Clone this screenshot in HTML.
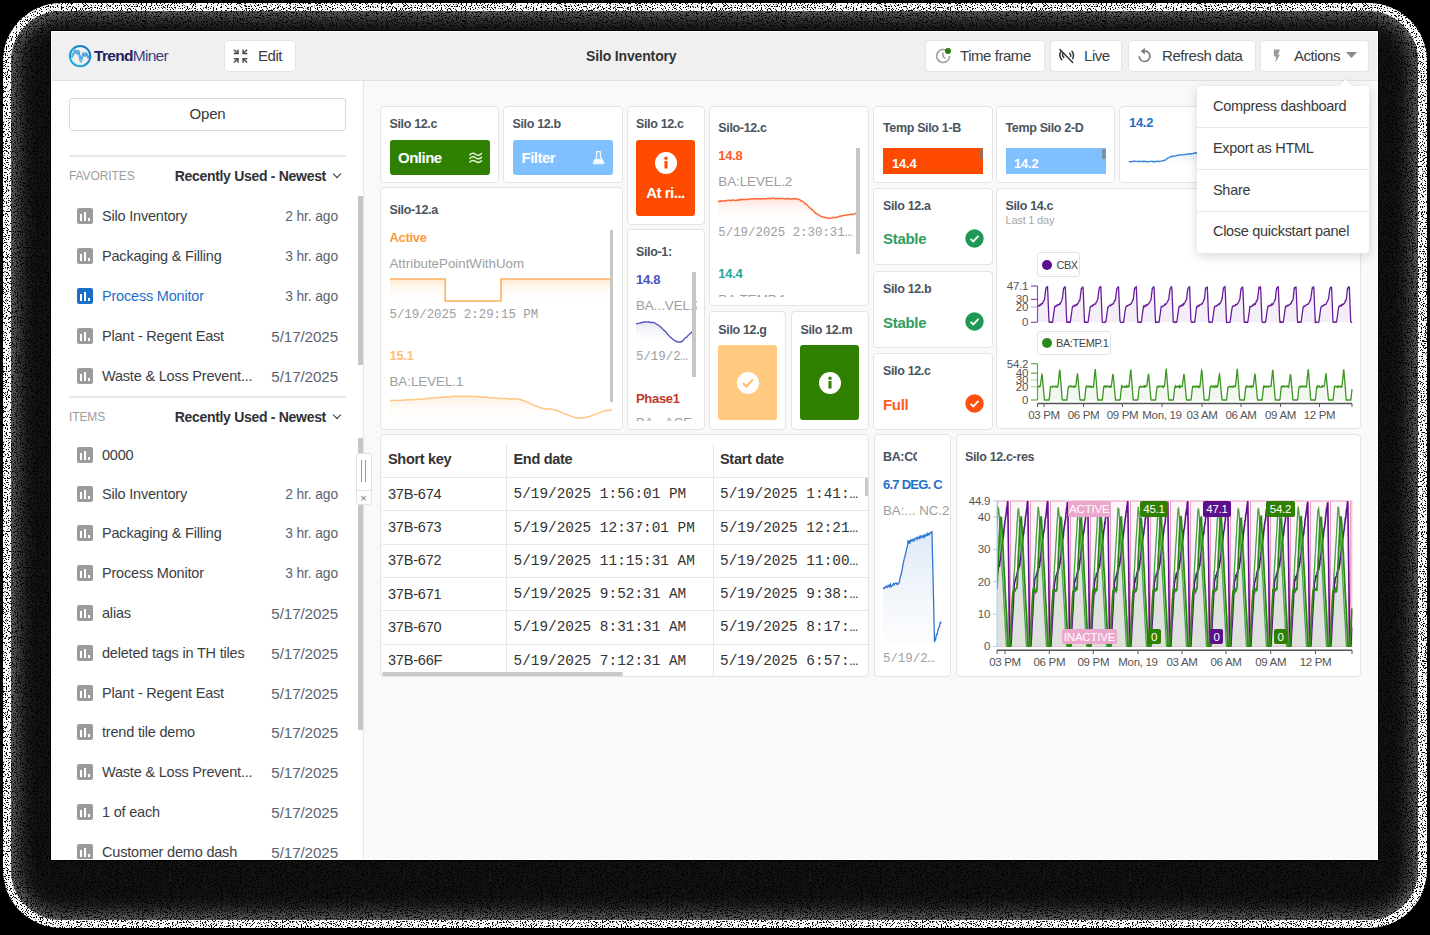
<!DOCTYPE html>
<html><head><meta charset="utf-8">
<style>
*{box-sizing:border-box;margin:0;padding:0}
html,body{width:1430px;height:935px;overflow:hidden;background:#000;font-family:"Liberation Sans",sans-serif;color:#333}
.a{position:absolute}
.t{position:absolute;white-space:nowrap;line-height:21px;height:21px}
#band{left:3px;top:3px;width:1424px;height:925px;border-radius:58px;background:#fcfcfc}
#shad{left:11px;top:11px;width:1407px;height:909px;border-radius:50px;background:#121212;box-shadow:inset 0 0 20px 4px #808080}
#win{left:51px;top:31px;width:1327px;height:829px;background:#f9f9f9;box-shadow:0 0 0 1px #000}
#hdr{left:51px;top:31px;width:1327px;height:50px;background:#f0f0f0;border-bottom:1px solid #e0e0e0}
.btn{position:absolute;background:#fff;border:1px solid #e4e4e4;border-radius:4px;height:32px;top:40px}
.ht{position:absolute;white-space:nowrap;line-height:20px;top:46px;font-size:15px;letter-spacing:-0.45px;color:#3d3d3d}
#side{left:51px;top:81px;width:313px;height:779px;background:#fff;border-right:1px solid #e6e6e6}
#sclip{left:0;top:81px;width:364px;height:779px;overflow:hidden}
#sclip .in{position:absolute;left:0;top:-81px;width:364px;height:935px}
.ic{position:absolute;left:77px;width:16px;height:16px;border-radius:2px;background:#9b9b9b}
.ic i{position:absolute;width:2.2px;background:#fff}
.ic.blue{background:#1a6fc9}
.it{left:102px;font-size:14.5px;letter-spacing:-0.2px;color:#3b3e44}
.it.blue{color:#1f6fc6}
.dt{right:26px;font-size:14.5px;letter-spacing:-0.1px;color:#5a6372;text-align:right}
.sec{left:69px;font-size:12px;letter-spacing:-0.1px;color:#9c9c9c}
.sort{right:38px;font-size:14px;font-weight:bold;letter-spacing:-0.3px;color:#2f3237;text-align:right}
.chev{position:absolute;left:334px;width:6px;height:6px;border-right:1.6px solid #333;border-bottom:1.6px solid #333;transform:rotate(45deg)}
.div{position:absolute;left:69px;width:277px;height:2px;background:#e8e8e8}
.sb{position:absolute;left:358px;width:4.5px;background:#c6c6c6}
.tile{position:absolute;background:#fff;border:1px solid #e4e4e4;border-radius:4px}
.ttl{font-size:12.5px;font-weight:bold;letter-spacing:-0.35px;color:#4a5460}
.bdg{font-size:15px;font-weight:bold;letter-spacing:-0.5px;color:#fff}
.val{font-size:13px;font-weight:bold;letter-spacing:-0.3px}
.lbl{font-size:13.3px;letter-spacing:0px;color:#9e9e9e}
.mono{font-family:"Liberation Mono",monospace;font-size:12.4px;color:#9e9e9e}
.bar{font-size:13px;font-weight:bold;letter-spacing:-0.2px;color:#fff}
.stat{font-size:15px;font-weight:bold;letter-spacing:-0.3px}
.sub{font-size:11px;letter-spacing:-0.2px;color:#a8a8a8}
.leg{font-size:11px;letter-spacing:-0.4px;color:#444}
.axl{font-size:11.5px;letter-spacing:-0.3px;color:#555;text-align:right}
.axx{font-size:11.5px;letter-spacing:-0.3px;color:#555;text-align:center}
.th{font-size:14.5px;font-weight:bold;letter-spacing:-0.3px;color:#333}
.td{font-size:14.5px;letter-spacing:-0.2px;color:#333}
.tdm{font-family:"Liberation Mono",monospace;font-size:14.4px;color:#333}
.cbdg{color:#fff;font-size:11.5px;line-height:16px;text-align:center;border-radius:2px;letter-spacing:-0.2px}
.mnu{font-size:14.5px;letter-spacing:-0.3px;color:#3a3a3a}
.clip{position:absolute;overflow:hidden}
.inr{position:absolute;width:1430px;height:935px}
</style></head><body>
<div id="band" class="a"></div>
<div id="shad" class="a"></div>
<svg class="a" style="left:0;top:0" width="1430" height="935">
<defs><filter id="nz" x="0" y="0" width="100%" height="100%"><feTurbulence type="fractalNoise" baseFrequency="0.8" numOctaves="2" seed="5" result="t"/><feColorMatrix in="t" type="matrix" values="0 0 0 0 0  0 0 0 0 0  0 0 0 0 0  0 0 0 -20 8.6"/></filter></defs>
<path d="M0 0 H1430 V935 H0 Z M51 31 V860 H1378 V31 Z" fill-rule="evenodd" fill="#000" filter="url(#nz)"/>
</svg>
<div id="win" class="a"></div>
<div id="hdr" class="a"></div>
<!-- logo -->
<svg class="a" style="left:0;top:0" width="100" height="80" viewBox="0 0 100 80">
 <defs><linearGradient id="lg" x1="1" y1="0" x2="0" y2="1"><stop offset="0" stop-color="#1b6fc4"/><stop offset="1" stop-color="#14b6e8"/></linearGradient></defs>
 <circle cx="80.1" cy="56.1" r="10.2" fill="none" stroke="url(#lg)" stroke-width="2"/>
 <path d="M71.4 57.8 L75.3 50.3 L76.9 53.5 L78.4 51 L80.8 61.6 L83.4 53.2 L84.9 55.8 L86.3 53.4 L88.7 58.2" fill="none" stroke="url(#lg)" stroke-width="2" stroke-linejoin="round"/>
 <path d="M71.4 57.8 L75.3 50.3 L76.9 53.5 L78.4 51 L80.8 61.6 L83.4 53.2 L84.9 55.8 L86.3 53.4 L88.7 58.2" fill="none" stroke="#d8eef9" stroke-width="0.5" stroke-linejoin="round"/>
</svg>
<div class="ht" style="left:94px;top:46px;font-size:15.5px;letter-spacing:-0.7px;color:#1c2260"><b>Trend</b><span style="color:#3c427e">Miner</span></div>
<div class="btn" style="left:224px;width:72px"></div>
<svg class="a" style="left:0;top:0" width="260" height="70" viewBox="0 0 260 70" fill="none" stroke="#4a4a4a" stroke-width="1.5" stroke-linecap="square">
 <path d="M234.5 50.3 L237.6 53.3"/><path d="M234.6 53.6 H238 V50.2"/>
 <path d="M246.6 50.3 L243.5 53.3"/><path d="M246.5 53.6 H243.1 V50.2"/>
 <path d="M234.5 62 L237.6 59"/><path d="M234.6 58.7 H238 V62.1"/>
 <path d="M246.6 62 L243.5 59"/><path d="M246.5 58.7 H243.1 V62.1"/>
</svg>
<div class="ht" style="left:258px">Edit</div>
<div class="ht" style="left:586px;font-weight:bold;font-size:14px;letter-spacing:-0.15px;color:#333">Silo Inventory</div>
<div class="btn" style="left:925px;width:120px"></div>
<svg class="a" style="left:934px;top:47.3px" width="20" height="18" viewBox="0 0 20 18" fill="none">
 <path d="M13.5 4.2 A6.5 6.5 0 1 0 15.6 9" stroke="#9c9c9c" stroke-width="1.6"/>
 <path d="M9 5.5 V9.5 L11.5 11.5" stroke="#9c9c9c" stroke-width="1.5"/>
 <circle cx="14" cy="4" r="3" fill="#2a7d06"/>
</svg>
<div class="ht" style="left:960px">Time frame</div>
<div class="btn" style="left:1050px;width:72px"></div>
<svg class="a" style="left:0;top:0" width="1080" height="70" viewBox="0 0 1080 70" fill="none" stroke="#333" stroke-width="1.5" stroke-linecap="round"><path d="M1060.7 51.8 Q1058.6 55.6 1061.7 59.7"/><path d="M1062.6 53.8 Q1062 55.8 1063.8 57.4"/><path d="M1069.7 53.2 Q1071 54.7 1070.7 56.4"/><path d="M1072 51.2 Q1074.6 54.8 1072.7 58.6"/><path d="M1059.9 49.5 L1072.7 62.5"/></svg>
<div class="ht" style="left:1084px">Live</div>
<div class="btn" style="left:1128px;width:128px"></div>
<svg class="a" style="left:0;top:0" width="1160" height="70" viewBox="0 0 1160 70"><path d="M1139.3 56.2 A5.3 5.3 0 1 0 1144.2 50.9" fill="none" stroke="#7a7a7a" stroke-width="1.7"/><path d="M1140.8 51.2 L1144.8 47.8 L1144.8 54.6 Z" fill="#7a7a7a"/></svg>
<div class="ht" style="left:1162px">Refresh data</div>
<div class="btn" style="left:1260px;width:109px"></div>
<svg class="a" style="left:0;top:0" width="1290" height="70" viewBox="0 0 1290 70"><path d="M1274 49.4 H1280 L1277.8 54.8 H1280 L1275.3 62.4 L1276.2 56.6 H1273.8 Z" fill="#9a9a9a"/></svg>
<div class="ht" style="left:1294px">Actions</div>
<svg class="a" style="left:1346px;top:52px" width="11" height="7" viewBox="0 0 11 7"><path d="M0 0 H11 L5.5 6 Z" fill="#8c8c8c"/></svg>

<div id="side" class="a"></div>
<div id="sclip" class="a"><div class="in">
<div class="a" style="left:69px;top:98px;width:277px;height:33px;border:1px solid #dadada;border-radius:3px"></div>
<div class="t" style="left:69px;width:277px;top:103px;text-align:center;font-size:15px;letter-spacing:-0.2px;color:#3a3a3a">Open</div>
<div class="div" style="top:155px"></div>
<div class="t sec" style="top:166px">FAVORITES</div>
<div class="t sort" style="top:166px">Recently Used - Newest</div>
<div class="chev" style="top:171px"></div>
<div class="div" style="top:395.5px"></div>
<div class="t sec" style="top:406.5px">ITEMS</div>
<div class="t sort" style="top:406.5px">Recently Used - Newest</div>
<div class="chev" style="top:411.5px"></div>
<div class="sb" style="top:196px;height:169px"></div>
<div class="sb" style="top:437.5px;height:292px"></div>
<div class="ic" style="top:207.5px"><i style="left:3px;top:6px;height:7px"></i><i style="left:7px;top:4px;height:9px"></i><i style="left:11px;top:10px;height:3px"></i></div><div class="t it" style="top:205.5px">Silo Inventory</div><div class="t dt" style="top:205.5px;font-size:13.8px">2 hr. ago</div>
<div class="ic" style="top:247.5px"><i style="left:3px;top:6px;height:7px"></i><i style="left:7px;top:4px;height:9px"></i><i style="left:11px;top:10px;height:3px"></i></div><div class="t it" style="top:245.5px">Packaging &amp; Filling</div><div class="t dt" style="top:245.5px;font-size:13.8px">3 hr. ago</div>
<div class="ic blue" style="top:287.5px"><i style="left:3px;top:6px;height:7px"></i><i style="left:7px;top:4px;height:9px"></i><i style="left:11px;top:10px;height:3px"></i></div><div class="t it blue" style="top:285.5px">Process Monitor</div><div class="t dt" style="top:285.5px;font-size:13.8px">3 hr. ago</div>
<div class="ic" style="top:327.5px"><i style="left:3px;top:6px;height:7px"></i><i style="left:7px;top:4px;height:9px"></i><i style="left:11px;top:10px;height:3px"></i></div><div class="t it" style="top:325.5px">Plant - Regent East</div><div class="t dt" style="top:325.5px;font-size:15.2px">5/17/2025</div>
<div class="ic" style="top:367.5px"><i style="left:3px;top:6px;height:7px"></i><i style="left:7px;top:4px;height:9px"></i><i style="left:11px;top:10px;height:3px"></i></div><div class="t it" style="top:365.5px">Waste &amp; Loss Prevent...</div><div class="t dt" style="top:365.5px;font-size:15.2px">5/17/2025</div>
<div class="ic" style="top:446.5px"><i style="left:3px;top:6px;height:7px"></i><i style="left:7px;top:4px;height:9px"></i><i style="left:11px;top:10px;height:3px"></i></div><div class="t it" style="top:444.5px">0000</div>
<div class="ic" style="top:485.5px"><i style="left:3px;top:6px;height:7px"></i><i style="left:7px;top:4px;height:9px"></i><i style="left:11px;top:10px;height:3px"></i></div><div class="t it" style="top:483.5px">Silo Inventory</div><div class="t dt" style="top:483.5px;font-size:13.8px">2 hr. ago</div>
<div class="ic" style="top:525.0px"><i style="left:3px;top:6px;height:7px"></i><i style="left:7px;top:4px;height:9px"></i><i style="left:11px;top:10px;height:3px"></i></div><div class="t it" style="top:523.0px">Packaging &amp; Filling</div><div class="t dt" style="top:523.0px;font-size:13.8px">3 hr. ago</div>
<div class="ic" style="top:565.0px"><i style="left:3px;top:6px;height:7px"></i><i style="left:7px;top:4px;height:9px"></i><i style="left:11px;top:10px;height:3px"></i></div><div class="t it" style="top:563.0px">Process Monitor</div><div class="t dt" style="top:563.0px;font-size:13.8px">3 hr. ago</div>
<div class="ic" style="top:604.6px"><i style="left:3px;top:6px;height:7px"></i><i style="left:7px;top:4px;height:9px"></i><i style="left:11px;top:10px;height:3px"></i></div><div class="t it" style="top:602.6px">alias</div><div class="t dt" style="top:602.6px;font-size:15.2px">5/17/2025</div>
<div class="ic" style="top:644.8px"><i style="left:3px;top:6px;height:7px"></i><i style="left:7px;top:4px;height:9px"></i><i style="left:11px;top:10px;height:3px"></i></div><div class="t it" style="top:642.8px">deleted tags in TH tiles</div><div class="t dt" style="top:642.8px;font-size:15.2px">5/17/2025</div>
<div class="ic" style="top:684.7px"><i style="left:3px;top:6px;height:7px"></i><i style="left:7px;top:4px;height:9px"></i><i style="left:11px;top:10px;height:3px"></i></div><div class="t it" style="top:682.7px">Plant - Regent East</div><div class="t dt" style="top:682.7px;font-size:15.2px">5/17/2025</div>
<div class="ic" style="top:724.0px"><i style="left:3px;top:6px;height:7px"></i><i style="left:7px;top:4px;height:9px"></i><i style="left:11px;top:10px;height:3px"></i></div><div class="t it" style="top:722.0px">trend tile demo</div><div class="t dt" style="top:722.0px;font-size:15.2px">5/17/2025</div>
<div class="ic" style="top:764.0px"><i style="left:3px;top:6px;height:7px"></i><i style="left:7px;top:4px;height:9px"></i><i style="left:11px;top:10px;height:3px"></i></div><div class="t it" style="top:762.0px">Waste &amp; Loss Prevent...</div><div class="t dt" style="top:762.0px;font-size:15.2px">5/17/2025</div>
<div class="ic" style="top:803.8px"><i style="left:3px;top:6px;height:7px"></i><i style="left:7px;top:4px;height:9px"></i><i style="left:11px;top:10px;height:3px"></i></div><div class="t it" style="top:801.8px">1 of each</div><div class="t dt" style="top:801.8px;font-size:15.2px">5/17/2025</div>
<div class="ic" style="top:843.7px"><i style="left:3px;top:6px;height:7px"></i><i style="left:7px;top:4px;height:9px"></i><i style="left:11px;top:10px;height:3px"></i></div><div class="t it" style="top:841.7px">Customer demo dash</div><div class="t dt" style="top:841.7px;font-size:15.2px">5/17/2025</div>
</div></div>
<div class="a" style="left:355.5px;top:452.5px;width:16px;height:52.5px;background:#fff;border:1px solid #e2e2e2;border-radius:3px"></div>
<div class="a" style="left:356px;top:489.5px;width:15px;height:1px;background:#e2e2e2"></div>
<div class="a" style="left:361px;top:459.5px;width:1.2px;height:22.5px;background:#9a9a9a"></div>
<div class="a" style="left:364.5px;top:459.5px;width:1.2px;height:22.5px;background:#9a9a9a"></div>
<div class="t" style="left:357px;width:13px;top:488px;text-align:center;font-size:11px;color:#777">&#215;</div>
<div class="tile" style="left:380px;top:106px;width:119px;height:77px;"></div>
<div class="t ttl" style="left:389.5px;top:114.30px;">Silo 12.c</div>
<div class="a" style="left:389.5px;top:140px;width:100.70px;height:34.50px;background:#2f7f00;border-radius:3px"></div>
<div class="t bdg" style="left:398px;top:147.00px;">Online</div>
<svg class="a" style="left:0;top:0" width="500" height="180" viewBox="0 0 500 180" fill="none" stroke="#e8f2e0" stroke-width="1.4" stroke-linecap="round"><path d="M469.8 154.8 C471.8 152.8 474 153.0 475.6 154.2 S479.6 155.6 481.6 153.6"/><path d="M469.8 158.4 C471.8 156.4 474 156.6 475.6 157.8 S479.6 159.2 481.6 157.2"/><path d="M469.8 162.0 C471.8 160.0 474 160.2 475.6 161.4 S479.6 162.8 481.6 160.8"/></svg>
<div class="tile" style="left:503px;top:106px;width:120px;height:77px;"></div>
<div class="t ttl" style="left:512.5px;top:114.30px;">Silo 12.b</div>
<div class="a" style="left:513px;top:140px;width:100.40px;height:34.50px;background:#80c0ff;border-radius:3px"></div>
<div class="t bdg" style="left:521.5px;top:147.00px;">Filter</div>
<svg class="a" style="left:0;top:0" width="620" height="180" viewBox="0 0 620 180"><path d="M596.2 151.6 H600.6 M596.6 151.6 V156.8 L593.6 162.6 Q593.2 163.6 594.2 163.6 H603 Q604 163.6 603.6 162.6 L600.4 156.8 V151.6" fill="none" stroke="#eef6ff" stroke-width="1.3"/><path d="M595 159.6 Q598 158.2 599.5 159 Q601 159.6 602.2 159.4 L603.6 162.8 H593.6 Z" fill="#fff"/></svg>
<div class="tile" style="left:627px;top:106px;width:78px;height:119px;"></div>
<div class="t ttl" style="left:636px;top:114.30px;">Silo 12.c</div>
<div class="a" style="left:636px;top:140px;width:59.00px;height:75.50px;background:#ff4b00;border-radius:3px"></div>
<svg class="a" style="left:654px;top:151px" width="24" height="24" viewBox="0 0 24 24"><circle cx="12" cy="12" r="11" fill="#fff"/><circle cx="12" cy="7.2" r="1.7" fill="#ff4b00"/><rect x="10.5" y="10" width="3" height="7.5" fill="#ff4b00"/></svg>
<div class="t bdg" style="left:636px;top:182.00px;width:59px;text-align:center">At ri...</div>
<div class="tile" style="left:709px;top:106px;width:160px;height:200px;"></div>
<div class="clip" style="left:710px;top:106.5px;width:159px;height:190.5px"><div class="inr" style="left:-710px;top:-106.5px">
<div class="t ttl" style="left:718.3px;top:118.40px;">Silo-12.c</div>
<div class="t val" style="left:718.3px;top:145.00px;color:#ff5a22">14.8</div>
<div class="t lbl" style="left:718.3px;top:171.00px;">BA:LEVEL.2</div>
<svg class="a" style="left:0;top:0" width="1430" height="935"><defs><linearGradient id="gr1" x1="0" y1="0" x2="0" y2="1"><stop offset="0" stop-color="#ffdcd0" stop-opacity="0.8"/><stop offset="1" stop-color="#fff" stop-opacity="0"/></linearGradient></defs><path d="M718.00 201.36 L719.00 201.14 L720.00 201.46 L721.00 200.92 L722.00 201.21 L723.00 200.99 L724.00 200.66 L725.00 200.94 L726.00 200.49 L727.00 200.73 L728.00 200.36 L729.00 200.30 L730.00 200.49 L731.00 200.73 L732.00 200.09 L733.00 200.10 L734.00 200.35 L735.00 200.53 L736.00 200.16 L737.00 199.95 L738.00 200.34 L739.00 199.53 L740.00 200.11 L741.00 199.59 L742.00 199.41 L743.00 199.32 L744.00 199.41 L745.00 199.76 L746.00 199.19 L747.00 199.45 L748.00 199.44 L749.00 199.17 L750.00 199.26 L751.00 198.82 L752.00 198.77 L753.00 198.84 L754.00 199.17 L755.00 198.92 L756.00 198.79 L757.00 198.97 L758.00 198.82 L759.00 198.66 L760.00 199.02 L761.00 198.91 L762.00 198.52 L763.00 198.75 L764.00 198.68 L765.00 198.94 L766.00 198.80 L767.00 198.42 L768.00 198.96 L769.00 198.25 L770.00 198.48 L771.00 198.74 L772.00 198.24 L773.00 198.50 L774.00 198.14 L775.00 198.64 L776.00 198.71 L777.00 198.56 L778.00 198.80 L779.00 198.36 L780.00 198.67 L781.00 198.60 L782.00 198.60 L783.00 198.51 L784.00 198.84 L785.00 198.94 L786.00 198.58 L787.00 198.75 L788.00 198.30 L789.00 198.83 L790.00 198.82 L791.00 199.13 L792.00 199.02 L793.00 198.62 L794.00 198.74 L795.00 199.01 L796.00 198.57 L797.00 199.10 L798.00 199.13 L799.00 199.43 L800.00 199.82 L801.00 200.90 L802.00 200.97 L803.00 201.72 L804.00 202.54 L805.00 203.70 L806.00 203.88 L807.00 205.04 L808.00 206.01 L809.00 207.18 L810.00 208.06 L811.00 209.03 L812.00 209.48 L813.00 210.51 L814.00 211.35 L815.00 212.64 L816.00 213.52 L817.00 213.65 L818.00 214.39 L819.00 215.09 L820.00 215.69 L821.00 216.41 L822.00 216.94 L823.00 217.04 L824.00 217.11 L825.00 217.63 L826.00 217.70 L827.00 217.94 L828.00 218.33 L829.00 218.20 L830.00 218.14 L831.00 218.05 L832.00 217.93 L833.00 217.26 L834.00 217.77 L835.00 217.50 L836.00 217.41 L837.00 217.18 L838.00 216.68 L839.00 216.52 L840.00 216.11 L841.00 216.37 L842.00 215.74 L843.00 215.57 L844.00 215.51 L845.00 215.30 L846.00 215.27 L847.00 214.87 L848.00 214.65 L849.00 214.60 L850.00 214.38 L851.00 214.42 L852.00 213.97 L853.00 214.47 L854.00 214.08 L855.00 213.53 L856.00 213.43 L857.00 213.33 L858.00 213.15 L858 222 L718 222 Z" fill="url(#gr1)"/><path d="M718.00 201.36 L719.00 201.14 L720.00 201.46 L721.00 200.92 L722.00 201.21 L723.00 200.99 L724.00 200.66 L725.00 200.94 L726.00 200.49 L727.00 200.73 L728.00 200.36 L729.00 200.30 L730.00 200.49 L731.00 200.73 L732.00 200.09 L733.00 200.10 L734.00 200.35 L735.00 200.53 L736.00 200.16 L737.00 199.95 L738.00 200.34 L739.00 199.53 L740.00 200.11 L741.00 199.59 L742.00 199.41 L743.00 199.32 L744.00 199.41 L745.00 199.76 L746.00 199.19 L747.00 199.45 L748.00 199.44 L749.00 199.17 L750.00 199.26 L751.00 198.82 L752.00 198.77 L753.00 198.84 L754.00 199.17 L755.00 198.92 L756.00 198.79 L757.00 198.97 L758.00 198.82 L759.00 198.66 L760.00 199.02 L761.00 198.91 L762.00 198.52 L763.00 198.75 L764.00 198.68 L765.00 198.94 L766.00 198.80 L767.00 198.42 L768.00 198.96 L769.00 198.25 L770.00 198.48 L771.00 198.74 L772.00 198.24 L773.00 198.50 L774.00 198.14 L775.00 198.64 L776.00 198.71 L777.00 198.56 L778.00 198.80 L779.00 198.36 L780.00 198.67 L781.00 198.60 L782.00 198.60 L783.00 198.51 L784.00 198.84 L785.00 198.94 L786.00 198.58 L787.00 198.75 L788.00 198.30 L789.00 198.83 L790.00 198.82 L791.00 199.13 L792.00 199.02 L793.00 198.62 L794.00 198.74 L795.00 199.01 L796.00 198.57 L797.00 199.10 L798.00 199.13 L799.00 199.43 L800.00 199.82 L801.00 200.90 L802.00 200.97 L803.00 201.72 L804.00 202.54 L805.00 203.70 L806.00 203.88 L807.00 205.04 L808.00 206.01 L809.00 207.18 L810.00 208.06 L811.00 209.03 L812.00 209.48 L813.00 210.51 L814.00 211.35 L815.00 212.64 L816.00 213.52 L817.00 213.65 L818.00 214.39 L819.00 215.09 L820.00 215.69 L821.00 216.41 L822.00 216.94 L823.00 217.04 L824.00 217.11 L825.00 217.63 L826.00 217.70 L827.00 217.94 L828.00 218.33 L829.00 218.20 L830.00 218.14 L831.00 218.05 L832.00 217.93 L833.00 217.26 L834.00 217.77 L835.00 217.50 L836.00 217.41 L837.00 217.18 L838.00 216.68 L839.00 216.52 L840.00 216.11 L841.00 216.37 L842.00 215.74 L843.00 215.57 L844.00 215.51 L845.00 215.30 L846.00 215.27 L847.00 214.87 L848.00 214.65 L849.00 214.60 L850.00 214.38 L851.00 214.42 L852.00 213.97 L853.00 214.47 L854.00 214.08 L855.00 213.53 L856.00 213.43 L857.00 213.33 L858.00 213.15" fill="none" stroke="#ff6a3a" stroke-width="1.5"/></svg>
<div class="t mono" style="left:718.3px;top:223.00px;">5/19/2025 2:30:31…</div>
<div class="a" style="left:856px;top:148px;width:3.50px;height:106.00px;background:#c6c6c6"></div>
<div class="t val" style="left:718.3px;top:263.00px;color:#26a69a">14.4</div>
<div class="t lbl" style="left:718.3px;top:288.50px;">BA:TEMP.1</div>
</div></div>
<div class="tile" style="left:873px;top:106px;width:120px;height:77px;"></div>
<div class="t ttl" style="left:883px;top:118.40px;">Temp Silo 1-B</div>
<div class="a" style="left:883px;top:148.3px;width:100.30px;height:25.30px;background:#ff4b00"></div>
<div class="a" style="left:980px;top:149px;width:3.30px;height:9.50px;background:#9b6b5a"></div>
<div class="t bar" style="left:892px;top:153.00px;">14.4</div>
<div class="tile" style="left:996px;top:106px;width:119px;height:77px;"></div>
<div class="t ttl" style="left:1005.5px;top:118.40px;">Temp Silo 2-D</div>
<div class="a" style="left:1005.5px;top:148.3px;width:100.10px;height:25.30px;background:#80c0ff"></div>
<div class="a" style="left:1102px;top:149px;width:3.60px;height:9.50px;background:#7a93aa"></div>
<div class="t bar" style="left:1014px;top:153.00px;">14.2</div>
<div class="tile" style="left:1119px;top:106px;width:120px;height:77px;"></div>
<div class="t val" style="left:1129px;top:112.00px;color:#1f6fc6">14.2</div>
<svg class="a" style="left:0;top:0" width="1430" height="935"><defs><linearGradient id="gr2" x1="0" y1="0" x2="0" y2="1"><stop offset="0" stop-color="#d8e6f6" stop-opacity="0.8"/><stop offset="1" stop-color="#fff" stop-opacity="0"/></linearGradient></defs><path d="M1129.00 161.27 L1130.00 161.71 L1131.00 161.80 L1132.00 161.48 L1133.00 161.49 L1134.00 161.25 L1135.00 161.26 L1136.00 161.41 L1137.00 161.36 L1138.00 161.70 L1139.00 161.30 L1140.00 161.21 L1141.00 161.77 L1142.00 161.52 L1143.00 161.29 L1144.00 161.53 L1145.00 161.22 L1146.00 161.52 L1147.00 161.79 L1148.00 161.72 L1149.00 161.62 L1150.00 161.36 L1151.00 161.42 L1152.00 161.30 L1153.00 161.66 L1154.00 161.52 L1155.00 161.67 L1156.00 161.40 L1157.00 161.33 L1158.00 161.54 L1159.00 161.49 L1160.00 161.26 L1161.00 161.08 L1162.00 160.94 L1163.00 160.74 L1164.00 160.29 L1165.00 160.31 L1166.00 159.55 L1167.00 158.68 L1168.00 158.02 L1169.00 157.50 L1170.00 156.82 L1171.00 156.42 L1172.00 156.44 L1173.00 156.00 L1174.00 156.16 L1175.00 156.05 L1176.00 155.90 L1177.00 155.41 L1178.00 155.19 L1179.00 155.06 L1180.00 154.91 L1181.00 154.78 L1182.00 154.89 L1183.00 154.92 L1184.00 154.75 L1185.00 154.40 L1186.00 154.37 L1187.00 154.33 L1188.00 153.76 L1189.00 153.97 L1190.00 153.99 L1191.00 153.78 L1192.00 153.62 L1193.00 153.33 L1194.00 153.01 L1195.00 153.24 L1196.00 152.83 L1197.00 152.98 L1198.00 153.08 L1199.00 152.74 L1200.00 152.74 L1201.00 153.07 L1202.00 152.93 L1203.00 152.60 L1204.00 152.58 L1205.00 152.59 L1206.00 153.04 L1207.00 152.98 L1208.00 152.59 L1209.00 153.00 L1210.00 153.09 L1211.00 152.89 L1212.00 152.71 L1213.00 152.83 L1214.00 152.58 L1215.00 152.51 L1216.00 153.08 L1217.00 152.89 L1218.00 152.82 L1219.00 153.06 L1220.00 152.76 L1221.00 153.02 L1222.00 153.00 L1223.00 152.63 L1224.00 152.65 L1225.00 152.68 L1226.00 152.64 L1227.00 152.85 L1228.00 152.66 L1229.00 152.75 L1230.00 152.58 L1231.00 153.05 L1232.00 152.71 L1233.00 152.77 L1234.00 152.85 L1235.00 153.04 L1236.00 152.75 L1237.00 153.05 L1238.00 152.80 L1238 169 L1129 169 Z" fill="url(#gr2)"/><path d="M1129.00 161.27 L1130.00 161.71 L1131.00 161.80 L1132.00 161.48 L1133.00 161.49 L1134.00 161.25 L1135.00 161.26 L1136.00 161.41 L1137.00 161.36 L1138.00 161.70 L1139.00 161.30 L1140.00 161.21 L1141.00 161.77 L1142.00 161.52 L1143.00 161.29 L1144.00 161.53 L1145.00 161.22 L1146.00 161.52 L1147.00 161.79 L1148.00 161.72 L1149.00 161.62 L1150.00 161.36 L1151.00 161.42 L1152.00 161.30 L1153.00 161.66 L1154.00 161.52 L1155.00 161.67 L1156.00 161.40 L1157.00 161.33 L1158.00 161.54 L1159.00 161.49 L1160.00 161.26 L1161.00 161.08 L1162.00 160.94 L1163.00 160.74 L1164.00 160.29 L1165.00 160.31 L1166.00 159.55 L1167.00 158.68 L1168.00 158.02 L1169.00 157.50 L1170.00 156.82 L1171.00 156.42 L1172.00 156.44 L1173.00 156.00 L1174.00 156.16 L1175.00 156.05 L1176.00 155.90 L1177.00 155.41 L1178.00 155.19 L1179.00 155.06 L1180.00 154.91 L1181.00 154.78 L1182.00 154.89 L1183.00 154.92 L1184.00 154.75 L1185.00 154.40 L1186.00 154.37 L1187.00 154.33 L1188.00 153.76 L1189.00 153.97 L1190.00 153.99 L1191.00 153.78 L1192.00 153.62 L1193.00 153.33 L1194.00 153.01 L1195.00 153.24 L1196.00 152.83 L1197.00 152.98 L1198.00 153.08 L1199.00 152.74 L1200.00 152.74 L1201.00 153.07 L1202.00 152.93 L1203.00 152.60 L1204.00 152.58 L1205.00 152.59 L1206.00 153.04 L1207.00 152.98 L1208.00 152.59 L1209.00 153.00 L1210.00 153.09 L1211.00 152.89 L1212.00 152.71 L1213.00 152.83 L1214.00 152.58 L1215.00 152.51 L1216.00 153.08 L1217.00 152.89 L1218.00 152.82 L1219.00 153.06 L1220.00 152.76 L1221.00 153.02 L1222.00 153.00 L1223.00 152.63 L1224.00 152.65 L1225.00 152.68 L1226.00 152.64 L1227.00 152.85 L1228.00 152.66 L1229.00 152.75 L1230.00 152.58 L1231.00 153.05 L1232.00 152.71 L1233.00 152.77 L1234.00 152.85 L1235.00 153.04 L1236.00 152.75 L1237.00 153.05 L1238.00 152.80" fill="none" stroke="#3a86d6" stroke-width="1.4"/></svg>
<div class="tile" style="left:380px;top:187px;width:243px;height:243px;"></div>
<div class="clip" style="left:381px;top:188.5px;width:241px;height:233px"><div class="inr" style="left:-381px;top:-188.5px">
<div class="t ttl" style="left:389.5px;top:199.80px;">Silo-12.a</div>
<div class="t val" style="left:389.5px;top:227.00px;color:#ff9a3c">Active</div>
<div class="t lbl" style="left:389.5px;top:253.00px;">AttributePointWithUom</div>
<svg class="a" style="left:0;top:0" width="1430" height="935"><defs><linearGradient id="gr3" x1="0" y1="0" x2="0" y2="1"><stop offset="0" stop-color="#ffe6cc" stop-opacity="0.9"/><stop offset="1" stop-color="#fff" stop-opacity="0"/></linearGradient></defs><path d="M390 279 H445.2 V301 H390 Z M501 279 H612.7 V301 H501 Z" fill="url(#gr3)"/><path d="M390.00 279.00 L445.20 279.00 L445.20 301.00 L501.00 301.00 L501.00 279.00 L612.70 279.00" fill="none" stroke="#ffb060" stroke-width="1.6"/></svg>
<div class="t mono" style="left:389.5px;top:304.80px;">5/19/2025 2:29:15 PM</div>
<div class="t val" style="left:389.5px;top:345.00px;color:#ffc077">15.1</div>
<div class="t lbl" style="left:389.5px;top:371.00px;">BA:LEVEL.1</div>
<svg class="a" style="left:0;top:0" width="1430" height="935"><defs><linearGradient id="gr4" x1="0" y1="0" x2="0" y2="1"><stop offset="0" stop-color="#ffeedd" stop-opacity="0.9"/><stop offset="1" stop-color="#fff" stop-opacity="0"/></linearGradient></defs><path d="M390.00 400.52 L391.00 400.51 L392.00 400.20 L393.00 400.45 L394.00 400.28 L395.00 400.16 L396.00 400.61 L397.00 400.21 L398.00 400.37 L399.00 400.49 L400.00 400.35 L401.00 400.18 L402.00 400.25 L403.00 400.23 L404.00 400.32 L405.00 399.86 L406.00 400.08 L407.00 399.84 L408.00 399.80 L409.00 400.03 L410.00 399.81 L411.00 399.78 L412.00 399.83 L413.00 399.85 L414.00 399.49 L415.00 399.52 L416.00 399.38 L417.00 399.30 L418.00 399.33 L419.00 399.10 L420.00 399.07 L421.00 398.95 L422.00 399.14 L423.00 398.91 L424.00 398.93 L425.00 398.88 L426.00 398.39 L427.00 398.48 L428.00 398.62 L429.00 398.47 L430.00 397.96 L431.00 397.87 L432.00 397.97 L433.00 397.66 L434.00 397.68 L435.00 397.49 L436.00 397.77 L437.00 397.76 L438.00 397.74 L439.00 397.22 L440.00 397.48 L441.00 397.37 L442.00 396.99 L443.00 397.36 L444.00 397.34 L445.00 396.83 L446.00 397.20 L447.00 396.81 L448.00 396.80 L449.00 397.05 L450.00 396.90 L451.00 396.45 L452.00 396.56 L453.00 396.57 L454.00 396.42 L455.00 396.30 L456.00 396.34 L457.00 396.55 L458.00 396.10 L459.00 396.40 L460.00 396.31 L461.00 396.04 L462.00 396.22 L463.00 396.38 L464.00 396.31 L465.00 396.04 L466.00 396.59 L467.00 396.48 L468.00 396.61 L469.00 396.11 L470.00 396.23 L471.00 396.12 L472.00 396.60 L473.00 396.33 L474.00 396.29 L475.00 396.51 L476.00 396.86 L477.00 396.86 L478.00 396.58 L479.00 396.58 L480.00 397.11 L481.00 396.97 L482.00 397.12 L483.00 396.83 L484.00 396.89 L485.00 397.35 L486.00 397.27 L487.00 397.14 L488.00 397.74 L489.00 397.65 L490.00 397.83 L491.00 397.49 L492.00 398.03 L493.00 397.64 L494.00 398.20 L495.00 398.04 L496.00 398.05 L497.00 398.26 L498.00 398.56 L499.00 398.23 L500.00 398.22 L501.00 398.53 L502.00 398.42 L503.00 398.40 L504.00 398.49 L505.00 398.47 L506.00 398.61 L507.00 398.72 L508.00 398.75 L509.00 399.06 L510.00 398.81 L511.00 398.96 L512.00 398.78 L513.00 398.90 L514.00 398.71 L515.00 398.85 L516.00 398.73 L517.00 399.23 L518.00 399.23 L519.00 399.17 L520.00 399.54 L521.00 400.05 L522.00 399.83 L523.00 400.57 L524.00 400.69 L525.00 401.10 L526.00 401.70 L527.00 401.86 L528.00 402.37 L529.00 402.93 L530.00 403.58 L531.00 403.67 L532.00 404.44 L533.00 404.84 L534.00 405.26 L535.00 405.58 L536.00 405.99 L537.00 406.23 L538.00 406.68 L539.00 407.02 L540.00 407.76 L541.00 407.78 L542.00 408.00 L543.00 408.19 L544.00 408.85 L545.00 409.02 L546.00 409.01 L547.00 408.85 L548.00 408.85 L549.00 408.90 L550.00 409.06 L551.00 408.99 L552.00 409.31 L553.00 409.39 L554.00 410.04 L555.00 410.31 L556.00 410.35 L557.00 410.49 L558.00 411.28 L559.00 411.26 L560.00 411.69 L561.00 411.89 L562.00 412.55 L563.00 413.04 L564.00 413.50 L565.00 413.76 L566.00 414.38 L567.00 414.51 L568.00 415.08 L569.00 415.38 L570.00 415.94 L571.00 416.08 L572.00 416.40 L573.00 416.86 L574.00 417.08 L575.00 417.52 L576.00 417.67 L577.00 417.96 L578.00 418.01 L579.00 418.11 L580.00 418.23 L581.00 417.91 L582.00 417.82 L583.00 418.12 L584.00 417.49 L585.00 417.66 L586.00 417.41 L587.00 416.82 L588.00 417.03 L589.00 416.77 L590.00 416.30 L591.00 416.03 L592.00 415.72 L593.00 414.94 L594.00 414.79 L595.00 414.39 L596.00 414.20 L597.00 413.79 L598.00 413.42 L599.00 412.89 L600.00 412.70 L601.00 412.22 L602.00 411.89 L603.00 411.30 L604.00 410.89 L605.00 410.69 L606.00 410.59 L607.00 410.24 L608.00 410.51 L609.00 410.21 L610.00 410.15 L611.00 410.09 L612.00 410.11 L612 424 L390 424 Z" fill="url(#gr4)"/><path d="M390.00 400.52 L391.00 400.51 L392.00 400.20 L393.00 400.45 L394.00 400.28 L395.00 400.16 L396.00 400.61 L397.00 400.21 L398.00 400.37 L399.00 400.49 L400.00 400.35 L401.00 400.18 L402.00 400.25 L403.00 400.23 L404.00 400.32 L405.00 399.86 L406.00 400.08 L407.00 399.84 L408.00 399.80 L409.00 400.03 L410.00 399.81 L411.00 399.78 L412.00 399.83 L413.00 399.85 L414.00 399.49 L415.00 399.52 L416.00 399.38 L417.00 399.30 L418.00 399.33 L419.00 399.10 L420.00 399.07 L421.00 398.95 L422.00 399.14 L423.00 398.91 L424.00 398.93 L425.00 398.88 L426.00 398.39 L427.00 398.48 L428.00 398.62 L429.00 398.47 L430.00 397.96 L431.00 397.87 L432.00 397.97 L433.00 397.66 L434.00 397.68 L435.00 397.49 L436.00 397.77 L437.00 397.76 L438.00 397.74 L439.00 397.22 L440.00 397.48 L441.00 397.37 L442.00 396.99 L443.00 397.36 L444.00 397.34 L445.00 396.83 L446.00 397.20 L447.00 396.81 L448.00 396.80 L449.00 397.05 L450.00 396.90 L451.00 396.45 L452.00 396.56 L453.00 396.57 L454.00 396.42 L455.00 396.30 L456.00 396.34 L457.00 396.55 L458.00 396.10 L459.00 396.40 L460.00 396.31 L461.00 396.04 L462.00 396.22 L463.00 396.38 L464.00 396.31 L465.00 396.04 L466.00 396.59 L467.00 396.48 L468.00 396.61 L469.00 396.11 L470.00 396.23 L471.00 396.12 L472.00 396.60 L473.00 396.33 L474.00 396.29 L475.00 396.51 L476.00 396.86 L477.00 396.86 L478.00 396.58 L479.00 396.58 L480.00 397.11 L481.00 396.97 L482.00 397.12 L483.00 396.83 L484.00 396.89 L485.00 397.35 L486.00 397.27 L487.00 397.14 L488.00 397.74 L489.00 397.65 L490.00 397.83 L491.00 397.49 L492.00 398.03 L493.00 397.64 L494.00 398.20 L495.00 398.04 L496.00 398.05 L497.00 398.26 L498.00 398.56 L499.00 398.23 L500.00 398.22 L501.00 398.53 L502.00 398.42 L503.00 398.40 L504.00 398.49 L505.00 398.47 L506.00 398.61 L507.00 398.72 L508.00 398.75 L509.00 399.06 L510.00 398.81 L511.00 398.96 L512.00 398.78 L513.00 398.90 L514.00 398.71 L515.00 398.85 L516.00 398.73 L517.00 399.23 L518.00 399.23 L519.00 399.17 L520.00 399.54 L521.00 400.05 L522.00 399.83 L523.00 400.57 L524.00 400.69 L525.00 401.10 L526.00 401.70 L527.00 401.86 L528.00 402.37 L529.00 402.93 L530.00 403.58 L531.00 403.67 L532.00 404.44 L533.00 404.84 L534.00 405.26 L535.00 405.58 L536.00 405.99 L537.00 406.23 L538.00 406.68 L539.00 407.02 L540.00 407.76 L541.00 407.78 L542.00 408.00 L543.00 408.19 L544.00 408.85 L545.00 409.02 L546.00 409.01 L547.00 408.85 L548.00 408.85 L549.00 408.90 L550.00 409.06 L551.00 408.99 L552.00 409.31 L553.00 409.39 L554.00 410.04 L555.00 410.31 L556.00 410.35 L557.00 410.49 L558.00 411.28 L559.00 411.26 L560.00 411.69 L561.00 411.89 L562.00 412.55 L563.00 413.04 L564.00 413.50 L565.00 413.76 L566.00 414.38 L567.00 414.51 L568.00 415.08 L569.00 415.38 L570.00 415.94 L571.00 416.08 L572.00 416.40 L573.00 416.86 L574.00 417.08 L575.00 417.52 L576.00 417.67 L577.00 417.96 L578.00 418.01 L579.00 418.11 L580.00 418.23 L581.00 417.91 L582.00 417.82 L583.00 418.12 L584.00 417.49 L585.00 417.66 L586.00 417.41 L587.00 416.82 L588.00 417.03 L589.00 416.77 L590.00 416.30 L591.00 416.03 L592.00 415.72 L593.00 414.94 L594.00 414.79 L595.00 414.39 L596.00 414.20 L597.00 413.79 L598.00 413.42 L599.00 412.89 L600.00 412.70 L601.00 412.22 L602.00 411.89 L603.00 411.30 L604.00 410.89 L605.00 410.69 L606.00 410.59 L607.00 410.24 L608.00 410.51 L609.00 410.21 L610.00 410.15 L611.00 410.09 L612.00 410.11" fill="none" stroke="#ffc885" stroke-width="1.5"/></svg>
<div class="a" style="left:609.5px;top:230px;width:3.50px;height:172.00px;background:#c6c6c6"></div>
</div></div>
<div class="tile" style="left:627px;top:229px;width:78px;height:201px;"></div>
<div class="clip" style="left:627.5px;top:230px;width:69px;height:191px"><div class="inr" style="left:-627.5px;top:-230px">
<div class="t ttl" style="left:636px;top:241.80px;">Silo-1:</div>
<div class="t val" style="left:636px;top:269.00px;color:#4a4fc4">14.8</div>
<div class="t lbl" style="left:636px;top:295.00px;">BA...VEL.2</div>
<svg class="a" style="left:0;top:0" width="1430" height="935"><defs><linearGradient id="gr5" x1="0" y1="0" x2="0" y2="1"><stop offset="0" stop-color="#e2e2f4" stop-opacity="0.9"/><stop offset="1" stop-color="#fff" stop-opacity="0"/></linearGradient></defs><path d="M636.00 323.99 L637.00 323.43 L638.00 323.64 L639.00 323.36 L640.00 322.97 L641.00 322.77 L642.00 322.64 L643.00 322.12 L644.00 322.38 L645.00 321.97 L646.00 321.79 L647.00 321.87 L648.00 322.14 L649.00 321.86 L650.00 322.25 L651.00 322.49 L652.00 322.34 L653.00 322.44 L654.00 322.72 L655.00 323.20 L656.00 323.76 L657.00 324.31 L658.00 325.11 L659.00 325.66 L660.00 326.48 L661.00 327.36 L662.00 328.55 L663.00 329.25 L664.00 330.42 L665.00 331.14 L666.00 332.25 L667.00 333.46 L668.00 334.77 L669.00 335.83 L670.00 336.84 L671.00 337.56 L672.00 338.58 L673.00 339.36 L674.00 340.08 L675.00 340.48 L676.00 341.45 L677.00 341.42 L678.00 342.14 L679.00 342.25 L680.00 341.71 L681.00 341.98 L682.00 341.48 L683.00 340.63 L684.00 339.37 L685.00 338.33 L686.00 337.35 L687.00 336.85 L688.00 335.47 L689.00 334.75 L690.00 333.55 L691.00 332.84 L692.00 332.15 L693.00 330.72 L694.00 330.19 L694 345 L636 345 Z" fill="url(#gr5)"/><path d="M636.00 323.99 L637.00 323.43 L638.00 323.64 L639.00 323.36 L640.00 322.97 L641.00 322.77 L642.00 322.64 L643.00 322.12 L644.00 322.38 L645.00 321.97 L646.00 321.79 L647.00 321.87 L648.00 322.14 L649.00 321.86 L650.00 322.25 L651.00 322.49 L652.00 322.34 L653.00 322.44 L654.00 322.72 L655.00 323.20 L656.00 323.76 L657.00 324.31 L658.00 325.11 L659.00 325.66 L660.00 326.48 L661.00 327.36 L662.00 328.55 L663.00 329.25 L664.00 330.42 L665.00 331.14 L666.00 332.25 L667.00 333.46 L668.00 334.77 L669.00 335.83 L670.00 336.84 L671.00 337.56 L672.00 338.58 L673.00 339.36 L674.00 340.08 L675.00 340.48 L676.00 341.45 L677.00 341.42 L678.00 342.14 L679.00 342.25 L680.00 341.71 L681.00 341.98 L682.00 341.48 L683.00 340.63 L684.00 339.37 L685.00 338.33 L686.00 337.35 L687.00 336.85 L688.00 335.47 L689.00 334.75 L690.00 333.55 L691.00 332.84 L692.00 332.15 L693.00 330.72 L694.00 330.19" fill="none" stroke="#5457c6" stroke-width="1.4"/></svg>
<div class="t mono" style="left:636px;top:347.00px;">5/19/2…</div>
<div class="a" style="left:692px;top:272px;width:3.50px;height:105.00px;background:#c6c6c6"></div>
<div class="t val" style="left:636px;top:388.00px;color:#c0392b">Phase1</div>
<div class="t lbl" style="left:636px;top:412.00px;">BA...ACE.1</div>
</div></div>
<div class="tile" style="left:709px;top:311px;width:77px;height:119px;"></div>
<div class="t ttl" style="left:718.3px;top:319.50px;">Silo 12.g</div>
<div class="a" style="left:718px;top:345px;width:59.00px;height:75.00px;background:#ffca80;border-radius:3px"></div>
<svg class="a" style="left:736px;top:371px" width="24" height="24" viewBox="0 0 24 24"><circle cx="12" cy="12" r="11" fill="#fff"/><path d="M7 12.3 L10.5 15.5 L16.8 8.5" fill="none" stroke="#ffbe66" stroke-width="2"/></svg>
<div class="tile" style="left:791px;top:311px;width:78px;height:119px;"></div>
<div class="t ttl" style="left:800.5px;top:319.50px;">Silo 12.m</div>
<div class="a" style="left:800px;top:345px;width:59.00px;height:75.00px;background:#2f7f00;border-radius:3px"></div>
<svg class="a" style="left:817.5px;top:371px" width="24" height="24" viewBox="0 0 24 24"><circle cx="12" cy="12" r="11" fill="#fff"/><circle cx="12" cy="7.2" r="1.7" fill="#2f7f00"/><rect x="10.5" y="10" width="3" height="7.5" fill="#2f7f00"/></svg>
<div class="tile" style="left:873px;top:188px;width:120px;height:77px;"></div>
<div class="t ttl" style="left:883px;top:195.80px;">Silo 12.a</div>
<div class="t stat" style="left:883px;top:228.00px;color:#2f9e60">Stable</div>
<svg class="a" style="left:964.5px;top:228.5px" width="19" height="19" viewBox="0 0 19 19"><circle cx="9.5" cy="9.5" r="9.2" fill="#1f9955"/><path d="M5.5 9.8 L8.3 12.4 L13.5 6.8" fill="none" stroke="#fff" stroke-width="1.8"/></svg>
<div class="tile" style="left:873px;top:271px;width:120px;height:77px;"></div>
<div class="t ttl" style="left:883px;top:279.30px;">Silo 12.b</div>
<div class="t stat" style="left:883px;top:311.60px;color:#2f9e60">Stable</div>
<svg class="a" style="left:964.5px;top:312.1px" width="19" height="19" viewBox="0 0 19 19"><circle cx="9.5" cy="9.5" r="9.2" fill="#1f9955"/><path d="M5.5 9.8 L8.3 12.4 L13.5 6.8" fill="none" stroke="#fff" stroke-width="1.8"/></svg>
<div class="tile" style="left:873px;top:353px;width:120px;height:77px;"></div>
<div class="t ttl" style="left:883px;top:360.80px;">Silo 12.c</div>
<div class="t stat" style="left:883px;top:393.50px;color:#ff5a22">Full</div>
<svg class="a" style="left:964.5px;top:394.0px" width="19" height="19" viewBox="0 0 19 19"><circle cx="9.5" cy="9.5" r="9.2" fill="#ff5010"/><path d="M5.5 9.8 L8.3 12.4 L13.5 6.8" fill="none" stroke="#fff" stroke-width="1.8"/></svg>
<div class="tile" style="left:996px;top:188px;width:365px;height:241px;"></div>
<div class="t ttl" style="left:1005.5px;top:195.80px;">Silo 14.c</div>
<div class="t sub" style="left:1005.5px;top:210.00px;">Last 1 day</div>
<div class="a" style="left:1037.4px;top:252px;width:43.10px;height:25.40px;background:#fff;border:1px solid #e2e2e2;border-radius:3px"></div>
<div class="a" style="left:1042.4px;top:259.7px;width:10px;height:10px;border-radius:50%;background:#5c0f8b"></div>
<div class="t leg" style="left:1056.4px;top:254.70px;">CBX</div>
<div class="a" style="left:1037px;top:331px;width:74.40px;height:24.00px;background:#fff;border:1px solid #e2e2e2;border-radius:3px"></div>
<div class="a" style="left:1042px;top:338.0px;width:10px;height:10px;border-radius:50%;background:#2b8a1d"></div>
<div class="t leg" style="left:1056px;top:333.00px;">BA:TEMP.1</div>
<svg class="a" style="left:0;top:0" width="1430" height="935"><path d="M1037.50 306.80 L1037.83 306.32 L1038.17 306.29 L1038.50 305.88 L1038.83 305.67 L1039.17 305.99 L1039.50 305.85 L1039.83 304.89 L1040.17 305.24 L1040.50 305.07 L1040.84 304.17 L1041.17 304.46 L1041.50 303.93 L1041.84 304.07 L1042.17 303.73 L1042.50 303.63 L1042.84 302.52 L1043.17 301.63 L1043.50 301.28 L1043.84 300.41 L1044.17 299.81 L1044.50 299.70 L1044.84 296.57 L1045.17 293.83 L1045.50 291.20 L1045.84 288.80 L1046.17 287.73 L1046.50 287.81 L1046.84 287.29 L1047.17 286.85 L1047.51 286.72 L1047.84 292.87 L1048.17 301.68 L1048.51 309.63 L1048.84 318.29 L1049.17 321.90 L1049.51 321.95 L1049.84 322.30 L1050.17 322.30 L1050.51 322.30 L1050.84 321.87 L1051.17 322.30 L1051.51 322.18 L1051.84 322.30 L1052.17 322.29 L1052.51 322.30 L1052.84 320.34 L1053.17 317.71 L1053.51 315.30 L1053.84 312.59 L1054.18 310.38 L1054.51 307.74 L1054.84 306.46 L1055.18 306.15 L1055.51 306.25 L1055.84 306.53 L1056.18 305.69 L1056.51 305.40 L1056.84 305.26 L1057.18 305.38 L1057.51 305.05 L1057.84 305.32 L1058.18 304.56 L1058.51 304.60 L1058.84 304.67 L1059.18 304.69 L1059.51 303.76 L1059.85 303.44 L1060.18 303.84 L1060.51 302.51 L1060.85 302.21 L1061.18 301.78 L1061.51 300.98 L1061.85 299.87 L1062.18 299.10 L1062.51 297.87 L1062.85 294.45 L1063.18 292.08 L1063.51 288.56 L1063.85 288.29 L1064.18 287.50 L1064.51 287.11 L1064.85 287.26 L1065.18 286.52 L1065.51 291.59 L1065.85 300.13 L1066.18 307.97 L1066.52 316.83 L1066.85 322.30 L1067.18 322.30 L1067.52 322.20 L1067.85 322.30 L1068.18 322.30 L1068.52 321.96 L1068.85 322.30 L1069.18 321.88 L1069.52 321.93 L1069.85 322.30 L1070.18 322.30 L1070.52 320.72 L1070.85 318.19 L1071.18 315.83 L1071.52 313.45 L1071.85 310.98 L1072.19 308.27 L1072.52 306.83 L1072.85 306.71 L1073.19 306.25 L1073.52 306.50 L1073.85 306.25 L1074.19 305.43 L1074.52 305.66 L1074.85 305.44 L1075.19 305.74 L1075.52 305.18 L1075.85 304.83 L1076.19 305.16 L1076.52 304.41 L1076.85 304.20 L1077.19 304.54 L1077.52 303.82 L1077.85 303.64 L1078.19 302.77 L1078.52 302.41 L1078.86 301.41 L1079.19 300.71 L1079.52 300.71 L1079.86 300.00 L1080.19 297.93 L1080.52 294.77 L1080.86 292.53 L1081.19 289.45 L1081.52 288.12 L1081.86 288.08 L1082.19 287.75 L1082.52 287.51 L1082.86 287.16 L1083.19 289.48 L1083.52 298.08 L1083.86 306.33 L1084.19 314.29 L1084.52 322.30 L1084.86 322.24 L1085.19 322.08 L1085.53 322.30 L1085.86 322.30 L1086.19 322.02 L1086.53 322.30 L1086.86 322.30 L1087.19 322.30 L1087.53 322.12 L1087.86 322.30 L1088.19 321.44 L1088.53 319.02 L1088.86 316.14 L1089.19 314.09 L1089.53 311.29 L1089.86 309.51 L1090.19 307.03 L1090.53 306.55 L1090.86 306.14 L1091.20 306.34 L1091.53 306.36 L1091.86 306.26 L1092.20 305.69 L1092.53 305.81 L1092.86 305.05 L1093.20 304.83 L1093.53 305.24 L1093.86 304.96 L1094.20 304.28 L1094.53 304.24 L1094.86 303.89 L1095.20 304.13 L1095.53 304.10 L1095.86 303.28 L1096.20 302.15 L1096.53 301.96 L1096.86 301.22 L1097.20 300.49 L1097.53 299.82 L1097.87 298.82 L1098.20 295.45 L1098.53 293.26 L1098.87 290.51 L1099.20 287.86 L1099.53 287.62 L1099.87 287.24 L1100.20 287.46 L1100.53 286.69 L1100.87 287.32 L1101.20 296.30 L1101.53 304.15 L1101.87 312.39 L1102.20 320.87 L1102.53 322.28 L1102.87 322.30 L1103.20 322.30 L1103.53 322.30 L1103.87 322.30 L1104.20 322.22 L1104.54 322.30 L1104.87 322.01 L1105.20 322.30 L1105.54 321.93 L1105.87 321.63 L1106.20 319.01 L1106.54 316.62 L1106.87 314.20 L1107.20 312.09 L1107.54 310.19 L1107.87 307.10 L1108.20 307.03 L1108.54 306.72 L1108.87 306.19 L1109.20 306.13 L1109.54 306.04 L1109.87 305.36 L1110.21 305.47 L1110.54 305.52 L1110.87 305.41 L1111.21 304.66 L1111.54 304.82 L1111.87 304.34 L1112.21 304.55 L1112.54 304.50 L1112.87 303.99 L1113.21 303.54 L1113.54 303.54 L1113.87 302.30 L1114.21 301.51 L1114.54 300.95 L1114.87 300.26 L1115.21 300.35 L1115.54 299.11 L1115.87 296.15 L1116.21 294.00 L1116.54 290.90 L1116.88 288.54 L1117.21 288.01 L1117.54 287.82 L1117.88 287.49 L1118.21 286.92 L1118.54 287.34 L1118.88 294.61 L1119.21 302.87 L1119.54 311.20 L1119.88 319.58 L1120.21 321.86 L1120.54 321.97 L1120.88 322.30 L1121.21 322.30 L1121.54 322.30 L1121.88 322.30 L1122.21 322.30 L1122.55 322.16 L1122.88 322.22 L1123.21 322.30 L1123.55 322.30 L1123.88 320.09 L1124.21 317.87 L1124.55 315.05 L1124.88 312.49 L1125.21 310.39 L1125.55 308.25 L1125.88 307.07 L1126.21 306.70 L1126.55 306.29 L1126.88 305.93 L1127.21 306.11 L1127.55 305.53 L1127.88 305.50 L1128.21 305.48 L1128.55 305.34 L1128.88 305.04 L1129.22 304.65 L1129.55 304.72 L1129.88 304.27 L1130.22 304.30 L1130.55 304.30 L1130.88 303.84 L1131.22 303.20 L1131.55 303.11 L1131.88 302.12 L1132.22 301.45 L1132.55 300.36 L1132.88 299.64 L1133.22 299.49 L1133.55 296.76 L1133.88 293.96 L1134.22 291.55 L1134.55 288.47 L1134.88 288.45 L1135.22 287.53 L1135.55 287.38 L1135.89 286.88 L1136.22 286.68 L1136.55 292.20 L1136.89 300.46 L1137.22 308.95 L1137.55 317.70 L1137.89 322.22 L1138.22 322.30 L1138.55 322.30 L1138.89 322.05 L1139.22 322.30 L1139.55 322.30 L1139.89 322.30 L1140.22 321.95 L1140.55 322.30 L1140.89 322.30 L1141.22 321.98 L1141.56 320.82 L1141.89 317.74 L1142.22 315.48 L1142.56 312.92 L1142.89 310.40 L1143.22 308.33 L1143.56 306.54 L1143.89 307.05 L1144.22 306.18 L1144.56 306.22 L1144.89 305.84 L1145.22 306.21 L1145.56 305.43 L1145.89 305.06 L1146.22 305.68 L1146.56 305.24 L1146.89 304.82 L1147.22 304.39 L1147.56 304.74 L1147.89 304.60 L1148.23 304.34 L1148.56 303.81 L1148.89 303.30 L1149.23 302.96 L1149.56 302.32 L1149.89 301.62 L1150.23 301.00 L1150.56 300.27 L1150.89 299.91 L1151.23 297.77 L1151.56 294.43 L1151.89 292.06 L1152.23 288.85 L1152.56 288.48 L1152.89 287.70 L1153.23 287.35 L1153.56 287.14 L1153.90 286.99 L1154.23 290.52 L1154.56 298.70 L1154.90 306.79 L1155.23 315.81 L1155.56 322.30 L1155.90 322.07 L1156.23 321.91 L1156.56 322.28 L1156.90 322.30 L1157.23 322.10 L1157.56 322.30 L1157.90 322.30 L1158.23 322.30 L1158.56 322.22 L1158.90 322.30 L1159.23 321.25 L1159.56 318.41 L1159.90 315.76 L1160.23 313.95 L1160.57 311.16 L1160.90 309.02 L1161.23 306.53 L1161.57 306.59 L1161.90 306.69 L1162.23 306.54 L1162.57 306.53 L1162.90 305.91 L1163.23 305.81 L1163.57 305.81 L1163.90 305.44 L1164.23 305.28 L1164.57 304.67 L1164.90 305.06 L1165.23 304.09 L1165.57 304.37 L1165.90 304.06 L1166.23 303.99 L1166.57 303.37 L1166.90 302.71 L1167.24 302.29 L1167.57 301.69 L1167.90 300.80 L1168.24 300.01 L1168.57 299.76 L1168.90 298.19 L1169.24 295.09 L1169.57 292.65 L1169.90 289.97 L1170.24 288.48 L1170.57 287.74 L1170.90 287.49 L1171.24 286.94 L1171.57 286.75 L1171.90 288.90 L1172.24 297.27 L1172.57 305.54 L1172.91 313.93 L1173.24 321.78 L1173.57 321.97 L1173.91 321.93 L1174.24 322.30 L1174.57 321.96 L1174.91 322.30 L1175.24 322.30 L1175.57 322.09 L1175.91 322.30 L1176.24 322.30 L1176.57 321.99 L1176.91 321.73 L1177.24 319.26 L1177.57 316.64 L1177.91 314.14 L1178.24 312.34 L1178.57 309.62 L1178.91 307.12 L1179.24 306.72 L1179.58 306.78 L1179.91 306.24 L1180.24 305.71 L1180.58 306.04 L1180.91 305.70 L1181.24 305.90 L1181.58 305.56 L1181.91 305.01 L1182.24 305.33 L1182.58 304.42 L1182.91 304.20 L1183.24 304.76 L1183.58 303.79 L1183.91 304.12 L1184.24 303.56 L1184.58 302.92 L1184.91 302.68 L1185.24 301.66 L1185.58 301.01 L1185.91 300.20 L1186.25 300.04 L1186.58 298.82 L1186.91 295.73 L1187.25 293.10 L1187.58 290.33 L1187.91 288.65 L1188.25 288.01 L1188.58 287.85 L1188.91 287.23 L1189.25 286.97 L1189.58 286.79 L1189.91 295.43 L1190.25 303.33 L1190.58 311.67 L1190.91 320.42 L1191.25 321.94 L1191.58 322.16 L1191.92 322.30 L1192.25 321.90 L1192.58 322.30 L1192.92 322.30 L1193.25 322.10 L1193.58 322.21 L1193.92 322.25 L1194.25 322.16 L1194.58 322.11 L1194.92 319.83 L1195.25 317.55 L1195.58 315.23 L1195.92 312.22 L1196.25 309.77 L1196.58 307.55 L1196.92 306.53 L1197.25 306.69 L1197.58 306.58 L1197.92 306.28 L1198.25 305.63 L1198.59 306.21 L1198.92 305.59 L1199.25 305.63 L1199.59 304.96 L1199.92 305.15 L1200.25 304.97 L1200.59 304.71 L1200.92 304.39 L1201.25 303.99 L1201.59 304.18 L1201.92 303.53 L1202.25 303.67 L1202.59 302.85 L1202.92 302.34 L1203.25 301.66 L1203.59 300.38 L1203.92 299.76 L1204.26 299.59 L1204.59 297.09 L1204.92 293.98 L1205.26 290.78 L1205.59 288.07 L1205.92 287.84 L1206.26 287.70 L1206.59 287.82 L1206.92 287.30 L1207.26 287.20 L1207.59 293.27 L1207.92 301.56 L1208.26 310.22 L1208.59 318.50 L1208.92 322.04 L1209.26 322.30 L1209.59 322.02 L1209.92 321.94 L1210.26 321.88 L1210.59 322.30 L1210.93 322.25 L1211.26 322.22 L1211.59 322.18 L1211.93 321.86 L1212.26 322.13 L1212.59 320.38 L1212.93 317.45 L1213.26 315.38 L1213.59 312.86 L1213.93 310.33 L1214.26 308.59 L1214.59 306.54 L1214.93 306.45 L1215.26 306.41 L1215.59 306.19 L1215.93 306.06 L1216.26 306.11 L1216.59 305.61 L1216.93 305.87 L1217.26 305.25 L1217.60 304.92 L1217.93 304.91 L1218.26 304.61 L1218.60 304.05 L1218.93 303.92 L1219.26 304.43 L1219.60 303.63 L1219.93 303.34 L1220.26 303.20 L1220.60 302.25 L1220.93 301.70 L1221.26 301.17 L1221.60 300.08 L1221.93 299.05 L1222.26 297.61 L1222.60 294.20 L1222.93 291.47 L1223.27 289.09 L1223.60 287.80 L1223.93 287.75 L1224.27 287.16 L1224.60 287.07 L1224.93 286.76 L1225.27 291.59 L1225.60 299.49 L1225.93 307.70 L1226.27 316.09 L1226.60 322.30 L1226.93 322.06 L1227.27 322.30 L1227.60 322.30 L1227.93 322.30 L1228.27 322.30 L1228.60 322.30 L1228.93 322.30 L1229.27 322.30 L1229.60 322.12 L1229.94 322.27 L1230.27 320.80 L1230.60 318.18 L1230.94 316.08 L1231.27 313.52 L1231.60 310.84 L1231.94 308.75 L1232.27 307.13 L1232.60 306.27 L1232.94 306.25 L1233.27 306.38 L1233.60 306.18 L1233.94 305.84 L1234.27 305.59 L1234.60 305.74 L1234.94 305.75 L1235.27 305.37 L1235.60 304.64 L1235.94 305.04 L1236.27 304.56 L1236.61 304.61 L1236.94 304.40 L1237.27 304.24 L1237.61 303.69 L1237.94 303.24 L1238.27 302.71 L1238.61 301.96 L1238.94 301.24 L1239.27 300.27 L1239.61 300.00 L1239.94 298.53 L1240.27 295.24 L1240.61 292.38 L1240.94 289.21 L1241.27 288.62 L1241.61 288.00 L1241.94 287.72 L1242.28 287.77 L1242.61 286.61 L1242.94 289.86 L1243.28 298.30 L1243.61 306.28 L1243.94 314.89 L1244.28 322.19 L1244.61 322.30 L1244.94 322.30 L1245.28 322.30 L1245.61 322.09 L1245.94 322.30 L1246.28 322.03 L1246.61 322.30 L1246.94 321.90 L1247.28 322.30 L1247.61 322.30 L1247.94 321.48 L1248.28 318.56 L1248.61 316.32 L1248.95 314.17 L1249.28 311.99 L1249.61 309.03 L1249.95 306.44 L1250.28 306.60 L1250.61 306.95 L1250.95 306.73 L1251.28 306.48 L1251.61 306.22 L1251.95 306.15 L1252.28 305.94 L1252.61 305.19 L1252.95 304.77 L1253.28 305.22 L1253.61 304.32 L1253.95 304.58 L1254.28 304.09 L1254.62 303.79 L1254.95 303.57 L1255.28 304.18 L1255.62 303.27 L1255.95 302.32 L1256.28 301.33 L1256.62 301.46 L1256.95 300.60 L1257.28 299.42 L1257.62 299.08 L1257.95 295.93 L1258.28 293.09 L1258.62 289.87 L1258.95 287.87 L1259.28 288.28 L1259.62 287.46 L1259.95 287.18 L1260.28 286.80 L1260.62 287.70 L1260.95 295.69 L1261.29 304.53 L1261.62 312.81 L1261.95 321.31 L1262.29 322.04 L1262.62 322.30 L1262.95 322.30 L1263.29 322.30 L1263.62 322.10 L1263.95 322.20 L1264.29 322.11 L1264.62 322.30 L1264.95 322.30 L1265.29 322.30 L1265.62 321.61 L1265.95 319.83 L1266.29 317.01 L1266.62 314.32 L1266.95 311.98 L1267.29 310.11 L1267.62 307.56 L1267.96 306.41 L1268.29 306.40 L1268.62 305.99 L1268.96 305.80 L1269.29 306.00 L1269.62 305.40 L1269.96 305.35 L1270.29 305.53 L1270.62 305.30 L1270.96 305.39 L1271.29 304.89 L1271.62 304.18 L1271.96 304.78 L1272.29 304.15 L1272.62 304.39 L1272.96 304.22 L1273.29 303.09 L1273.63 302.80 L1273.96 302.31 L1274.29 301.55 L1274.63 300.43 L1274.96 299.81 L1275.29 299.67 L1275.63 296.72 L1275.96 293.14 L1276.29 290.94 L1276.63 288.27 L1276.96 288.11 L1277.29 287.49 L1277.63 287.36 L1277.96 286.90 L1278.29 286.85 L1278.63 294.52 L1278.96 302.86 L1279.29 311.27 L1279.63 318.91 L1279.96 322.30 L1280.30 322.30 L1280.63 321.87 L1280.96 322.30 L1281.30 321.94 L1281.63 322.30 L1281.96 322.30 L1282.30 322.30 L1282.63 322.00 L1282.96 322.19 L1283.30 322.17 L1283.63 319.68 L1283.96 317.17 L1284.30 315.24 L1284.63 312.59 L1284.96 310.32 L1285.30 308.22 L1285.63 306.46 L1285.97 306.49 L1286.30 306.09 L1286.63 306.46 L1286.97 305.96 L1287.30 305.84 L1287.63 305.40 L1287.97 305.81 L1288.30 305.37 L1288.63 305.05 L1288.97 305.24 L1289.30 304.60 L1289.63 304.24 L1289.97 304.33 L1290.30 303.93 L1290.63 303.78 L1290.97 303.65 L1291.30 302.85 L1291.63 301.59 L1291.97 301.53 L1292.30 300.77 L1292.64 300.42 L1292.97 299.63 L1293.30 297.42 L1293.64 293.82 L1293.97 291.11 L1294.30 288.08 L1294.64 287.65 L1294.97 287.71 L1295.30 287.13 L1295.64 287.20 L1295.97 287.02 L1296.30 291.97 L1296.64 300.34 L1296.97 308.62 L1297.30 317.38 L1297.64 322.05 L1297.97 322.30 L1298.30 321.84 L1298.64 321.91 L1298.97 322.30 L1299.31 321.90 L1299.64 322.30 L1299.97 322.30 L1300.31 322.09 L1300.64 322.30 L1300.97 322.28 L1301.31 320.33 L1301.64 318.47 L1301.97 315.40 L1302.31 313.43 L1302.64 310.87 L1302.97 308.53 L1303.31 306.59 L1303.64 306.39 L1303.97 306.62 L1304.31 306.60 L1304.64 306.23 L1304.98 305.93 L1305.31 306.05 L1305.64 305.78 L1305.98 305.03 L1306.31 304.89 L1306.64 304.44 L1306.98 304.25 L1307.31 304.15 L1307.64 304.42 L1307.98 304.42 L1308.31 304.09 L1308.64 303.56 L1308.98 302.84 L1309.31 302.15 L1309.64 301.65 L1309.98 300.53 L1310.31 300.39 L1310.64 299.55 L1310.98 297.40 L1311.31 294.58 L1311.65 292.15 L1311.98 289.31 L1312.31 287.88 L1312.65 288.33 L1312.98 287.93 L1313.31 287.27 L1313.65 286.98 L1313.98 290.85 L1314.31 299.28 L1314.65 307.47 L1314.98 315.27 L1315.31 322.30 L1315.65 321.86 L1315.98 322.04 L1316.31 321.86 L1316.65 322.30 L1316.98 322.30 L1317.31 322.30 L1317.65 322.30 L1317.98 322.30 L1318.32 322.30 L1318.65 322.26 L1318.98 321.37 L1319.32 318.75 L1319.65 316.40 L1319.98 313.47 L1320.32 311.42 L1320.65 309.15 L1320.98 307.28 L1321.32 306.73 L1321.65 306.35 L1321.98 306.11 L1322.32 305.70 L1322.65 305.61 L1322.98 305.93 L1323.32 305.84 L1323.65 305.07 L1323.99 304.85 L1324.32 304.92 L1324.65 304.43 L1324.99 304.49 L1325.32 304.55 L1325.65 304.46 L1325.99 304.41 L1326.32 303.55 L1326.65 302.64 L1326.99 301.97 L1327.32 301.70 L1327.65 300.85 L1327.99 299.94 L1328.32 299.38 L1328.65 298.30 L1328.99 295.58 L1329.32 292.59 L1329.65 290.02 L1329.99 288.52 L1330.32 287.77 L1330.66 287.20 L1330.99 287.32 L1331.32 287.16 L1331.66 288.83 L1331.99 297.06 L1332.32 305.07 L1332.66 313.72 L1332.99 321.57 L1333.32 322.30 L1333.66 322.30 L1333.99 322.28 L1334.32 322.30 L1334.66 321.98 L1334.99 322.00 L1335.32 321.90 L1335.66 322.20 L1335.99 322.30 L1336.33 322.23 L1336.66 321.48 L1336.99 319.13 L1337.33 316.91 L1337.66 314.09 L1337.99 311.49 L1338.33 309.83 L1338.66 306.89 L1338.99 306.82 L1339.33 306.50 L1339.66 305.95 L1339.99 305.70 L1340.33 305.80 L1340.66 306.02 L1340.99 305.16 L1341.33 305.65 L1341.66 305.27 L1341.99 304.66 L1342.33 304.95 L1342.66 304.79 L1343.00 303.97 L1343.33 303.79 L1343.66 304.17 L1344.00 303.91 L1344.33 303.36 L1344.66 302.83 L1345.00 302.05 L1345.33 300.71 L1345.66 300.87 L1346.00 300.07 L1346.33 299.32 L1346.66 296.53 L1347.00 293.22 L1347.33 290.13 L1347.66 287.98 L1348.00 287.89 L1348.33 287.42 L1348.66 287.88 L1349.00 287.34 L1349.33 286.42 L1349.67 295.57 L1350.00 303.71 L1350.33 311.84 L1350.67 320.37 L1351.00 322.26 L1351.33 322.30 L1351.67 322.30 L1352.00 321.88 L1352 322.3 L1037.5 322.3 Z" fill="#f3eef8"/><path d="M1037.50 306.80 L1037.83 306.32 L1038.17 306.29 L1038.50 305.88 L1038.83 305.67 L1039.17 305.99 L1039.50 305.85 L1039.83 304.89 L1040.17 305.24 L1040.50 305.07 L1040.84 304.17 L1041.17 304.46 L1041.50 303.93 L1041.84 304.07 L1042.17 303.73 L1042.50 303.63 L1042.84 302.52 L1043.17 301.63 L1043.50 301.28 L1043.84 300.41 L1044.17 299.81 L1044.50 299.70 L1044.84 296.57 L1045.17 293.83 L1045.50 291.20 L1045.84 288.80 L1046.17 287.73 L1046.50 287.81 L1046.84 287.29 L1047.17 286.85 L1047.51 286.72 L1047.84 292.87 L1048.17 301.68 L1048.51 309.63 L1048.84 318.29 L1049.17 321.90 L1049.51 321.95 L1049.84 322.30 L1050.17 322.30 L1050.51 322.30 L1050.84 321.87 L1051.17 322.30 L1051.51 322.18 L1051.84 322.30 L1052.17 322.29 L1052.51 322.30 L1052.84 320.34 L1053.17 317.71 L1053.51 315.30 L1053.84 312.59 L1054.18 310.38 L1054.51 307.74 L1054.84 306.46 L1055.18 306.15 L1055.51 306.25 L1055.84 306.53 L1056.18 305.69 L1056.51 305.40 L1056.84 305.26 L1057.18 305.38 L1057.51 305.05 L1057.84 305.32 L1058.18 304.56 L1058.51 304.60 L1058.84 304.67 L1059.18 304.69 L1059.51 303.76 L1059.85 303.44 L1060.18 303.84 L1060.51 302.51 L1060.85 302.21 L1061.18 301.78 L1061.51 300.98 L1061.85 299.87 L1062.18 299.10 L1062.51 297.87 L1062.85 294.45 L1063.18 292.08 L1063.51 288.56 L1063.85 288.29 L1064.18 287.50 L1064.51 287.11 L1064.85 287.26 L1065.18 286.52 L1065.51 291.59 L1065.85 300.13 L1066.18 307.97 L1066.52 316.83 L1066.85 322.30 L1067.18 322.30 L1067.52 322.20 L1067.85 322.30 L1068.18 322.30 L1068.52 321.96 L1068.85 322.30 L1069.18 321.88 L1069.52 321.93 L1069.85 322.30 L1070.18 322.30 L1070.52 320.72 L1070.85 318.19 L1071.18 315.83 L1071.52 313.45 L1071.85 310.98 L1072.19 308.27 L1072.52 306.83 L1072.85 306.71 L1073.19 306.25 L1073.52 306.50 L1073.85 306.25 L1074.19 305.43 L1074.52 305.66 L1074.85 305.44 L1075.19 305.74 L1075.52 305.18 L1075.85 304.83 L1076.19 305.16 L1076.52 304.41 L1076.85 304.20 L1077.19 304.54 L1077.52 303.82 L1077.85 303.64 L1078.19 302.77 L1078.52 302.41 L1078.86 301.41 L1079.19 300.71 L1079.52 300.71 L1079.86 300.00 L1080.19 297.93 L1080.52 294.77 L1080.86 292.53 L1081.19 289.45 L1081.52 288.12 L1081.86 288.08 L1082.19 287.75 L1082.52 287.51 L1082.86 287.16 L1083.19 289.48 L1083.52 298.08 L1083.86 306.33 L1084.19 314.29 L1084.52 322.30 L1084.86 322.24 L1085.19 322.08 L1085.53 322.30 L1085.86 322.30 L1086.19 322.02 L1086.53 322.30 L1086.86 322.30 L1087.19 322.30 L1087.53 322.12 L1087.86 322.30 L1088.19 321.44 L1088.53 319.02 L1088.86 316.14 L1089.19 314.09 L1089.53 311.29 L1089.86 309.51 L1090.19 307.03 L1090.53 306.55 L1090.86 306.14 L1091.20 306.34 L1091.53 306.36 L1091.86 306.26 L1092.20 305.69 L1092.53 305.81 L1092.86 305.05 L1093.20 304.83 L1093.53 305.24 L1093.86 304.96 L1094.20 304.28 L1094.53 304.24 L1094.86 303.89 L1095.20 304.13 L1095.53 304.10 L1095.86 303.28 L1096.20 302.15 L1096.53 301.96 L1096.86 301.22 L1097.20 300.49 L1097.53 299.82 L1097.87 298.82 L1098.20 295.45 L1098.53 293.26 L1098.87 290.51 L1099.20 287.86 L1099.53 287.62 L1099.87 287.24 L1100.20 287.46 L1100.53 286.69 L1100.87 287.32 L1101.20 296.30 L1101.53 304.15 L1101.87 312.39 L1102.20 320.87 L1102.53 322.28 L1102.87 322.30 L1103.20 322.30 L1103.53 322.30 L1103.87 322.30 L1104.20 322.22 L1104.54 322.30 L1104.87 322.01 L1105.20 322.30 L1105.54 321.93 L1105.87 321.63 L1106.20 319.01 L1106.54 316.62 L1106.87 314.20 L1107.20 312.09 L1107.54 310.19 L1107.87 307.10 L1108.20 307.03 L1108.54 306.72 L1108.87 306.19 L1109.20 306.13 L1109.54 306.04 L1109.87 305.36 L1110.21 305.47 L1110.54 305.52 L1110.87 305.41 L1111.21 304.66 L1111.54 304.82 L1111.87 304.34 L1112.21 304.55 L1112.54 304.50 L1112.87 303.99 L1113.21 303.54 L1113.54 303.54 L1113.87 302.30 L1114.21 301.51 L1114.54 300.95 L1114.87 300.26 L1115.21 300.35 L1115.54 299.11 L1115.87 296.15 L1116.21 294.00 L1116.54 290.90 L1116.88 288.54 L1117.21 288.01 L1117.54 287.82 L1117.88 287.49 L1118.21 286.92 L1118.54 287.34 L1118.88 294.61 L1119.21 302.87 L1119.54 311.20 L1119.88 319.58 L1120.21 321.86 L1120.54 321.97 L1120.88 322.30 L1121.21 322.30 L1121.54 322.30 L1121.88 322.30 L1122.21 322.30 L1122.55 322.16 L1122.88 322.22 L1123.21 322.30 L1123.55 322.30 L1123.88 320.09 L1124.21 317.87 L1124.55 315.05 L1124.88 312.49 L1125.21 310.39 L1125.55 308.25 L1125.88 307.07 L1126.21 306.70 L1126.55 306.29 L1126.88 305.93 L1127.21 306.11 L1127.55 305.53 L1127.88 305.50 L1128.21 305.48 L1128.55 305.34 L1128.88 305.04 L1129.22 304.65 L1129.55 304.72 L1129.88 304.27 L1130.22 304.30 L1130.55 304.30 L1130.88 303.84 L1131.22 303.20 L1131.55 303.11 L1131.88 302.12 L1132.22 301.45 L1132.55 300.36 L1132.88 299.64 L1133.22 299.49 L1133.55 296.76 L1133.88 293.96 L1134.22 291.55 L1134.55 288.47 L1134.88 288.45 L1135.22 287.53 L1135.55 287.38 L1135.89 286.88 L1136.22 286.68 L1136.55 292.20 L1136.89 300.46 L1137.22 308.95 L1137.55 317.70 L1137.89 322.22 L1138.22 322.30 L1138.55 322.30 L1138.89 322.05 L1139.22 322.30 L1139.55 322.30 L1139.89 322.30 L1140.22 321.95 L1140.55 322.30 L1140.89 322.30 L1141.22 321.98 L1141.56 320.82 L1141.89 317.74 L1142.22 315.48 L1142.56 312.92 L1142.89 310.40 L1143.22 308.33 L1143.56 306.54 L1143.89 307.05 L1144.22 306.18 L1144.56 306.22 L1144.89 305.84 L1145.22 306.21 L1145.56 305.43 L1145.89 305.06 L1146.22 305.68 L1146.56 305.24 L1146.89 304.82 L1147.22 304.39 L1147.56 304.74 L1147.89 304.60 L1148.23 304.34 L1148.56 303.81 L1148.89 303.30 L1149.23 302.96 L1149.56 302.32 L1149.89 301.62 L1150.23 301.00 L1150.56 300.27 L1150.89 299.91 L1151.23 297.77 L1151.56 294.43 L1151.89 292.06 L1152.23 288.85 L1152.56 288.48 L1152.89 287.70 L1153.23 287.35 L1153.56 287.14 L1153.90 286.99 L1154.23 290.52 L1154.56 298.70 L1154.90 306.79 L1155.23 315.81 L1155.56 322.30 L1155.90 322.07 L1156.23 321.91 L1156.56 322.28 L1156.90 322.30 L1157.23 322.10 L1157.56 322.30 L1157.90 322.30 L1158.23 322.30 L1158.56 322.22 L1158.90 322.30 L1159.23 321.25 L1159.56 318.41 L1159.90 315.76 L1160.23 313.95 L1160.57 311.16 L1160.90 309.02 L1161.23 306.53 L1161.57 306.59 L1161.90 306.69 L1162.23 306.54 L1162.57 306.53 L1162.90 305.91 L1163.23 305.81 L1163.57 305.81 L1163.90 305.44 L1164.23 305.28 L1164.57 304.67 L1164.90 305.06 L1165.23 304.09 L1165.57 304.37 L1165.90 304.06 L1166.23 303.99 L1166.57 303.37 L1166.90 302.71 L1167.24 302.29 L1167.57 301.69 L1167.90 300.80 L1168.24 300.01 L1168.57 299.76 L1168.90 298.19 L1169.24 295.09 L1169.57 292.65 L1169.90 289.97 L1170.24 288.48 L1170.57 287.74 L1170.90 287.49 L1171.24 286.94 L1171.57 286.75 L1171.90 288.90 L1172.24 297.27 L1172.57 305.54 L1172.91 313.93 L1173.24 321.78 L1173.57 321.97 L1173.91 321.93 L1174.24 322.30 L1174.57 321.96 L1174.91 322.30 L1175.24 322.30 L1175.57 322.09 L1175.91 322.30 L1176.24 322.30 L1176.57 321.99 L1176.91 321.73 L1177.24 319.26 L1177.57 316.64 L1177.91 314.14 L1178.24 312.34 L1178.57 309.62 L1178.91 307.12 L1179.24 306.72 L1179.58 306.78 L1179.91 306.24 L1180.24 305.71 L1180.58 306.04 L1180.91 305.70 L1181.24 305.90 L1181.58 305.56 L1181.91 305.01 L1182.24 305.33 L1182.58 304.42 L1182.91 304.20 L1183.24 304.76 L1183.58 303.79 L1183.91 304.12 L1184.24 303.56 L1184.58 302.92 L1184.91 302.68 L1185.24 301.66 L1185.58 301.01 L1185.91 300.20 L1186.25 300.04 L1186.58 298.82 L1186.91 295.73 L1187.25 293.10 L1187.58 290.33 L1187.91 288.65 L1188.25 288.01 L1188.58 287.85 L1188.91 287.23 L1189.25 286.97 L1189.58 286.79 L1189.91 295.43 L1190.25 303.33 L1190.58 311.67 L1190.91 320.42 L1191.25 321.94 L1191.58 322.16 L1191.92 322.30 L1192.25 321.90 L1192.58 322.30 L1192.92 322.30 L1193.25 322.10 L1193.58 322.21 L1193.92 322.25 L1194.25 322.16 L1194.58 322.11 L1194.92 319.83 L1195.25 317.55 L1195.58 315.23 L1195.92 312.22 L1196.25 309.77 L1196.58 307.55 L1196.92 306.53 L1197.25 306.69 L1197.58 306.58 L1197.92 306.28 L1198.25 305.63 L1198.59 306.21 L1198.92 305.59 L1199.25 305.63 L1199.59 304.96 L1199.92 305.15 L1200.25 304.97 L1200.59 304.71 L1200.92 304.39 L1201.25 303.99 L1201.59 304.18 L1201.92 303.53 L1202.25 303.67 L1202.59 302.85 L1202.92 302.34 L1203.25 301.66 L1203.59 300.38 L1203.92 299.76 L1204.26 299.59 L1204.59 297.09 L1204.92 293.98 L1205.26 290.78 L1205.59 288.07 L1205.92 287.84 L1206.26 287.70 L1206.59 287.82 L1206.92 287.30 L1207.26 287.20 L1207.59 293.27 L1207.92 301.56 L1208.26 310.22 L1208.59 318.50 L1208.92 322.04 L1209.26 322.30 L1209.59 322.02 L1209.92 321.94 L1210.26 321.88 L1210.59 322.30 L1210.93 322.25 L1211.26 322.22 L1211.59 322.18 L1211.93 321.86 L1212.26 322.13 L1212.59 320.38 L1212.93 317.45 L1213.26 315.38 L1213.59 312.86 L1213.93 310.33 L1214.26 308.59 L1214.59 306.54 L1214.93 306.45 L1215.26 306.41 L1215.59 306.19 L1215.93 306.06 L1216.26 306.11 L1216.59 305.61 L1216.93 305.87 L1217.26 305.25 L1217.60 304.92 L1217.93 304.91 L1218.26 304.61 L1218.60 304.05 L1218.93 303.92 L1219.26 304.43 L1219.60 303.63 L1219.93 303.34 L1220.26 303.20 L1220.60 302.25 L1220.93 301.70 L1221.26 301.17 L1221.60 300.08 L1221.93 299.05 L1222.26 297.61 L1222.60 294.20 L1222.93 291.47 L1223.27 289.09 L1223.60 287.80 L1223.93 287.75 L1224.27 287.16 L1224.60 287.07 L1224.93 286.76 L1225.27 291.59 L1225.60 299.49 L1225.93 307.70 L1226.27 316.09 L1226.60 322.30 L1226.93 322.06 L1227.27 322.30 L1227.60 322.30 L1227.93 322.30 L1228.27 322.30 L1228.60 322.30 L1228.93 322.30 L1229.27 322.30 L1229.60 322.12 L1229.94 322.27 L1230.27 320.80 L1230.60 318.18 L1230.94 316.08 L1231.27 313.52 L1231.60 310.84 L1231.94 308.75 L1232.27 307.13 L1232.60 306.27 L1232.94 306.25 L1233.27 306.38 L1233.60 306.18 L1233.94 305.84 L1234.27 305.59 L1234.60 305.74 L1234.94 305.75 L1235.27 305.37 L1235.60 304.64 L1235.94 305.04 L1236.27 304.56 L1236.61 304.61 L1236.94 304.40 L1237.27 304.24 L1237.61 303.69 L1237.94 303.24 L1238.27 302.71 L1238.61 301.96 L1238.94 301.24 L1239.27 300.27 L1239.61 300.00 L1239.94 298.53 L1240.27 295.24 L1240.61 292.38 L1240.94 289.21 L1241.27 288.62 L1241.61 288.00 L1241.94 287.72 L1242.28 287.77 L1242.61 286.61 L1242.94 289.86 L1243.28 298.30 L1243.61 306.28 L1243.94 314.89 L1244.28 322.19 L1244.61 322.30 L1244.94 322.30 L1245.28 322.30 L1245.61 322.09 L1245.94 322.30 L1246.28 322.03 L1246.61 322.30 L1246.94 321.90 L1247.28 322.30 L1247.61 322.30 L1247.94 321.48 L1248.28 318.56 L1248.61 316.32 L1248.95 314.17 L1249.28 311.99 L1249.61 309.03 L1249.95 306.44 L1250.28 306.60 L1250.61 306.95 L1250.95 306.73 L1251.28 306.48 L1251.61 306.22 L1251.95 306.15 L1252.28 305.94 L1252.61 305.19 L1252.95 304.77 L1253.28 305.22 L1253.61 304.32 L1253.95 304.58 L1254.28 304.09 L1254.62 303.79 L1254.95 303.57 L1255.28 304.18 L1255.62 303.27 L1255.95 302.32 L1256.28 301.33 L1256.62 301.46 L1256.95 300.60 L1257.28 299.42 L1257.62 299.08 L1257.95 295.93 L1258.28 293.09 L1258.62 289.87 L1258.95 287.87 L1259.28 288.28 L1259.62 287.46 L1259.95 287.18 L1260.28 286.80 L1260.62 287.70 L1260.95 295.69 L1261.29 304.53 L1261.62 312.81 L1261.95 321.31 L1262.29 322.04 L1262.62 322.30 L1262.95 322.30 L1263.29 322.30 L1263.62 322.10 L1263.95 322.20 L1264.29 322.11 L1264.62 322.30 L1264.95 322.30 L1265.29 322.30 L1265.62 321.61 L1265.95 319.83 L1266.29 317.01 L1266.62 314.32 L1266.95 311.98 L1267.29 310.11 L1267.62 307.56 L1267.96 306.41 L1268.29 306.40 L1268.62 305.99 L1268.96 305.80 L1269.29 306.00 L1269.62 305.40 L1269.96 305.35 L1270.29 305.53 L1270.62 305.30 L1270.96 305.39 L1271.29 304.89 L1271.62 304.18 L1271.96 304.78 L1272.29 304.15 L1272.62 304.39 L1272.96 304.22 L1273.29 303.09 L1273.63 302.80 L1273.96 302.31 L1274.29 301.55 L1274.63 300.43 L1274.96 299.81 L1275.29 299.67 L1275.63 296.72 L1275.96 293.14 L1276.29 290.94 L1276.63 288.27 L1276.96 288.11 L1277.29 287.49 L1277.63 287.36 L1277.96 286.90 L1278.29 286.85 L1278.63 294.52 L1278.96 302.86 L1279.29 311.27 L1279.63 318.91 L1279.96 322.30 L1280.30 322.30 L1280.63 321.87 L1280.96 322.30 L1281.30 321.94 L1281.63 322.30 L1281.96 322.30 L1282.30 322.30 L1282.63 322.00 L1282.96 322.19 L1283.30 322.17 L1283.63 319.68 L1283.96 317.17 L1284.30 315.24 L1284.63 312.59 L1284.96 310.32 L1285.30 308.22 L1285.63 306.46 L1285.97 306.49 L1286.30 306.09 L1286.63 306.46 L1286.97 305.96 L1287.30 305.84 L1287.63 305.40 L1287.97 305.81 L1288.30 305.37 L1288.63 305.05 L1288.97 305.24 L1289.30 304.60 L1289.63 304.24 L1289.97 304.33 L1290.30 303.93 L1290.63 303.78 L1290.97 303.65 L1291.30 302.85 L1291.63 301.59 L1291.97 301.53 L1292.30 300.77 L1292.64 300.42 L1292.97 299.63 L1293.30 297.42 L1293.64 293.82 L1293.97 291.11 L1294.30 288.08 L1294.64 287.65 L1294.97 287.71 L1295.30 287.13 L1295.64 287.20 L1295.97 287.02 L1296.30 291.97 L1296.64 300.34 L1296.97 308.62 L1297.30 317.38 L1297.64 322.05 L1297.97 322.30 L1298.30 321.84 L1298.64 321.91 L1298.97 322.30 L1299.31 321.90 L1299.64 322.30 L1299.97 322.30 L1300.31 322.09 L1300.64 322.30 L1300.97 322.28 L1301.31 320.33 L1301.64 318.47 L1301.97 315.40 L1302.31 313.43 L1302.64 310.87 L1302.97 308.53 L1303.31 306.59 L1303.64 306.39 L1303.97 306.62 L1304.31 306.60 L1304.64 306.23 L1304.98 305.93 L1305.31 306.05 L1305.64 305.78 L1305.98 305.03 L1306.31 304.89 L1306.64 304.44 L1306.98 304.25 L1307.31 304.15 L1307.64 304.42 L1307.98 304.42 L1308.31 304.09 L1308.64 303.56 L1308.98 302.84 L1309.31 302.15 L1309.64 301.65 L1309.98 300.53 L1310.31 300.39 L1310.64 299.55 L1310.98 297.40 L1311.31 294.58 L1311.65 292.15 L1311.98 289.31 L1312.31 287.88 L1312.65 288.33 L1312.98 287.93 L1313.31 287.27 L1313.65 286.98 L1313.98 290.85 L1314.31 299.28 L1314.65 307.47 L1314.98 315.27 L1315.31 322.30 L1315.65 321.86 L1315.98 322.04 L1316.31 321.86 L1316.65 322.30 L1316.98 322.30 L1317.31 322.30 L1317.65 322.30 L1317.98 322.30 L1318.32 322.30 L1318.65 322.26 L1318.98 321.37 L1319.32 318.75 L1319.65 316.40 L1319.98 313.47 L1320.32 311.42 L1320.65 309.15 L1320.98 307.28 L1321.32 306.73 L1321.65 306.35 L1321.98 306.11 L1322.32 305.70 L1322.65 305.61 L1322.98 305.93 L1323.32 305.84 L1323.65 305.07 L1323.99 304.85 L1324.32 304.92 L1324.65 304.43 L1324.99 304.49 L1325.32 304.55 L1325.65 304.46 L1325.99 304.41 L1326.32 303.55 L1326.65 302.64 L1326.99 301.97 L1327.32 301.70 L1327.65 300.85 L1327.99 299.94 L1328.32 299.38 L1328.65 298.30 L1328.99 295.58 L1329.32 292.59 L1329.65 290.02 L1329.99 288.52 L1330.32 287.77 L1330.66 287.20 L1330.99 287.32 L1331.32 287.16 L1331.66 288.83 L1331.99 297.06 L1332.32 305.07 L1332.66 313.72 L1332.99 321.57 L1333.32 322.30 L1333.66 322.30 L1333.99 322.28 L1334.32 322.30 L1334.66 321.98 L1334.99 322.00 L1335.32 321.90 L1335.66 322.20 L1335.99 322.30 L1336.33 322.23 L1336.66 321.48 L1336.99 319.13 L1337.33 316.91 L1337.66 314.09 L1337.99 311.49 L1338.33 309.83 L1338.66 306.89 L1338.99 306.82 L1339.33 306.50 L1339.66 305.95 L1339.99 305.70 L1340.33 305.80 L1340.66 306.02 L1340.99 305.16 L1341.33 305.65 L1341.66 305.27 L1341.99 304.66 L1342.33 304.95 L1342.66 304.79 L1343.00 303.97 L1343.33 303.79 L1343.66 304.17 L1344.00 303.91 L1344.33 303.36 L1344.66 302.83 L1345.00 302.05 L1345.33 300.71 L1345.66 300.87 L1346.00 300.07 L1346.33 299.32 L1346.66 296.53 L1347.00 293.22 L1347.33 290.13 L1347.66 287.98 L1348.00 287.89 L1348.33 287.42 L1348.66 287.88 L1349.00 287.34 L1349.33 286.42 L1349.67 295.57 L1350.00 303.71 L1350.33 311.84 L1350.67 320.37 L1351.00 322.26 L1351.33 322.30 L1351.67 322.30 L1352.00 321.88" fill="none" stroke="#6a1b9a" stroke-width="1.3"/><path d="M1037.50 386.89 L1037.83 387.03 L1038.17 386.72 L1038.50 386.97 L1038.83 387.07 L1039.17 386.71 L1039.50 386.16 L1039.83 386.28 L1040.17 386.32 L1040.50 384.52 L1040.84 382.00 L1041.17 379.48 L1041.50 376.96 L1041.84 374.45 L1042.17 375.04 L1042.50 378.63 L1042.84 382.23 L1043.17 385.82 L1043.50 389.42 L1043.84 393.01 L1044.17 396.61 L1044.50 400.00 L1044.84 400.00 L1045.17 400.00 L1045.50 400.00 L1045.84 400.00 L1046.17 400.00 L1046.50 400.00 L1046.84 400.00 L1047.17 400.00 L1047.51 400.00 L1047.84 400.00 L1048.17 400.00 L1048.51 400.00 L1048.84 400.00 L1049.17 399.31 L1049.51 396.16 L1049.84 393.02 L1050.17 389.87 L1050.51 386.73 L1050.84 386.90 L1051.17 386.57 L1051.51 386.84 L1051.84 386.96 L1052.17 387.03 L1052.51 386.91 L1052.84 386.15 L1053.17 386.25 L1053.51 386.28 L1053.84 386.28 L1054.18 386.93 L1054.51 386.81 L1054.84 386.47 L1055.18 386.36 L1055.51 386.23 L1055.84 386.20 L1056.18 387.05 L1056.51 386.49 L1056.84 386.42 L1057.18 386.60 L1057.51 386.95 L1057.84 386.63 L1058.18 384.54 L1058.51 381.14 L1058.84 377.74 L1059.18 374.34 L1059.51 370.95 L1059.85 369.73 L1060.18 373.96 L1060.51 378.18 L1060.85 382.41 L1061.18 386.63 L1061.51 390.86 L1061.85 395.08 L1062.18 399.30 L1062.51 400.00 L1062.85 400.00 L1063.18 400.00 L1063.51 400.00 L1063.85 400.00 L1064.18 400.00 L1064.51 400.00 L1064.85 400.00 L1065.18 400.00 L1065.51 400.00 L1065.85 400.00 L1066.18 400.00 L1066.52 400.00 L1066.85 400.00 L1067.18 396.86 L1067.52 393.71 L1067.85 390.57 L1068.18 387.42 L1068.52 387.05 L1068.85 386.14 L1069.18 386.21 L1069.52 386.55 L1069.85 386.82 L1070.18 386.17 L1070.52 386.53 L1070.85 386.20 L1071.18 386.23 L1071.52 386.60 L1071.85 386.70 L1072.19 386.50 L1072.52 386.68 L1072.85 386.97 L1073.19 386.81 L1073.52 386.27 L1073.85 387.09 L1074.19 387.09 L1074.52 386.47 L1074.85 386.84 L1075.19 386.57 L1075.52 386.64 L1075.85 385.63 L1076.19 383.11 L1076.52 380.60 L1076.85 378.08 L1077.19 375.56 L1077.52 373.44 L1077.85 377.04 L1078.19 380.63 L1078.52 384.23 L1078.86 387.82 L1079.19 391.42 L1079.52 395.02 L1079.86 398.61 L1080.19 400.00 L1080.52 400.00 L1080.86 400.00 L1081.19 400.00 L1081.52 400.00 L1081.86 400.00 L1082.19 400.00 L1082.52 400.00 L1082.86 400.00 L1083.19 400.00 L1083.52 400.00 L1083.86 400.00 L1084.19 400.00 L1084.52 400.00 L1084.86 397.56 L1085.19 394.41 L1085.53 391.27 L1085.86 388.12 L1086.19 386.77 L1086.53 386.07 L1086.86 386.93 L1087.19 386.70 L1087.53 386.92 L1087.86 386.46 L1088.19 386.84 L1088.53 386.76 L1088.86 386.34 L1089.19 386.80 L1089.53 386.54 L1089.86 386.17 L1090.19 387.03 L1090.53 387.07 L1090.86 386.90 L1091.20 386.32 L1091.53 386.48 L1091.86 386.89 L1092.20 386.79 L1092.53 386.95 L1092.86 386.65 L1093.20 387.10 L1093.53 386.04 L1093.86 382.65 L1094.20 379.25 L1094.53 375.85 L1094.86 372.45 L1095.20 369.06 L1095.53 372.08 L1095.86 376.31 L1096.20 380.53 L1096.53 384.76 L1096.86 388.98 L1097.20 393.21 L1097.53 397.43 L1097.87 400.00 L1098.20 400.00 L1098.53 400.00 L1098.87 400.00 L1099.20 400.00 L1099.53 400.00 L1099.87 400.00 L1100.20 400.00 L1100.53 400.00 L1100.87 400.00 L1101.20 400.00 L1101.53 400.00 L1101.87 400.00 L1102.20 400.00 L1102.53 398.26 L1102.87 395.11 L1103.20 391.96 L1103.53 388.82 L1103.87 386.39 L1104.20 386.18 L1104.54 386.12 L1104.87 386.35 L1105.20 386.11 L1105.54 387.12 L1105.87 386.83 L1106.20 386.11 L1106.54 386.31 L1106.87 386.70 L1107.20 386.13 L1107.54 386.48 L1107.87 386.26 L1108.20 386.83 L1108.54 386.94 L1108.87 386.67 L1109.20 386.99 L1109.54 386.73 L1109.87 386.11 L1110.21 386.79 L1110.54 387.13 L1110.87 387.09 L1111.21 386.96 L1111.54 384.23 L1111.87 381.71 L1112.21 379.20 L1112.54 376.68 L1112.87 374.16 L1113.21 375.44 L1113.54 379.04 L1113.87 382.63 L1114.21 386.23 L1114.54 389.83 L1114.87 393.42 L1115.21 397.02 L1115.54 400.00 L1115.87 400.00 L1116.21 400.00 L1116.54 400.00 L1116.88 400.00 L1117.21 400.00 L1117.54 400.00 L1117.88 400.00 L1118.21 400.00 L1118.54 400.00 L1118.88 400.00 L1119.21 400.00 L1119.54 400.00 L1119.88 400.00 L1120.21 398.95 L1120.54 395.81 L1120.88 392.66 L1121.21 389.52 L1121.54 386.30 L1121.88 386.75 L1122.21 386.83 L1122.55 387.04 L1122.88 386.09 L1123.21 386.69 L1123.55 386.92 L1123.88 387.08 L1124.21 387.08 L1124.55 386.96 L1124.88 386.42 L1125.21 386.98 L1125.55 387.10 L1125.88 386.62 L1126.21 386.87 L1126.55 386.07 L1126.88 387.01 L1127.21 386.57 L1127.55 386.31 L1127.88 386.70 L1128.21 386.08 L1128.55 386.63 L1128.88 386.88 L1129.22 384.15 L1129.55 380.76 L1129.88 377.36 L1130.22 373.96 L1130.55 370.56 L1130.88 370.21 L1131.22 374.43 L1131.55 378.66 L1131.88 382.88 L1132.22 387.11 L1132.55 391.33 L1132.88 395.56 L1133.22 399.78 L1133.55 400.00 L1133.88 400.00 L1134.22 400.00 L1134.55 400.00 L1134.88 400.00 L1135.22 400.00 L1135.55 400.00 L1135.89 400.00 L1136.22 400.00 L1136.55 400.00 L1136.89 400.00 L1137.22 400.00 L1137.55 400.00 L1137.89 399.65 L1138.22 396.51 L1138.55 393.36 L1138.89 390.21 L1139.22 387.07 L1139.55 386.70 L1139.89 387.10 L1140.22 386.69 L1140.55 386.87 L1140.89 386.19 L1141.22 386.25 L1141.56 386.61 L1141.89 387.11 L1142.22 386.87 L1142.56 386.88 L1142.89 386.92 L1143.22 386.89 L1143.56 386.21 L1143.89 386.99 L1144.22 387.09 L1144.56 386.15 L1144.89 386.54 L1145.22 386.08 L1145.56 386.71 L1145.89 386.18 L1146.22 386.44 L1146.56 386.29 L1146.89 385.35 L1147.22 382.83 L1147.56 380.31 L1147.89 377.80 L1148.23 375.28 L1148.56 373.85 L1148.89 377.44 L1149.23 381.04 L1149.56 384.64 L1149.89 388.23 L1150.23 391.83 L1150.56 395.42 L1150.89 399.02 L1151.23 400.00 L1151.56 400.00 L1151.89 400.00 L1152.23 400.00 L1152.56 400.00 L1152.89 400.00 L1153.23 400.00 L1153.56 400.00 L1153.90 400.00 L1154.23 400.00 L1154.56 400.00 L1154.90 400.00 L1155.23 400.00 L1155.56 400.00 L1155.90 397.20 L1156.23 394.06 L1156.56 390.91 L1156.90 387.77 L1157.23 386.34 L1157.56 386.61 L1157.90 387.04 L1158.23 386.91 L1158.56 386.20 L1158.90 386.18 L1159.23 386.15 L1159.56 386.78 L1159.90 386.44 L1160.23 386.28 L1160.57 386.45 L1160.90 386.27 L1161.23 386.58 L1161.57 386.44 L1161.90 386.41 L1162.23 386.85 L1162.57 386.15 L1162.90 386.12 L1163.23 387.06 L1163.57 386.10 L1163.90 386.11 L1164.23 386.42 L1164.57 385.66 L1164.90 382.26 L1165.23 378.87 L1165.57 375.47 L1165.90 372.07 L1166.23 368.67 L1166.57 372.56 L1166.90 376.78 L1167.24 381.01 L1167.57 385.23 L1167.90 389.46 L1168.24 393.68 L1168.57 397.91 L1168.90 400.00 L1169.24 400.00 L1169.57 400.00 L1169.90 400.00 L1170.24 400.00 L1170.57 400.00 L1170.90 400.00 L1171.24 400.00 L1171.57 400.00 L1171.90 400.00 L1172.24 400.00 L1172.57 400.00 L1172.91 400.00 L1173.24 400.00 L1173.57 397.90 L1173.91 394.76 L1174.24 391.61 L1174.57 388.46 L1174.91 387.09 L1175.24 386.18 L1175.57 387.00 L1175.91 386.10 L1176.24 386.43 L1176.57 387.08 L1176.91 386.96 L1177.24 386.46 L1177.57 386.53 L1177.91 386.34 L1178.24 386.15 L1178.57 386.91 L1178.91 387.14 L1179.24 386.15 L1179.58 387.13 L1179.91 386.20 L1180.24 387.02 L1180.58 386.27 L1180.91 386.30 L1181.24 386.20 L1181.58 386.55 L1181.91 386.20 L1182.24 386.46 L1182.58 383.95 L1182.91 381.43 L1183.24 378.91 L1183.58 376.40 L1183.91 373.88 L1184.24 375.85 L1184.58 379.44 L1184.91 383.04 L1185.24 386.64 L1185.58 390.23 L1185.91 393.83 L1186.25 397.42 L1186.58 400.00 L1186.91 400.00 L1187.25 400.00 L1187.58 400.00 L1187.91 400.00 L1188.25 400.00 L1188.58 400.00 L1188.91 400.00 L1189.25 400.00 L1189.58 400.00 L1189.91 400.00 L1190.25 400.00 L1190.58 400.00 L1190.91 400.00 L1191.25 398.60 L1191.58 395.45 L1191.92 392.31 L1192.25 389.16 L1192.58 386.92 L1192.92 386.42 L1193.25 386.79 L1193.58 386.19 L1193.92 386.31 L1194.25 386.64 L1194.58 386.58 L1194.92 387.11 L1195.25 387.10 L1195.58 386.50 L1195.92 386.62 L1196.25 386.21 L1196.58 386.49 L1196.92 386.99 L1197.25 386.75 L1197.58 386.32 L1197.92 386.58 L1198.25 387.13 L1198.59 386.24 L1198.92 386.25 L1199.25 387.05 L1199.59 386.56 L1199.92 386.73 L1200.25 383.77 L1200.59 380.37 L1200.92 376.97 L1201.25 373.58 L1201.59 370.18 L1201.92 370.69 L1202.25 374.91 L1202.59 379.14 L1202.92 383.36 L1203.25 387.58 L1203.59 391.81 L1203.92 396.03 L1204.26 400.00 L1204.59 400.00 L1204.92 400.00 L1205.26 400.00 L1205.59 400.00 L1205.92 400.00 L1206.26 400.00 L1206.59 400.00 L1206.92 400.00 L1207.26 400.00 L1207.59 400.00 L1207.92 400.00 L1208.26 400.00 L1208.59 400.00 L1208.92 399.30 L1209.26 396.15 L1209.59 393.00 L1209.92 389.86 L1210.26 386.71 L1210.59 386.30 L1210.93 386.81 L1211.26 386.89 L1211.59 386.62 L1211.93 386.11 L1212.26 387.04 L1212.59 387.02 L1212.93 386.48 L1213.26 386.19 L1213.59 386.59 L1213.93 386.68 L1214.26 386.22 L1214.59 386.31 L1214.93 387.07 L1215.26 386.20 L1215.59 386.93 L1215.93 386.82 L1216.26 386.24 L1216.59 386.69 L1216.93 386.29 L1217.26 386.96 L1217.60 386.20 L1217.93 385.06 L1218.26 382.55 L1218.60 380.03 L1218.93 377.51 L1219.26 375.00 L1219.60 374.25 L1219.93 377.85 L1220.26 381.45 L1220.60 385.04 L1220.93 388.64 L1221.26 392.23 L1221.60 395.83 L1221.93 399.42 L1222.26 400.00 L1222.60 400.00 L1222.93 400.00 L1223.27 400.00 L1223.60 400.00 L1223.93 400.00 L1224.27 400.00 L1224.60 400.00 L1224.93 400.00 L1225.27 400.00 L1225.60 400.00 L1225.93 400.00 L1226.27 400.00 L1226.60 399.99 L1226.93 396.85 L1227.27 393.70 L1227.60 390.56 L1227.93 387.41 L1228.27 386.95 L1228.60 386.98 L1228.93 386.61 L1229.27 386.78 L1229.60 386.56 L1229.94 386.17 L1230.27 386.38 L1230.60 387.13 L1230.94 386.81 L1231.27 386.56 L1231.60 386.62 L1231.94 386.37 L1232.27 386.62 L1232.60 387.06 L1232.94 386.88 L1233.27 386.23 L1233.60 386.76 L1233.94 386.32 L1234.27 386.08 L1234.60 386.47 L1234.94 386.42 L1235.27 386.49 L1235.60 385.28 L1235.94 381.88 L1236.27 378.48 L1236.61 375.08 L1236.94 371.69 L1237.27 368.81 L1237.61 373.04 L1237.94 377.26 L1238.27 381.49 L1238.61 385.71 L1238.94 389.94 L1239.27 394.16 L1239.61 398.38 L1239.94 400.00 L1240.27 400.00 L1240.61 400.00 L1240.94 400.00 L1241.27 400.00 L1241.61 400.00 L1241.94 400.00 L1242.28 400.00 L1242.61 400.00 L1242.94 400.00 L1243.28 400.00 L1243.61 400.00 L1243.94 400.00 L1244.28 400.00 L1244.61 397.55 L1244.94 394.40 L1245.28 391.25 L1245.61 388.11 L1245.94 386.81 L1246.28 386.16 L1246.61 386.64 L1246.94 386.16 L1247.28 386.81 L1247.61 386.21 L1247.94 386.30 L1248.28 386.48 L1248.61 386.67 L1248.95 386.99 L1249.28 386.31 L1249.61 386.75 L1249.95 386.43 L1250.28 387.00 L1250.61 387.05 L1250.95 386.99 L1251.28 386.27 L1251.61 386.95 L1251.95 386.17 L1252.28 386.74 L1252.61 386.52 L1252.95 386.77 L1253.28 386.18 L1253.61 383.66 L1253.95 381.15 L1254.28 378.63 L1254.62 376.11 L1254.95 373.60 L1255.28 376.26 L1255.62 379.85 L1255.95 383.45 L1256.28 387.04 L1256.62 390.64 L1256.95 394.23 L1257.28 397.83 L1257.62 400.00 L1257.95 400.00 L1258.28 400.00 L1258.62 400.00 L1258.95 400.00 L1259.28 400.00 L1259.62 400.00 L1259.95 400.00 L1260.28 400.00 L1260.62 400.00 L1260.95 400.00 L1261.29 400.00 L1261.62 400.00 L1261.95 400.00 L1262.29 398.24 L1262.62 395.10 L1262.95 391.95 L1263.29 388.81 L1263.62 386.48 L1263.95 387.04 L1264.29 386.71 L1264.62 386.14 L1264.95 386.95 L1265.29 386.44 L1265.62 386.79 L1265.95 386.82 L1266.29 387.12 L1266.62 387.12 L1266.95 386.12 L1267.29 386.25 L1267.62 386.28 L1267.96 386.28 L1268.29 386.12 L1268.62 386.97 L1268.96 386.51 L1269.29 386.61 L1269.62 386.53 L1269.96 386.14 L1270.29 386.33 L1270.62 386.10 L1270.96 387.02 L1271.29 383.39 L1271.62 379.99 L1271.96 376.59 L1272.29 373.19 L1272.62 369.80 L1272.96 371.16 L1273.29 375.39 L1273.63 379.61 L1273.96 383.84 L1274.29 388.06 L1274.63 392.29 L1274.96 396.51 L1275.29 400.00 L1275.63 400.00 L1275.96 400.00 L1276.29 400.00 L1276.63 400.00 L1276.96 400.00 L1277.29 400.00 L1277.63 400.00 L1277.96 400.00 L1278.29 400.00 L1278.63 400.00 L1278.96 400.00 L1279.29 400.00 L1279.63 400.00 L1279.96 398.94 L1280.30 395.80 L1280.63 392.65 L1280.96 389.50 L1281.30 386.44 L1281.63 386.42 L1281.96 386.34 L1282.30 386.48 L1282.63 386.25 L1282.96 386.82 L1283.30 386.15 L1283.63 386.71 L1283.96 386.50 L1284.30 386.18 L1284.63 386.39 L1284.96 386.81 L1285.30 386.89 L1285.63 386.79 L1285.97 386.47 L1286.30 386.07 L1286.63 386.18 L1286.97 386.71 L1287.30 386.71 L1287.63 386.26 L1287.97 386.84 L1288.30 386.70 L1288.63 387.13 L1288.97 384.78 L1289.30 382.26 L1289.63 379.75 L1289.97 377.23 L1290.30 374.71 L1290.63 374.66 L1290.97 378.26 L1291.30 381.85 L1291.63 385.45 L1291.97 389.04 L1292.30 392.64 L1292.64 396.23 L1292.97 399.83 L1293.30 400.00 L1293.64 400.00 L1293.97 400.00 L1294.30 400.00 L1294.64 400.00 L1294.97 400.00 L1295.30 400.00 L1295.64 400.00 L1295.97 400.00 L1296.30 400.00 L1296.64 400.00 L1296.97 400.00 L1297.30 400.00 L1297.64 399.64 L1297.97 396.49 L1298.30 393.35 L1298.64 390.20 L1298.97 387.06 L1299.31 386.94 L1299.64 386.56 L1299.97 386.40 L1300.31 386.48 L1300.64 386.75 L1300.97 386.12 L1301.31 386.47 L1301.64 386.97 L1301.97 387.07 L1302.31 386.10 L1302.64 386.08 L1302.97 386.16 L1303.31 386.49 L1303.64 386.81 L1303.97 387.04 L1304.31 386.86 L1304.64 386.90 L1304.98 386.15 L1305.31 386.18 L1305.64 386.31 L1305.98 386.98 L1306.31 386.89 L1306.64 384.89 L1306.98 381.50 L1307.31 378.10 L1307.64 374.70 L1307.98 371.30 L1308.31 369.29 L1308.64 373.51 L1308.98 377.74 L1309.31 381.96 L1309.64 386.19 L1309.98 390.41 L1310.31 394.64 L1310.64 398.86 L1310.98 400.00 L1311.31 400.00 L1311.65 400.00 L1311.98 400.00 L1312.31 400.00 L1312.65 400.00 L1312.98 400.00 L1313.31 400.00 L1313.65 400.00 L1313.98 400.00 L1314.31 400.00 L1314.65 400.00 L1314.98 400.00 L1315.31 400.00 L1315.65 397.19 L1315.98 394.05 L1316.31 390.90 L1316.65 387.75 L1316.98 386.82 L1317.31 386.13 L1317.65 386.97 L1317.98 386.29 L1318.32 386.41 L1318.65 386.55 L1318.98 386.11 L1319.32 386.86 L1319.65 386.58 L1319.98 386.97 L1320.32 387.04 L1320.65 387.11 L1320.98 386.80 L1321.32 387.01 L1321.65 387.08 L1321.98 386.08 L1322.32 386.83 L1322.65 386.19 L1322.98 386.39 L1323.32 386.36 L1323.65 386.44 L1323.99 386.12 L1324.32 385.90 L1324.65 383.38 L1324.99 380.86 L1325.32 378.35 L1325.65 375.83 L1325.99 373.31 L1326.32 376.66 L1326.65 380.26 L1326.99 383.85 L1327.32 387.45 L1327.65 391.04 L1327.99 394.64 L1328.32 398.23 L1328.65 400.00 L1328.99 400.00 L1329.32 400.00 L1329.65 400.00 L1329.99 400.00 L1330.32 400.00 L1330.66 400.00 L1330.99 400.00 L1331.32 400.00 L1331.66 400.00 L1331.99 400.00 L1332.32 400.00 L1332.66 400.00 L1332.99 400.00 L1333.32 397.89 L1333.66 394.74 L1333.99 391.60 L1334.32 388.45 L1334.66 386.20 L1334.99 386.37 L1335.32 386.54 L1335.66 386.40 L1335.99 386.37 L1336.33 386.55 L1336.66 386.60 L1336.99 386.98 L1337.33 386.24 L1337.66 386.62 L1337.99 387.07 L1338.33 386.96 L1338.66 386.20 L1338.99 386.87 L1339.33 386.72 L1339.66 386.41 L1339.99 386.22 L1340.33 386.79 L1340.66 386.73 L1340.99 386.69 L1341.33 387.11 L1341.66 386.20 L1341.99 386.40 L1342.33 383.00 L1342.66 379.61 L1343.00 376.21 L1343.33 372.81 L1343.66 369.41 L1344.00 371.64 L1344.33 375.86 L1344.66 380.09 L1345.00 384.31 L1345.33 388.54 L1345.66 392.76 L1346.00 396.99 L1346.33 400.00 L1346.66 400.00 L1347.00 400.00 L1347.33 400.00 L1347.66 400.00 L1348.00 400.00 L1348.33 400.00 L1348.66 400.00 L1349.00 400.00 L1349.33 400.00 L1349.67 400.00 L1350.00 400.00 L1350.33 400.00 L1350.67 400.00 L1351.00 398.59 L1351.33 395.44 L1351.67 392.29 L1352.00 389.15 L1352 400 L1037.5 400 Z" fill="#f2f7f0"/><path d="M1037.50 386.89 L1037.83 387.03 L1038.17 386.72 L1038.50 386.97 L1038.83 387.07 L1039.17 386.71 L1039.50 386.16 L1039.83 386.28 L1040.17 386.32 L1040.50 384.52 L1040.84 382.00 L1041.17 379.48 L1041.50 376.96 L1041.84 374.45 L1042.17 375.04 L1042.50 378.63 L1042.84 382.23 L1043.17 385.82 L1043.50 389.42 L1043.84 393.01 L1044.17 396.61 L1044.50 400.00 L1044.84 400.00 L1045.17 400.00 L1045.50 400.00 L1045.84 400.00 L1046.17 400.00 L1046.50 400.00 L1046.84 400.00 L1047.17 400.00 L1047.51 400.00 L1047.84 400.00 L1048.17 400.00 L1048.51 400.00 L1048.84 400.00 L1049.17 399.31 L1049.51 396.16 L1049.84 393.02 L1050.17 389.87 L1050.51 386.73 L1050.84 386.90 L1051.17 386.57 L1051.51 386.84 L1051.84 386.96 L1052.17 387.03 L1052.51 386.91 L1052.84 386.15 L1053.17 386.25 L1053.51 386.28 L1053.84 386.28 L1054.18 386.93 L1054.51 386.81 L1054.84 386.47 L1055.18 386.36 L1055.51 386.23 L1055.84 386.20 L1056.18 387.05 L1056.51 386.49 L1056.84 386.42 L1057.18 386.60 L1057.51 386.95 L1057.84 386.63 L1058.18 384.54 L1058.51 381.14 L1058.84 377.74 L1059.18 374.34 L1059.51 370.95 L1059.85 369.73 L1060.18 373.96 L1060.51 378.18 L1060.85 382.41 L1061.18 386.63 L1061.51 390.86 L1061.85 395.08 L1062.18 399.30 L1062.51 400.00 L1062.85 400.00 L1063.18 400.00 L1063.51 400.00 L1063.85 400.00 L1064.18 400.00 L1064.51 400.00 L1064.85 400.00 L1065.18 400.00 L1065.51 400.00 L1065.85 400.00 L1066.18 400.00 L1066.52 400.00 L1066.85 400.00 L1067.18 396.86 L1067.52 393.71 L1067.85 390.57 L1068.18 387.42 L1068.52 387.05 L1068.85 386.14 L1069.18 386.21 L1069.52 386.55 L1069.85 386.82 L1070.18 386.17 L1070.52 386.53 L1070.85 386.20 L1071.18 386.23 L1071.52 386.60 L1071.85 386.70 L1072.19 386.50 L1072.52 386.68 L1072.85 386.97 L1073.19 386.81 L1073.52 386.27 L1073.85 387.09 L1074.19 387.09 L1074.52 386.47 L1074.85 386.84 L1075.19 386.57 L1075.52 386.64 L1075.85 385.63 L1076.19 383.11 L1076.52 380.60 L1076.85 378.08 L1077.19 375.56 L1077.52 373.44 L1077.85 377.04 L1078.19 380.63 L1078.52 384.23 L1078.86 387.82 L1079.19 391.42 L1079.52 395.02 L1079.86 398.61 L1080.19 400.00 L1080.52 400.00 L1080.86 400.00 L1081.19 400.00 L1081.52 400.00 L1081.86 400.00 L1082.19 400.00 L1082.52 400.00 L1082.86 400.00 L1083.19 400.00 L1083.52 400.00 L1083.86 400.00 L1084.19 400.00 L1084.52 400.00 L1084.86 397.56 L1085.19 394.41 L1085.53 391.27 L1085.86 388.12 L1086.19 386.77 L1086.53 386.07 L1086.86 386.93 L1087.19 386.70 L1087.53 386.92 L1087.86 386.46 L1088.19 386.84 L1088.53 386.76 L1088.86 386.34 L1089.19 386.80 L1089.53 386.54 L1089.86 386.17 L1090.19 387.03 L1090.53 387.07 L1090.86 386.90 L1091.20 386.32 L1091.53 386.48 L1091.86 386.89 L1092.20 386.79 L1092.53 386.95 L1092.86 386.65 L1093.20 387.10 L1093.53 386.04 L1093.86 382.65 L1094.20 379.25 L1094.53 375.85 L1094.86 372.45 L1095.20 369.06 L1095.53 372.08 L1095.86 376.31 L1096.20 380.53 L1096.53 384.76 L1096.86 388.98 L1097.20 393.21 L1097.53 397.43 L1097.87 400.00 L1098.20 400.00 L1098.53 400.00 L1098.87 400.00 L1099.20 400.00 L1099.53 400.00 L1099.87 400.00 L1100.20 400.00 L1100.53 400.00 L1100.87 400.00 L1101.20 400.00 L1101.53 400.00 L1101.87 400.00 L1102.20 400.00 L1102.53 398.26 L1102.87 395.11 L1103.20 391.96 L1103.53 388.82 L1103.87 386.39 L1104.20 386.18 L1104.54 386.12 L1104.87 386.35 L1105.20 386.11 L1105.54 387.12 L1105.87 386.83 L1106.20 386.11 L1106.54 386.31 L1106.87 386.70 L1107.20 386.13 L1107.54 386.48 L1107.87 386.26 L1108.20 386.83 L1108.54 386.94 L1108.87 386.67 L1109.20 386.99 L1109.54 386.73 L1109.87 386.11 L1110.21 386.79 L1110.54 387.13 L1110.87 387.09 L1111.21 386.96 L1111.54 384.23 L1111.87 381.71 L1112.21 379.20 L1112.54 376.68 L1112.87 374.16 L1113.21 375.44 L1113.54 379.04 L1113.87 382.63 L1114.21 386.23 L1114.54 389.83 L1114.87 393.42 L1115.21 397.02 L1115.54 400.00 L1115.87 400.00 L1116.21 400.00 L1116.54 400.00 L1116.88 400.00 L1117.21 400.00 L1117.54 400.00 L1117.88 400.00 L1118.21 400.00 L1118.54 400.00 L1118.88 400.00 L1119.21 400.00 L1119.54 400.00 L1119.88 400.00 L1120.21 398.95 L1120.54 395.81 L1120.88 392.66 L1121.21 389.52 L1121.54 386.30 L1121.88 386.75 L1122.21 386.83 L1122.55 387.04 L1122.88 386.09 L1123.21 386.69 L1123.55 386.92 L1123.88 387.08 L1124.21 387.08 L1124.55 386.96 L1124.88 386.42 L1125.21 386.98 L1125.55 387.10 L1125.88 386.62 L1126.21 386.87 L1126.55 386.07 L1126.88 387.01 L1127.21 386.57 L1127.55 386.31 L1127.88 386.70 L1128.21 386.08 L1128.55 386.63 L1128.88 386.88 L1129.22 384.15 L1129.55 380.76 L1129.88 377.36 L1130.22 373.96 L1130.55 370.56 L1130.88 370.21 L1131.22 374.43 L1131.55 378.66 L1131.88 382.88 L1132.22 387.11 L1132.55 391.33 L1132.88 395.56 L1133.22 399.78 L1133.55 400.00 L1133.88 400.00 L1134.22 400.00 L1134.55 400.00 L1134.88 400.00 L1135.22 400.00 L1135.55 400.00 L1135.89 400.00 L1136.22 400.00 L1136.55 400.00 L1136.89 400.00 L1137.22 400.00 L1137.55 400.00 L1137.89 399.65 L1138.22 396.51 L1138.55 393.36 L1138.89 390.21 L1139.22 387.07 L1139.55 386.70 L1139.89 387.10 L1140.22 386.69 L1140.55 386.87 L1140.89 386.19 L1141.22 386.25 L1141.56 386.61 L1141.89 387.11 L1142.22 386.87 L1142.56 386.88 L1142.89 386.92 L1143.22 386.89 L1143.56 386.21 L1143.89 386.99 L1144.22 387.09 L1144.56 386.15 L1144.89 386.54 L1145.22 386.08 L1145.56 386.71 L1145.89 386.18 L1146.22 386.44 L1146.56 386.29 L1146.89 385.35 L1147.22 382.83 L1147.56 380.31 L1147.89 377.80 L1148.23 375.28 L1148.56 373.85 L1148.89 377.44 L1149.23 381.04 L1149.56 384.64 L1149.89 388.23 L1150.23 391.83 L1150.56 395.42 L1150.89 399.02 L1151.23 400.00 L1151.56 400.00 L1151.89 400.00 L1152.23 400.00 L1152.56 400.00 L1152.89 400.00 L1153.23 400.00 L1153.56 400.00 L1153.90 400.00 L1154.23 400.00 L1154.56 400.00 L1154.90 400.00 L1155.23 400.00 L1155.56 400.00 L1155.90 397.20 L1156.23 394.06 L1156.56 390.91 L1156.90 387.77 L1157.23 386.34 L1157.56 386.61 L1157.90 387.04 L1158.23 386.91 L1158.56 386.20 L1158.90 386.18 L1159.23 386.15 L1159.56 386.78 L1159.90 386.44 L1160.23 386.28 L1160.57 386.45 L1160.90 386.27 L1161.23 386.58 L1161.57 386.44 L1161.90 386.41 L1162.23 386.85 L1162.57 386.15 L1162.90 386.12 L1163.23 387.06 L1163.57 386.10 L1163.90 386.11 L1164.23 386.42 L1164.57 385.66 L1164.90 382.26 L1165.23 378.87 L1165.57 375.47 L1165.90 372.07 L1166.23 368.67 L1166.57 372.56 L1166.90 376.78 L1167.24 381.01 L1167.57 385.23 L1167.90 389.46 L1168.24 393.68 L1168.57 397.91 L1168.90 400.00 L1169.24 400.00 L1169.57 400.00 L1169.90 400.00 L1170.24 400.00 L1170.57 400.00 L1170.90 400.00 L1171.24 400.00 L1171.57 400.00 L1171.90 400.00 L1172.24 400.00 L1172.57 400.00 L1172.91 400.00 L1173.24 400.00 L1173.57 397.90 L1173.91 394.76 L1174.24 391.61 L1174.57 388.46 L1174.91 387.09 L1175.24 386.18 L1175.57 387.00 L1175.91 386.10 L1176.24 386.43 L1176.57 387.08 L1176.91 386.96 L1177.24 386.46 L1177.57 386.53 L1177.91 386.34 L1178.24 386.15 L1178.57 386.91 L1178.91 387.14 L1179.24 386.15 L1179.58 387.13 L1179.91 386.20 L1180.24 387.02 L1180.58 386.27 L1180.91 386.30 L1181.24 386.20 L1181.58 386.55 L1181.91 386.20 L1182.24 386.46 L1182.58 383.95 L1182.91 381.43 L1183.24 378.91 L1183.58 376.40 L1183.91 373.88 L1184.24 375.85 L1184.58 379.44 L1184.91 383.04 L1185.24 386.64 L1185.58 390.23 L1185.91 393.83 L1186.25 397.42 L1186.58 400.00 L1186.91 400.00 L1187.25 400.00 L1187.58 400.00 L1187.91 400.00 L1188.25 400.00 L1188.58 400.00 L1188.91 400.00 L1189.25 400.00 L1189.58 400.00 L1189.91 400.00 L1190.25 400.00 L1190.58 400.00 L1190.91 400.00 L1191.25 398.60 L1191.58 395.45 L1191.92 392.31 L1192.25 389.16 L1192.58 386.92 L1192.92 386.42 L1193.25 386.79 L1193.58 386.19 L1193.92 386.31 L1194.25 386.64 L1194.58 386.58 L1194.92 387.11 L1195.25 387.10 L1195.58 386.50 L1195.92 386.62 L1196.25 386.21 L1196.58 386.49 L1196.92 386.99 L1197.25 386.75 L1197.58 386.32 L1197.92 386.58 L1198.25 387.13 L1198.59 386.24 L1198.92 386.25 L1199.25 387.05 L1199.59 386.56 L1199.92 386.73 L1200.25 383.77 L1200.59 380.37 L1200.92 376.97 L1201.25 373.58 L1201.59 370.18 L1201.92 370.69 L1202.25 374.91 L1202.59 379.14 L1202.92 383.36 L1203.25 387.58 L1203.59 391.81 L1203.92 396.03 L1204.26 400.00 L1204.59 400.00 L1204.92 400.00 L1205.26 400.00 L1205.59 400.00 L1205.92 400.00 L1206.26 400.00 L1206.59 400.00 L1206.92 400.00 L1207.26 400.00 L1207.59 400.00 L1207.92 400.00 L1208.26 400.00 L1208.59 400.00 L1208.92 399.30 L1209.26 396.15 L1209.59 393.00 L1209.92 389.86 L1210.26 386.71 L1210.59 386.30 L1210.93 386.81 L1211.26 386.89 L1211.59 386.62 L1211.93 386.11 L1212.26 387.04 L1212.59 387.02 L1212.93 386.48 L1213.26 386.19 L1213.59 386.59 L1213.93 386.68 L1214.26 386.22 L1214.59 386.31 L1214.93 387.07 L1215.26 386.20 L1215.59 386.93 L1215.93 386.82 L1216.26 386.24 L1216.59 386.69 L1216.93 386.29 L1217.26 386.96 L1217.60 386.20 L1217.93 385.06 L1218.26 382.55 L1218.60 380.03 L1218.93 377.51 L1219.26 375.00 L1219.60 374.25 L1219.93 377.85 L1220.26 381.45 L1220.60 385.04 L1220.93 388.64 L1221.26 392.23 L1221.60 395.83 L1221.93 399.42 L1222.26 400.00 L1222.60 400.00 L1222.93 400.00 L1223.27 400.00 L1223.60 400.00 L1223.93 400.00 L1224.27 400.00 L1224.60 400.00 L1224.93 400.00 L1225.27 400.00 L1225.60 400.00 L1225.93 400.00 L1226.27 400.00 L1226.60 399.99 L1226.93 396.85 L1227.27 393.70 L1227.60 390.56 L1227.93 387.41 L1228.27 386.95 L1228.60 386.98 L1228.93 386.61 L1229.27 386.78 L1229.60 386.56 L1229.94 386.17 L1230.27 386.38 L1230.60 387.13 L1230.94 386.81 L1231.27 386.56 L1231.60 386.62 L1231.94 386.37 L1232.27 386.62 L1232.60 387.06 L1232.94 386.88 L1233.27 386.23 L1233.60 386.76 L1233.94 386.32 L1234.27 386.08 L1234.60 386.47 L1234.94 386.42 L1235.27 386.49 L1235.60 385.28 L1235.94 381.88 L1236.27 378.48 L1236.61 375.08 L1236.94 371.69 L1237.27 368.81 L1237.61 373.04 L1237.94 377.26 L1238.27 381.49 L1238.61 385.71 L1238.94 389.94 L1239.27 394.16 L1239.61 398.38 L1239.94 400.00 L1240.27 400.00 L1240.61 400.00 L1240.94 400.00 L1241.27 400.00 L1241.61 400.00 L1241.94 400.00 L1242.28 400.00 L1242.61 400.00 L1242.94 400.00 L1243.28 400.00 L1243.61 400.00 L1243.94 400.00 L1244.28 400.00 L1244.61 397.55 L1244.94 394.40 L1245.28 391.25 L1245.61 388.11 L1245.94 386.81 L1246.28 386.16 L1246.61 386.64 L1246.94 386.16 L1247.28 386.81 L1247.61 386.21 L1247.94 386.30 L1248.28 386.48 L1248.61 386.67 L1248.95 386.99 L1249.28 386.31 L1249.61 386.75 L1249.95 386.43 L1250.28 387.00 L1250.61 387.05 L1250.95 386.99 L1251.28 386.27 L1251.61 386.95 L1251.95 386.17 L1252.28 386.74 L1252.61 386.52 L1252.95 386.77 L1253.28 386.18 L1253.61 383.66 L1253.95 381.15 L1254.28 378.63 L1254.62 376.11 L1254.95 373.60 L1255.28 376.26 L1255.62 379.85 L1255.95 383.45 L1256.28 387.04 L1256.62 390.64 L1256.95 394.23 L1257.28 397.83 L1257.62 400.00 L1257.95 400.00 L1258.28 400.00 L1258.62 400.00 L1258.95 400.00 L1259.28 400.00 L1259.62 400.00 L1259.95 400.00 L1260.28 400.00 L1260.62 400.00 L1260.95 400.00 L1261.29 400.00 L1261.62 400.00 L1261.95 400.00 L1262.29 398.24 L1262.62 395.10 L1262.95 391.95 L1263.29 388.81 L1263.62 386.48 L1263.95 387.04 L1264.29 386.71 L1264.62 386.14 L1264.95 386.95 L1265.29 386.44 L1265.62 386.79 L1265.95 386.82 L1266.29 387.12 L1266.62 387.12 L1266.95 386.12 L1267.29 386.25 L1267.62 386.28 L1267.96 386.28 L1268.29 386.12 L1268.62 386.97 L1268.96 386.51 L1269.29 386.61 L1269.62 386.53 L1269.96 386.14 L1270.29 386.33 L1270.62 386.10 L1270.96 387.02 L1271.29 383.39 L1271.62 379.99 L1271.96 376.59 L1272.29 373.19 L1272.62 369.80 L1272.96 371.16 L1273.29 375.39 L1273.63 379.61 L1273.96 383.84 L1274.29 388.06 L1274.63 392.29 L1274.96 396.51 L1275.29 400.00 L1275.63 400.00 L1275.96 400.00 L1276.29 400.00 L1276.63 400.00 L1276.96 400.00 L1277.29 400.00 L1277.63 400.00 L1277.96 400.00 L1278.29 400.00 L1278.63 400.00 L1278.96 400.00 L1279.29 400.00 L1279.63 400.00 L1279.96 398.94 L1280.30 395.80 L1280.63 392.65 L1280.96 389.50 L1281.30 386.44 L1281.63 386.42 L1281.96 386.34 L1282.30 386.48 L1282.63 386.25 L1282.96 386.82 L1283.30 386.15 L1283.63 386.71 L1283.96 386.50 L1284.30 386.18 L1284.63 386.39 L1284.96 386.81 L1285.30 386.89 L1285.63 386.79 L1285.97 386.47 L1286.30 386.07 L1286.63 386.18 L1286.97 386.71 L1287.30 386.71 L1287.63 386.26 L1287.97 386.84 L1288.30 386.70 L1288.63 387.13 L1288.97 384.78 L1289.30 382.26 L1289.63 379.75 L1289.97 377.23 L1290.30 374.71 L1290.63 374.66 L1290.97 378.26 L1291.30 381.85 L1291.63 385.45 L1291.97 389.04 L1292.30 392.64 L1292.64 396.23 L1292.97 399.83 L1293.30 400.00 L1293.64 400.00 L1293.97 400.00 L1294.30 400.00 L1294.64 400.00 L1294.97 400.00 L1295.30 400.00 L1295.64 400.00 L1295.97 400.00 L1296.30 400.00 L1296.64 400.00 L1296.97 400.00 L1297.30 400.00 L1297.64 399.64 L1297.97 396.49 L1298.30 393.35 L1298.64 390.20 L1298.97 387.06 L1299.31 386.94 L1299.64 386.56 L1299.97 386.40 L1300.31 386.48 L1300.64 386.75 L1300.97 386.12 L1301.31 386.47 L1301.64 386.97 L1301.97 387.07 L1302.31 386.10 L1302.64 386.08 L1302.97 386.16 L1303.31 386.49 L1303.64 386.81 L1303.97 387.04 L1304.31 386.86 L1304.64 386.90 L1304.98 386.15 L1305.31 386.18 L1305.64 386.31 L1305.98 386.98 L1306.31 386.89 L1306.64 384.89 L1306.98 381.50 L1307.31 378.10 L1307.64 374.70 L1307.98 371.30 L1308.31 369.29 L1308.64 373.51 L1308.98 377.74 L1309.31 381.96 L1309.64 386.19 L1309.98 390.41 L1310.31 394.64 L1310.64 398.86 L1310.98 400.00 L1311.31 400.00 L1311.65 400.00 L1311.98 400.00 L1312.31 400.00 L1312.65 400.00 L1312.98 400.00 L1313.31 400.00 L1313.65 400.00 L1313.98 400.00 L1314.31 400.00 L1314.65 400.00 L1314.98 400.00 L1315.31 400.00 L1315.65 397.19 L1315.98 394.05 L1316.31 390.90 L1316.65 387.75 L1316.98 386.82 L1317.31 386.13 L1317.65 386.97 L1317.98 386.29 L1318.32 386.41 L1318.65 386.55 L1318.98 386.11 L1319.32 386.86 L1319.65 386.58 L1319.98 386.97 L1320.32 387.04 L1320.65 387.11 L1320.98 386.80 L1321.32 387.01 L1321.65 387.08 L1321.98 386.08 L1322.32 386.83 L1322.65 386.19 L1322.98 386.39 L1323.32 386.36 L1323.65 386.44 L1323.99 386.12 L1324.32 385.90 L1324.65 383.38 L1324.99 380.86 L1325.32 378.35 L1325.65 375.83 L1325.99 373.31 L1326.32 376.66 L1326.65 380.26 L1326.99 383.85 L1327.32 387.45 L1327.65 391.04 L1327.99 394.64 L1328.32 398.23 L1328.65 400.00 L1328.99 400.00 L1329.32 400.00 L1329.65 400.00 L1329.99 400.00 L1330.32 400.00 L1330.66 400.00 L1330.99 400.00 L1331.32 400.00 L1331.66 400.00 L1331.99 400.00 L1332.32 400.00 L1332.66 400.00 L1332.99 400.00 L1333.32 397.89 L1333.66 394.74 L1333.99 391.60 L1334.32 388.45 L1334.66 386.20 L1334.99 386.37 L1335.32 386.54 L1335.66 386.40 L1335.99 386.37 L1336.33 386.55 L1336.66 386.60 L1336.99 386.98 L1337.33 386.24 L1337.66 386.62 L1337.99 387.07 L1338.33 386.96 L1338.66 386.20 L1338.99 386.87 L1339.33 386.72 L1339.66 386.41 L1339.99 386.22 L1340.33 386.79 L1340.66 386.73 L1340.99 386.69 L1341.33 387.11 L1341.66 386.20 L1341.99 386.40 L1342.33 383.00 L1342.66 379.61 L1343.00 376.21 L1343.33 372.81 L1343.66 369.41 L1344.00 371.64 L1344.33 375.86 L1344.66 380.09 L1345.00 384.31 L1345.33 388.54 L1345.66 392.76 L1346.00 396.99 L1346.33 400.00 L1346.66 400.00 L1347.00 400.00 L1347.33 400.00 L1347.66 400.00 L1348.00 400.00 L1348.33 400.00 L1348.66 400.00 L1349.00 400.00 L1349.33 400.00 L1349.67 400.00 L1350.00 400.00 L1350.33 400.00 L1350.67 400.00 L1351.00 398.59 L1351.33 395.44 L1351.67 392.29 L1352.00 389.15" fill="none" stroke="#3a961f" stroke-width="1.3"/><path d="M1037.5 286 V322.3" stroke="#8e4fb4" stroke-width="1.2"/><path d="M1031 286 H1037.5" stroke="#8e4fb4" stroke-width="1.2" opacity="1"/><path d="M1031 299.4 H1037.5" stroke="#8e4fb4" stroke-width="1.2" opacity="1"/><path d="M1031 307 H1037.5" stroke="#8e4fb4" stroke-width="1.2" opacity="0.45"/><path d="M1031 322.3 H1037.5" stroke="#8e4fb4" stroke-width="1.2" opacity="1"/><path d="M1037.5 363.7 V400" stroke="#5aa84a" stroke-width="1.2"/><path d="M1031 363.7 H1037.5" stroke="#5aa84a" stroke-width="1.2" opacity="1"/><path d="M1031 373.2 H1037.5" stroke="#5aa84a" stroke-width="1.2" opacity="1"/><path d="M1031 379.9 H1037.5" stroke="#5aa84a" stroke-width="1.2" opacity="0.45"/><path d="M1031 386.6 H1037.5" stroke="#5aa84a" stroke-width="1.2" opacity="0.45"/><path d="M1031 400 H1037.5" stroke="#5aa84a" stroke-width="1.2" opacity="1"/><path d="M1037.5 403.5 H1352" stroke="#555" stroke-width="1.6"/><path d="M1044 403.5 V407" stroke="#555" stroke-width="1"/><path d="M1083.5 403.5 V407" stroke="#555" stroke-width="1"/><path d="M1122.5 403.5 V407" stroke="#555" stroke-width="1"/><path d="M1162 403.5 V407" stroke="#555" stroke-width="1"/><path d="M1202 403.5 V407" stroke="#555" stroke-width="1"/><path d="M1241 403.5 V407" stroke="#555" stroke-width="1"/><path d="M1280.5 403.5 V407" stroke="#555" stroke-width="1"/><path d="M1319.5 403.5 V407" stroke="#555" stroke-width="1"/><path d="M1037.5 403.5 V407 M1352 403.5 V407" stroke="#555" stroke-width="1"/></svg>
<div class="t axl" style="left:988px;width:40px;top:276px">47.1</div>
<div class="t axl" style="left:988px;width:40px;top:289.4px">30</div>
<div class="t axl" style="left:988px;width:40px;top:297px">20</div>
<div class="t axl" style="left:988px;width:40px;top:312.3px">0</div>
<div class="t axl" style="left:988px;width:40px;top:353.7px">54.2</div>
<div class="t axl" style="left:988px;width:40px;top:363.2px">40</div>
<div class="t axl" style="left:988px;width:40px;top:369.9px">30</div>
<div class="t axl" style="left:988px;width:40px;top:376.6px">20</div>
<div class="t axl" style="left:988px;width:40px;top:390px">0</div>
<div class="t axx" style="left:1014px;width:60px;top:404.6px">03 PM</div>
<div class="t axx" style="left:1053.5px;width:60px;top:404.6px">06 PM</div>
<div class="t axx" style="left:1092.5px;width:60px;top:404.6px">09 PM</div>
<div class="t axx" style="left:1132px;width:60px;top:404.6px">Mon, 19</div>
<div class="t axx" style="left:1172px;width:60px;top:404.6px">03 AM</div>
<div class="t axx" style="left:1211px;width:60px;top:404.6px">06 AM</div>
<div class="t axx" style="left:1250.5px;width:60px;top:404.6px">09 AM</div>
<div class="t axx" style="left:1289.5px;width:60px;top:404.6px">12 PM</div>
<div class="tile" style="left:380px;top:434px;width:489px;height:243px;"></div>
<div class="clip" style="left:381.5px;top:436px;width:486.5px;height:239.5px"><div class="inr" style="left:-381.5px;top:-436px">
<div class="t th" style="left:388px;top:449.00px;">Short key</div>
<div class="t th" style="left:513.5px;top:449.00px;">End date</div>
<div class="t th" style="left:720px;top:449.00px;">Start date</div>
<div class="a" style="left:506px;top:444px;width:1.00px;height:233.00px;background:#e8e8e8"></div>
<div class="a" style="left:713px;top:444px;width:1.00px;height:233.00px;background:#e8e8e8"></div>
<div class="a" style="left:381.5px;top:477.2px;width:487.50px;height:1.00px;background:#e8e8e8"></div>
<div class="t td" style="left:388px;top:483.80px;">37B-674</div>
<div class="t tdm" style="left:513.5px;top:484.30px;">5/19/2025 1:56:01 PM</div>
<div class="t tdm" style="left:720px;top:484.30px;">5/19/2025 1:41:…</div>
<div class="a" style="left:381.5px;top:510.4px;width:487.50px;height:1.00px;background:#e8e8e8"></div>
<div class="t td" style="left:388px;top:517.00px;">37B-673</div>
<div class="t tdm" style="left:513.5px;top:517.50px;">5/19/2025 12:37:01 PM</div>
<div class="t tdm" style="left:720px;top:517.50px;">5/19/2025 12:21…</div>
<div class="a" style="left:381.5px;top:543.6px;width:487.50px;height:1.00px;background:#e8e8e8"></div>
<div class="t td" style="left:388px;top:550.20px;">37B-672</div>
<div class="t tdm" style="left:513.5px;top:550.70px;">5/19/2025 11:15:31 AM</div>
<div class="t tdm" style="left:720px;top:550.70px;">5/19/2025 11:00…</div>
<div class="a" style="left:381.5px;top:577px;width:487.50px;height:1.00px;background:#e8e8e8"></div>
<div class="t td" style="left:388px;top:583.60px;">37B-671</div>
<div class="t tdm" style="left:513.5px;top:584.10px;">5/19/2025 9:52:31 AM</div>
<div class="t tdm" style="left:720px;top:584.10px;">5/19/2025 9:38:…</div>
<div class="a" style="left:381.5px;top:610.3px;width:487.50px;height:1.00px;background:#e8e8e8"></div>
<div class="t td" style="left:388px;top:616.90px;">37B-670</div>
<div class="t tdm" style="left:513.5px;top:617.40px;">5/19/2025 8:31:31 AM</div>
<div class="t tdm" style="left:720px;top:617.40px;">5/19/2025 8:17:…</div>
<div class="a" style="left:381.5px;top:643.5px;width:487.50px;height:1.00px;background:#e8e8e8"></div>
<div class="t td" style="left:388px;top:650.10px;">37B-66F</div>
<div class="t tdm" style="left:513.5px;top:650.60px;">5/19/2025 7:12:31 AM</div>
<div class="t tdm" style="left:720px;top:650.60px;">5/19/2025 6:57:…</div>
<div class="a" style="left:381.5px;top:671.5px;width:241.00px;height:4.00px;background:#c8c8c8;border-radius:2px"></div>
<div class="a" style="left:865px;top:478px;width:3.50px;height:18.00px;background:#c8c8c8"></div>
</div></div>
<div class="tile" style="left:874px;top:434px;width:77px;height:243px;"></div>
<div class="clip" style="left:875px;top:436px;width:42px;height:239px"><div class="inr" style="left:-875px;top:-436px">
<div class="t ttl" style="left:883px;top:446.80px;">BA:CC</div>
</div></div>
<div class="a" style="left:936px;top:444px;width:13.00px;height:24.00px;background:#fff"></div>
<div class="t val" style="left:883px;top:474.00px;color:#1f6fc6;letter-spacing:-0.75px">6.7 DEG. C</div>
<div class="t lbl" style="left:883px;top:500.00px;">BA:... NC.2</div>
<svg class="a" style="left:0;top:0" width="1430" height="935"><defs><linearGradient id="gr6" x1="0" y1="0" x2="0" y2="1"><stop offset="0" stop-color="#dfe9f6"/><stop offset="1" stop-color="#f7f9fc" stop-opacity="0.5"/></linearGradient></defs><path d="M883.00 587.89 L883.50 587.99 L884.00 588.72 L884.50 587.47 L885.00 587.42 L885.50 587.46 L886.00 586.34 L886.50 586.98 L887.00 587.11 L887.50 587.35 L888.00 585.53 L888.50 585.88 L889.00 585.22 L889.50 586.79 L890.00 586.36 L890.50 584.65 L891.00 586.76 L891.50 586.57 L892.00 585.67 L892.50 585.43 L893.00 584.18 L893.50 583.69 L894.00 584.77 L894.50 583.49 L895.00 583.66 L895.50 583.63 L896.00 582.97 L896.50 583.86 L897.00 583.66 L897.50 584.47 L898.00 583.55 L898.50 583.69 L899.00 583.00 L899.50 581.14 L900.00 578.40 L900.50 575.72 L901.00 575.19 L901.50 572.94 L902.00 570.32 L902.50 567.75 L903.00 564.56 L903.50 562.10 L904.00 559.99 L904.50 557.22 L905.00 556.64 L905.50 553.51 L906.00 552.33 L906.50 548.98 L907.00 548.10 L907.50 545.58 L908.00 540.80 L908.50 541.11 L909.00 542.60 L909.50 541.36 L910.00 542.39 L910.50 540.80 L911.00 539.84 L911.50 540.98 L912.00 541.15 L912.50 539.74 L913.00 539.11 L913.50 539.51 L914.00 540.83 L914.50 540.15 L915.00 538.42 L915.50 538.54 L916.00 538.00 L916.50 537.71 L917.00 539.29 L917.50 537.62 L918.00 538.34 L918.50 537.88 L919.00 537.08 L919.50 538.19 L920.00 536.55 L920.50 537.59 L921.00 536.14 L921.50 536.68 L922.00 535.99 L922.50 535.94 L923.00 537.43 L923.50 536.84 L924.00 535.45 L924.50 536.65 L925.00 534.85 L925.50 535.10 L926.00 536.01 L926.50 535.31 L927.00 533.82 L927.50 535.76 L928.00 533.71 L928.50 533.63 L929.00 534.67 L929.50 533.42 L930.00 533.15 L930.50 532.43 L931.00 532.28 L931.50 533.27 L932.00 532.38 L932.50 554.74 L933.00 575.69 L933.50 597.39 L934.00 620.10 L934.50 641.96 L935.00 640.53 L935.50 639.58 L936.00 636.29 L936.50 634.57 L937.00 634.73 L937.50 632.86 L938.00 629.85 L938.50 628.06 L939.00 627.72 L939.50 626.56 L940.00 623.12 L940.50 623.28 L941.00 621.47 L941 642 L883 642 Z" fill="url(#gr6)"/><path d="M883.00 587.89 L883.50 587.99 L884.00 588.72 L884.50 587.47 L885.00 587.42 L885.50 587.46 L886.00 586.34 L886.50 586.98 L887.00 587.11 L887.50 587.35 L888.00 585.53 L888.50 585.88 L889.00 585.22 L889.50 586.79 L890.00 586.36 L890.50 584.65 L891.00 586.76 L891.50 586.57 L892.00 585.67 L892.50 585.43 L893.00 584.18 L893.50 583.69 L894.00 584.77 L894.50 583.49 L895.00 583.66 L895.50 583.63 L896.00 582.97 L896.50 583.86 L897.00 583.66 L897.50 584.47 L898.00 583.55 L898.50 583.69 L899.00 583.00 L899.50 581.14 L900.00 578.40 L900.50 575.72 L901.00 575.19 L901.50 572.94 L902.00 570.32 L902.50 567.75 L903.00 564.56 L903.50 562.10 L904.00 559.99 L904.50 557.22 L905.00 556.64 L905.50 553.51 L906.00 552.33 L906.50 548.98 L907.00 548.10 L907.50 545.58 L908.00 540.80 L908.50 541.11 L909.00 542.60 L909.50 541.36 L910.00 542.39 L910.50 540.80 L911.00 539.84 L911.50 540.98 L912.00 541.15 L912.50 539.74 L913.00 539.11 L913.50 539.51 L914.00 540.83 L914.50 540.15 L915.00 538.42 L915.50 538.54 L916.00 538.00 L916.50 537.71 L917.00 539.29 L917.50 537.62 L918.00 538.34 L918.50 537.88 L919.00 537.08 L919.50 538.19 L920.00 536.55 L920.50 537.59 L921.00 536.14 L921.50 536.68 L922.00 535.99 L922.50 535.94 L923.00 537.43 L923.50 536.84 L924.00 535.45 L924.50 536.65 L925.00 534.85 L925.50 535.10 L926.00 536.01 L926.50 535.31 L927.00 533.82 L927.50 535.76 L928.00 533.71 L928.50 533.63 L929.00 534.67 L929.50 533.42 L930.00 533.15 L930.50 532.43 L931.00 532.28 L931.50 533.27 L932.00 532.38 L932.50 554.74 L933.00 575.69 L933.50 597.39 L934.00 620.10 L934.50 641.96 L935.00 640.53 L935.50 639.58 L936.00 636.29 L936.50 634.57 L937.00 634.73 L937.50 632.86 L938.00 629.85 L938.50 628.06 L939.00 627.72 L939.50 626.56 L940.00 623.12 L940.50 623.28 L941.00 621.47" fill="none" stroke="#2f78d0" stroke-width="1.3"/></svg>
<div class="t mono" style="left:883px;top:649.00px;">5/19/2…</div>
<div class="tile" style="left:956px;top:434px;width:405px;height:243px;"></div>
<div class="t ttl" style="left:965px;top:446.60px;">Silo 12.c-res</div>
<svg class="a" style="left:0;top:0" width="1430" height="935"><defs><clipPath id="cp"><rect x="997" y="500" width="355.5" height="147"/></clipPath></defs><g clip-path="url(#cp)"><rect x="997.50" y="501" width="11.00" height="145.39999999999998" fill="#fdf5f9" stroke="#e9a3c7" stroke-width="1.1"/><rect x="1010.50" y="501" width="18.00" height="145.39999999999998" fill="#fdf5f9" stroke="#e9a3c7" stroke-width="1.1"/><rect x="1030.50" y="501" width="18.00" height="145.39999999999998" fill="#fdf5f9" stroke="#e9a3c7" stroke-width="1.1"/><rect x="1050.50" y="501" width="18.00" height="145.39999999999998" fill="#fdf5f9" stroke="#e9a3c7" stroke-width="1.1"/><rect x="1070.50" y="501" width="18.00" height="145.39999999999998" fill="#fdf5f9" stroke="#e9a3c7" stroke-width="1.1"/><rect x="1090.50" y="501" width="18.00" height="145.39999999999998" fill="#fdf5f9" stroke="#e9a3c7" stroke-width="1.1"/><rect x="1110.50" y="501" width="18.00" height="145.39999999999998" fill="#fdf5f9" stroke="#e9a3c7" stroke-width="1.1"/><rect x="1130.50" y="501" width="18.00" height="145.39999999999998" fill="#fdf5f9" stroke="#e9a3c7" stroke-width="1.1"/><rect x="1150.50" y="501" width="18.00" height="145.39999999999998" fill="#fdf5f9" stroke="#e9a3c7" stroke-width="1.1"/><rect x="1170.50" y="501" width="18.00" height="145.39999999999998" fill="#fdf5f9" stroke="#e9a3c7" stroke-width="1.1"/><rect x="1190.50" y="501" width="18.00" height="145.39999999999998" fill="#fdf5f9" stroke="#e9a3c7" stroke-width="1.1"/><rect x="1210.50" y="501" width="18.00" height="145.39999999999998" fill="#fdf5f9" stroke="#e9a3c7" stroke-width="1.1"/><rect x="1230.50" y="501" width="18.00" height="145.39999999999998" fill="#fdf5f9" stroke="#e9a3c7" stroke-width="1.1"/><rect x="1250.50" y="501" width="18.00" height="145.39999999999998" fill="#fdf5f9" stroke="#e9a3c7" stroke-width="1.1"/><rect x="1270.50" y="501" width="18.00" height="145.39999999999998" fill="#fdf5f9" stroke="#e9a3c7" stroke-width="1.1"/><rect x="1290.50" y="501" width="18.00" height="145.39999999999998" fill="#fdf5f9" stroke="#e9a3c7" stroke-width="1.1"/><rect x="1310.50" y="501" width="18.00" height="145.39999999999998" fill="#fdf5f9" stroke="#e9a3c7" stroke-width="1.1"/><rect x="1330.50" y="501" width="18.00" height="145.39999999999998" fill="#fdf5f9" stroke="#e9a3c7" stroke-width="1.1"/><rect x="1350.50" y="501" width="1.50" height="145.39999999999998" fill="#fdf5f9" stroke="#e9a3c7" stroke-width="1.1"/><path d="M997.00 589.13 L997.33 581.56 L997.67 573.40 L998.00 565.20 L998.33 559.71 L998.67 552.55 L999.00 544.91 L999.33 535.95 L999.67 530.68 L1000.00 521.50 L1000.33 518.95 L1000.67 519.75 L1001.00 517.56 L1001.33 517.67 L1001.67 524.14 L1002.00 528.59 L1002.33 537.87 L1002.67 544.45 L1003.00 547.83 L1003.33 555.91 L1003.67 562.93 L1004.00 568.85 L1004.33 575.09 L1004.67 579.53 L1005.00 588.29 L1005.33 594.61 L1005.67 599.77 L1006.00 606.24 L1006.33 611.28 L1006.67 618.00 L1007.00 625.91 L1007.33 632.75 L1007.67 637.06 L1008.00 644.50 L1008.33 646.40 L1008.67 646.40 L1009.00 646.40 L1009.33 646.40 L1009.67 646.40 L1010.00 646.40 L1010.33 640.23 L1010.67 636.78 L1011.00 627.94 L1011.33 620.96 L1011.67 615.11 L1012.00 609.96 L1012.33 601.53 L1012.67 595.19 L1013.00 592.30 L1013.33 590.72 L1013.67 591.95 L1014.00 592.39 L1014.33 591.30 L1014.67 591.17 L1015.00 590.83 L1015.33 589.89 L1015.67 589.14 L1016.00 588.60 L1016.33 588.42 L1016.67 588.23 L1017.00 586.62 L1017.33 580.93 L1017.67 574.10 L1018.00 565.40 L1018.33 558.40 L1018.67 550.73 L1019.00 545.36 L1019.33 537.78 L1019.67 528.17 L1020.00 521.95 L1020.33 518.84 L1020.67 519.89 L1021.00 518.00 L1021.33 516.17 L1021.67 523.37 L1022.00 528.61 L1022.33 537.53 L1022.67 543.05 L1023.00 548.28 L1023.33 555.78 L1023.67 561.01 L1024.00 568.10 L1024.33 575.89 L1024.67 582.30 L1025.00 585.78 L1025.33 594.93 L1025.67 601.04 L1026.00 606.93 L1026.33 612.06 L1026.67 617.95 L1027.00 625.52 L1027.33 631.80 L1027.67 637.21 L1028.00 644.50 L1028.33 646.40 L1028.67 646.40 L1029.00 646.40 L1029.33 646.40 L1029.67 646.40 L1030.00 646.40 L1030.33 642.53 L1030.67 635.67 L1031.00 628.34 L1031.33 621.71 L1031.67 617.09 L1032.00 610.30 L1032.33 603.66 L1032.67 595.21 L1033.00 590.68 L1033.33 589.64 L1033.67 590.17 L1034.00 591.70 L1034.33 589.91 L1034.67 589.06 L1035.00 590.99 L1035.33 591.95 L1035.67 590.63 L1036.00 590.80 L1036.33 591.01 L1036.67 591.30 L1037.00 588.77 L1037.33 579.12 L1037.67 574.51 L1038.00 565.43 L1038.33 559.49 L1038.67 552.28 L1039.00 543.00 L1039.33 537.44 L1039.67 530.56 L1040.00 522.43 L1040.33 518.85 L1040.67 518.50 L1041.00 516.51 L1041.33 517.82 L1041.67 523.77 L1042.00 529.50 L1042.33 536.68 L1042.67 542.20 L1043.00 549.36 L1043.33 556.79 L1043.67 563.17 L1044.00 567.38 L1044.33 573.86 L1044.67 579.57 L1045.00 586.73 L1045.33 593.44 L1045.67 601.13 L1046.00 605.25 L1046.33 613.98 L1046.67 619.34 L1047.00 626.61 L1047.33 632.18 L1047.67 638.77 L1048.00 644.50 L1048.33 646.40 L1048.67 646.40 L1049.00 646.40 L1049.33 646.40 L1049.67 646.40 L1050.00 646.40 L1050.33 642.05 L1050.67 634.58 L1051.00 628.57 L1051.33 622.98 L1051.67 614.69 L1052.00 608.28 L1052.33 601.43 L1052.67 597.45 L1053.00 590.94 L1053.33 589.89 L1053.67 591.82 L1054.00 591.87 L1054.33 589.75 L1054.67 591.07 L1055.00 590.82 L1055.33 589.34 L1055.67 590.60 L1056.00 591.07 L1056.33 590.88 L1056.67 590.32 L1057.00 586.91 L1057.33 580.73 L1057.67 572.17 L1058.00 567.20 L1058.33 559.36 L1058.67 550.89 L1059.00 544.11 L1059.33 536.79 L1059.67 528.12 L1060.00 523.00 L1060.33 520.51 L1060.67 520.09 L1061.00 517.73 L1061.33 518.16 L1061.67 523.94 L1062.00 531.80 L1062.33 538.17 L1062.67 543.29 L1063.00 548.42 L1063.33 556.25 L1063.67 560.61 L1064.00 568.04 L1064.33 574.96 L1064.67 580.10 L1065.00 588.21 L1065.33 593.36 L1065.67 598.93 L1066.00 606.26 L1066.33 613.33 L1066.67 620.40 L1067.00 625.21 L1067.33 632.81 L1067.67 638.56 L1068.00 644.50 L1068.33 646.40 L1068.67 646.40 L1069.00 646.40 L1069.33 646.40 L1069.67 646.40 L1070.00 646.40 L1070.33 641.67 L1070.67 633.83 L1071.00 628.14 L1071.33 622.09 L1071.67 614.44 L1072.00 609.66 L1072.33 602.85 L1072.67 595.36 L1073.00 591.13 L1073.33 592.07 L1073.67 591.33 L1074.00 589.86 L1074.33 591.60 L1074.67 589.97 L1075.00 591.96 L1075.33 588.89 L1075.67 589.63 L1076.00 590.66 L1076.33 588.39 L1076.67 588.86 L1077.00 588.97 L1077.33 581.12 L1077.67 573.08 L1078.00 564.18 L1078.33 559.71 L1078.67 552.76 L1079.00 544.65 L1079.33 538.26 L1079.67 529.83 L1080.00 522.16 L1080.33 519.67 L1080.67 519.74 L1081.00 519.22 L1081.33 516.52 L1081.67 524.05 L1082.00 530.27 L1082.33 536.62 L1082.67 542.30 L1083.00 547.95 L1083.33 554.54 L1083.67 561.21 L1084.00 568.82 L1084.33 575.72 L1084.67 582.33 L1085.00 586.19 L1085.33 595.13 L1085.67 599.82 L1086.00 605.07 L1086.33 613.32 L1086.67 619.46 L1087.00 625.71 L1087.33 630.36 L1087.67 637.55 L1088.00 644.50 L1088.33 646.40 L1088.67 646.40 L1089.00 646.40 L1089.33 646.40 L1089.67 646.40 L1090.00 646.40 L1090.33 640.72 L1090.67 636.75 L1091.00 627.96 L1091.33 622.31 L1091.67 615.92 L1092.00 608.02 L1092.33 601.73 L1092.67 594.61 L1093.00 590.54 L1093.33 589.85 L1093.67 591.27 L1094.00 590.72 L1094.33 589.85 L1094.67 590.78 L1095.00 591.67 L1095.33 590.09 L1095.67 589.03 L1096.00 588.89 L1096.33 591.17 L1096.67 590.21 L1097.00 588.43 L1097.33 580.82 L1097.67 571.56 L1098.00 566.05 L1098.33 559.15 L1098.67 552.03 L1099.00 544.23 L1099.33 536.24 L1099.67 530.04 L1100.00 523.30 L1100.33 520.36 L1100.67 519.35 L1101.00 516.36 L1101.33 518.57 L1101.67 523.03 L1102.00 531.47 L1102.33 535.63 L1102.67 543.66 L1103.00 548.35 L1103.33 555.82 L1103.67 563.32 L1104.00 569.61 L1104.33 573.68 L1104.67 580.86 L1105.00 587.39 L1105.33 594.18 L1105.67 599.43 L1106.00 606.45 L1106.33 614.17 L1106.67 618.77 L1107.00 626.05 L1107.33 630.67 L1107.67 637.99 L1108.00 644.50 L1108.33 646.40 L1108.67 646.40 L1109.00 646.40 L1109.33 646.40 L1109.67 646.40 L1110.00 646.40 L1110.33 640.93 L1110.67 636.49 L1111.00 628.03 L1111.33 621.79 L1111.67 614.46 L1112.00 607.80 L1112.33 602.32 L1112.67 595.64 L1113.00 590.44 L1113.33 591.94 L1113.67 590.89 L1114.00 589.97 L1114.33 590.46 L1114.67 590.50 L1115.00 589.35 L1115.33 588.82 L1115.67 591.01 L1116.00 591.47 L1116.33 589.59 L1116.67 590.96 L1117.00 586.03 L1117.33 580.38 L1117.67 572.94 L1118.00 564.77 L1118.33 557.35 L1118.67 552.45 L1119.00 544.19 L1119.33 537.82 L1119.67 529.66 L1120.00 523.47 L1120.33 518.26 L1120.67 519.04 L1121.00 518.04 L1121.33 516.22 L1121.67 522.81 L1122.00 530.73 L1122.33 536.55 L1122.67 542.37 L1123.00 550.26 L1123.33 556.78 L1123.67 560.79 L1124.00 569.39 L1124.33 573.98 L1124.67 580.23 L1125.00 587.05 L1125.33 594.20 L1125.67 598.89 L1126.00 605.47 L1126.33 614.14 L1126.67 617.81 L1127.00 625.00 L1127.33 632.48 L1127.67 639.22 L1128.00 644.50 L1128.33 646.40 L1128.67 646.40 L1129.00 646.40 L1129.33 646.40 L1129.67 646.40 L1130.00 646.40 L1130.33 643.11 L1130.67 634.25 L1131.00 627.58 L1131.33 622.64 L1131.67 616.63 L1132.00 610.43 L1132.33 602.77 L1132.67 596.59 L1133.00 592.76 L1133.33 591.83 L1133.67 590.00 L1134.00 592.31 L1134.33 591.08 L1134.67 590.59 L1135.00 591.59 L1135.33 591.86 L1135.67 591.61 L1136.00 591.25 L1136.33 588.42 L1136.67 588.65 L1137.00 586.89 L1137.33 579.01 L1137.67 573.61 L1138.00 566.61 L1138.33 557.35 L1138.67 550.95 L1139.00 542.67 L1139.33 537.24 L1139.67 529.82 L1140.00 521.58 L1140.33 518.24 L1140.67 519.66 L1141.00 518.44 L1141.33 519.08 L1141.67 523.66 L1142.00 528.83 L1142.33 536.33 L1142.67 544.04 L1143.00 548.63 L1143.33 555.12 L1143.67 563.23 L1144.00 566.96 L1144.33 574.13 L1144.67 581.03 L1145.00 587.85 L1145.33 594.80 L1145.67 600.15 L1146.00 606.83 L1146.33 613.61 L1146.67 618.62 L1147.00 624.92 L1147.33 630.32 L1147.67 636.63 L1148.00 644.50 L1148.33 646.40 L1148.67 646.40 L1149.00 646.40 L1149.33 646.40 L1149.67 646.40 L1150.00 646.40 L1150.33 641.92 L1150.67 634.56 L1151.00 629.11 L1151.33 622.37 L1151.67 615.38 L1152.00 607.49 L1152.33 603.97 L1152.67 596.06 L1153.00 591.84 L1153.33 590.19 L1153.67 589.58 L1154.00 590.99 L1154.33 592.13 L1154.67 590.33 L1155.00 590.22 L1155.33 589.78 L1155.67 589.33 L1156.00 590.21 L1156.33 589.80 L1156.67 588.96 L1157.00 589.08 L1157.33 581.14 L1157.67 572.44 L1158.00 564.25 L1158.33 557.11 L1158.67 552.00 L1159.00 542.51 L1159.33 537.50 L1159.67 529.69 L1160.00 523.39 L1160.33 519.14 L1160.67 518.93 L1161.00 517.08 L1161.33 516.02 L1161.67 525.06 L1162.00 529.69 L1162.33 536.22 L1162.67 543.63 L1163.00 550.76 L1163.33 554.18 L1163.67 561.32 L1164.00 567.89 L1164.33 575.94 L1164.67 579.70 L1165.00 587.68 L1165.33 593.81 L1165.67 599.87 L1166.00 606.57 L1166.33 611.28 L1166.67 619.20 L1167.00 624.87 L1167.33 630.91 L1167.67 636.74 L1168.00 644.50 L1168.33 646.40 L1168.67 646.40 L1169.00 646.40 L1169.33 646.40 L1169.67 646.40 L1170.00 646.40 L1170.33 642.88 L1170.67 635.78 L1171.00 627.25 L1171.33 621.81 L1171.67 616.01 L1172.00 607.81 L1172.33 603.72 L1172.67 596.74 L1173.00 592.70 L1173.33 590.62 L1173.67 591.08 L1174.00 591.54 L1174.33 590.96 L1174.67 591.43 L1175.00 589.82 L1175.33 589.52 L1175.67 590.61 L1176.00 588.90 L1176.33 591.43 L1176.67 589.61 L1177.00 588.68 L1177.33 581.54 L1177.67 572.86 L1178.00 567.13 L1178.33 559.92 L1178.67 552.48 L1179.00 544.44 L1179.33 535.72 L1179.67 530.22 L1180.00 523.50 L1180.33 518.61 L1180.67 517.55 L1181.00 516.07 L1181.33 518.96 L1181.67 524.94 L1182.00 530.42 L1182.33 534.96 L1182.67 542.77 L1183.00 548.01 L1183.33 556.49 L1183.67 562.05 L1184.00 567.69 L1184.33 575.53 L1184.67 580.93 L1185.00 586.30 L1185.33 592.68 L1185.67 599.41 L1186.00 605.33 L1186.33 611.14 L1186.67 618.76 L1187.00 626.26 L1187.33 632.70 L1187.67 639.58 L1188.00 644.50 L1188.33 646.40 L1188.67 646.40 L1189.00 646.40 L1189.33 646.40 L1189.67 646.40 L1190.00 646.40 L1190.33 640.46 L1190.67 635.03 L1191.00 628.37 L1191.33 620.94 L1191.67 614.98 L1192.00 609.39 L1192.33 602.21 L1192.67 597.29 L1193.00 592.11 L1193.33 591.68 L1193.67 590.08 L1194.00 590.38 L1194.33 590.43 L1194.67 590.97 L1195.00 590.98 L1195.33 590.74 L1195.67 591.69 L1196.00 590.55 L1196.33 588.63 L1196.67 588.80 L1197.00 588.37 L1197.33 580.31 L1197.67 572.26 L1198.00 566.77 L1198.33 559.01 L1198.67 551.01 L1199.00 545.05 L1199.33 535.46 L1199.67 531.09 L1200.00 521.05 L1200.33 518.93 L1200.67 518.91 L1201.00 518.36 L1201.33 516.31 L1201.67 523.17 L1202.00 531.14 L1202.33 537.14 L1202.67 544.22 L1203.00 548.83 L1203.33 555.85 L1203.67 562.54 L1204.00 567.64 L1204.33 575.45 L1204.67 582.16 L1205.00 586.39 L1205.33 592.45 L1205.67 599.05 L1206.00 606.21 L1206.33 612.04 L1206.67 617.92 L1207.00 626.94 L1207.33 632.45 L1207.67 638.61 L1208.00 644.50 L1208.33 646.40 L1208.67 646.40 L1209.00 646.40 L1209.33 646.40 L1209.67 646.40 L1210.00 646.40 L1210.33 641.06 L1210.67 635.79 L1211.00 627.85 L1211.33 622.94 L1211.67 614.15 L1212.00 609.25 L1212.33 602.20 L1212.67 595.52 L1213.00 590.27 L1213.33 590.97 L1213.67 591.97 L1214.00 591.10 L1214.33 590.57 L1214.67 592.02 L1215.00 589.43 L1215.33 590.99 L1215.67 588.87 L1216.00 590.51 L1216.33 588.50 L1216.67 589.11 L1217.00 587.90 L1217.33 579.65 L1217.67 574.67 L1218.00 567.14 L1218.33 558.27 L1218.67 551.91 L1219.00 544.34 L1219.33 536.12 L1219.67 529.62 L1220.00 521.92 L1220.33 518.69 L1220.67 517.49 L1221.00 518.95 L1221.33 516.44 L1221.67 523.06 L1222.00 531.09 L1222.33 537.90 L1222.67 543.89 L1223.00 550.58 L1223.33 555.37 L1223.67 560.35 L1224.00 568.35 L1224.33 575.37 L1224.67 582.07 L1225.00 585.82 L1225.33 593.55 L1225.67 600.90 L1226.00 605.07 L1226.33 613.01 L1226.67 617.53 L1227.00 625.41 L1227.33 632.59 L1227.67 639.16 L1228.00 644.50 L1228.33 646.40 L1228.67 646.40 L1229.00 646.40 L1229.33 646.40 L1229.67 646.40 L1230.00 646.40 L1230.33 643.38 L1230.67 634.24 L1231.00 629.26 L1231.33 621.41 L1231.67 614.49 L1232.00 609.36 L1232.33 602.46 L1232.67 595.22 L1233.00 590.85 L1233.33 591.62 L1233.67 592.02 L1234.00 591.60 L1234.33 592.32 L1234.67 590.20 L1235.00 590.04 L1235.33 589.48 L1235.67 590.42 L1236.00 589.34 L1236.33 589.77 L1236.67 588.68 L1237.00 587.39 L1237.33 579.74 L1237.67 572.73 L1238.00 566.76 L1238.33 559.91 L1238.67 550.26 L1239.00 543.42 L1239.33 536.75 L1239.67 528.19 L1240.00 523.31 L1240.33 518.72 L1240.67 518.57 L1241.00 518.96 L1241.33 518.70 L1241.67 525.39 L1242.00 531.21 L1242.33 535.65 L1242.67 542.97 L1243.00 550.72 L1243.33 555.62 L1243.67 560.42 L1244.00 567.37 L1244.33 575.29 L1244.67 581.05 L1245.00 587.78 L1245.33 594.57 L1245.67 599.54 L1246.00 607.94 L1246.33 612.83 L1246.67 617.71 L1247.00 624.62 L1247.33 631.29 L1247.67 637.07 L1248.00 644.50 L1248.33 646.40 L1248.67 646.40 L1249.00 646.40 L1249.33 646.40 L1249.67 646.40 L1250.00 646.40 L1250.33 640.35 L1250.67 636.00 L1251.00 627.26 L1251.33 620.88 L1251.67 615.62 L1252.00 610.22 L1252.33 602.38 L1252.67 595.95 L1253.00 589.70 L1253.33 592.00 L1253.67 590.33 L1254.00 590.06 L1254.33 590.44 L1254.67 591.33 L1255.00 589.18 L1255.33 591.16 L1255.67 589.07 L1256.00 588.84 L1256.33 589.86 L1256.67 591.27 L1257.00 588.29 L1257.33 581.71 L1257.67 574.07 L1258.00 566.26 L1258.33 558.30 L1258.67 550.31 L1259.00 545.51 L1259.33 536.00 L1259.67 530.80 L1260.00 521.59 L1260.33 521.06 L1260.67 519.04 L1261.00 516.29 L1261.33 516.29 L1261.67 525.30 L1262.00 530.56 L1262.33 535.21 L1262.67 543.95 L1263.00 549.39 L1263.33 556.37 L1263.67 562.61 L1264.00 568.33 L1264.33 575.82 L1264.67 582.12 L1265.00 585.81 L1265.33 592.85 L1265.67 599.73 L1266.00 607.58 L1266.33 613.94 L1266.67 618.70 L1267.00 625.07 L1267.33 633.38 L1267.67 636.64 L1268.00 644.50 L1268.33 646.40 L1268.67 646.40 L1269.00 646.40 L1269.33 646.40 L1269.67 646.40 L1270.00 646.40 L1270.33 642.22 L1270.67 636.01 L1271.00 628.27 L1271.33 620.81 L1271.67 616.08 L1272.00 609.01 L1272.33 603.95 L1272.67 596.04 L1273.00 590.02 L1273.33 589.75 L1273.67 591.52 L1274.00 589.74 L1274.33 589.17 L1274.67 591.27 L1275.00 589.35 L1275.33 591.07 L1275.67 588.72 L1276.00 588.80 L1276.33 588.43 L1276.67 590.12 L1277.00 586.95 L1277.33 579.64 L1277.67 572.78 L1278.00 567.25 L1278.33 558.01 L1278.67 550.31 L1279.00 543.58 L1279.33 535.48 L1279.67 528.03 L1280.00 521.83 L1280.33 519.94 L1280.67 518.55 L1281.00 518.71 L1281.33 518.40 L1281.67 522.30 L1282.00 530.39 L1282.33 536.66 L1282.67 541.65 L1283.00 548.29 L1283.33 557.08 L1283.67 562.23 L1284.00 568.20 L1284.33 575.50 L1284.67 580.14 L1285.00 586.96 L1285.33 592.57 L1285.67 601.23 L1286.00 607.41 L1286.33 613.38 L1286.67 619.04 L1287.00 626.24 L1287.33 631.75 L1287.67 638.64 L1288.00 644.50 L1288.33 646.40 L1288.67 646.40 L1289.00 646.40 L1289.33 646.40 L1289.67 646.40 L1290.00 646.40 L1290.33 643.23 L1290.67 634.20 L1291.00 628.57 L1291.33 620.85 L1291.67 615.53 L1292.00 607.88 L1292.33 602.14 L1292.67 595.95 L1293.00 589.89 L1293.33 591.62 L1293.67 589.49 L1294.00 590.62 L1294.33 589.31 L1294.67 591.95 L1295.00 590.37 L1295.33 590.96 L1295.67 589.20 L1296.00 588.76 L1296.33 588.79 L1296.67 590.19 L1297.00 588.94 L1297.33 578.77 L1297.67 574.00 L1298.00 564.74 L1298.33 558.25 L1298.67 550.54 L1299.00 543.37 L1299.33 537.64 L1299.67 529.90 L1300.00 522.66 L1300.33 518.82 L1300.67 517.99 L1301.00 516.09 L1301.33 517.38 L1301.67 524.34 L1302.00 531.43 L1302.33 536.74 L1302.67 542.59 L1303.00 548.64 L1303.33 557.13 L1303.67 562.93 L1304.00 567.86 L1304.33 573.73 L1304.67 579.57 L1305.00 588.52 L1305.33 592.96 L1305.67 600.21 L1306.00 606.10 L1306.33 612.15 L1306.67 619.40 L1307.00 625.10 L1307.33 630.29 L1307.67 639.69 L1308.00 644.50 L1308.33 646.40 L1308.67 646.40 L1309.00 646.40 L1309.33 646.40 L1309.67 646.40 L1310.00 646.40 L1310.33 641.65 L1310.67 633.64 L1311.00 627.49 L1311.33 622.96 L1311.67 614.68 L1312.00 607.70 L1312.33 602.78 L1312.67 595.77 L1313.00 591.97 L1313.33 589.56 L1313.67 592.06 L1314.00 590.25 L1314.33 589.18 L1314.67 589.10 L1315.00 589.36 L1315.33 590.58 L1315.67 588.81 L1316.00 588.94 L1316.33 590.22 L1316.67 590.23 L1317.00 588.11 L1317.33 580.87 L1317.67 572.82 L1318.00 566.07 L1318.33 557.06 L1318.67 552.91 L1319.00 543.70 L1319.33 537.01 L1319.67 527.92 L1320.00 520.68 L1320.33 518.78 L1320.67 517.83 L1321.00 518.07 L1321.33 516.86 L1321.67 524.68 L1322.00 529.18 L1322.33 536.31 L1322.67 543.77 L1323.00 550.19 L1323.33 555.96 L1323.67 562.45 L1324.00 567.77 L1324.33 574.77 L1324.67 582.51 L1325.00 587.91 L1325.33 593.85 L1325.67 598.46 L1326.00 605.02 L1326.33 612.37 L1326.67 617.59 L1327.00 626.58 L1327.33 632.75 L1327.67 639.28 L1328.00 644.50 L1328.33 646.40 L1328.67 646.40 L1329.00 646.40 L1329.33 646.40 L1329.67 646.40 L1330.00 646.40 L1330.33 642.60 L1330.67 635.97 L1331.00 628.58 L1331.33 620.90 L1331.67 616.07 L1332.00 609.62 L1332.33 602.58 L1332.67 594.48 L1333.00 591.29 L1333.33 589.61 L1333.67 591.66 L1334.00 590.73 L1334.33 590.35 L1334.67 589.92 L1335.00 589.41 L1335.33 591.60 L1335.67 591.18 L1336.00 591.37 L1336.33 589.07 L1336.67 589.84 L1337.00 587.57 L1337.33 581.80 L1337.67 572.08 L1338.00 564.27 L1338.33 560.12 L1338.67 549.71 L1339.00 544.09 L1339.33 538.02 L1339.67 531.06 L1340.00 521.63 L1340.33 518.50 L1340.67 518.87 L1341.00 516.48 L1341.33 519.11 L1341.67 522.66 L1342.00 531.31 L1342.33 537.57 L1342.67 543.43 L1343.00 549.80 L1343.33 554.31 L1343.67 561.94 L1344.00 568.53 L1344.33 573.64 L1344.67 581.22 L1345.00 587.96 L1345.33 594.20 L1345.67 599.78 L1346.00 605.07 L1346.33 611.37 L1346.67 620.64 L1347.00 625.88 L1347.33 631.16 L1347.67 638.16 L1348.00 644.50 L1348.33 646.40 L1348.67 646.40 L1349.00 646.40 L1349.33 646.40 L1349.67 646.40 L1350.00 646.40 L1350.33 641.05 L1350.67 633.84 L1351.00 630.18 L1351.33 621.52 L1351.67 616.44 L1352.00 608.55 L1352 646.4 L997 646.4 Z" fill="#dfe1dd"/><path d="M997.00 526.84 L997.33 520.53 L997.67 513.57 L998.00 509.37 L998.33 510.32 L998.67 512.90 L999.00 511.91 L999.33 518.30 L999.67 525.01 L1000.00 532.01 L1000.33 536.98 L1000.67 544.46 L1001.00 550.40 L1001.33 555.63 L1001.67 561.42 L1002.00 567.82 L1002.33 576.30 L1002.67 582.70 L1003.00 588.39 L1003.33 593.76 L1003.67 599.15 L1004.00 605.60 L1004.33 611.49 L1004.67 618.93 L1005.00 625.09 L1005.33 632.53 L1005.67 638.78 L1006.00 644.50 L1006.33 646.40 L1006.67 646.40 L1007.00 646.40 L1007.33 646.40 L1007.67 646.40 L1008.00 646.40 L1008.33 646.40 L1008.67 646.40 L1009.00 646.40 L1009.33 646.40 L1009.67 646.40 L1010.00 646.40 L1010.33 646.40 L1010.67 643.34 L1011.00 638.16 L1011.33 630.97 L1011.67 624.61 L1012.00 618.59 L1012.33 613.05 L1012.67 606.82 L1013.00 601.27 L1013.33 593.30 L1013.67 587.94 L1014.00 581.27 L1014.33 574.94 L1014.67 570.53 L1015.00 564.93 L1015.33 558.27 L1015.67 550.12 L1016.00 544.37 L1016.33 539.49 L1016.67 532.16 L1017.00 527.44 L1017.33 519.62 L1017.67 516.01 L1018.00 509.88 L1018.33 510.00 L1018.67 512.72 L1019.00 513.48 L1019.33 519.25 L1019.67 525.11 L1020.00 531.56 L1020.33 537.68 L1020.67 544.74 L1021.00 550.32 L1021.33 557.27 L1021.67 562.23 L1022.00 568.94 L1022.33 575.84 L1022.67 579.84 L1023.00 588.22 L1023.33 593.82 L1023.67 598.97 L1024.00 605.73 L1024.33 611.38 L1024.67 618.86 L1025.00 624.34 L1025.33 633.27 L1025.67 637.42 L1026.00 644.50 L1026.33 646.40 L1026.67 646.40 L1027.00 646.40 L1027.33 646.40 L1027.67 646.40 L1028.00 646.40 L1028.33 646.40 L1028.67 646.40 L1029.00 646.40 L1029.33 646.40 L1029.67 646.40 L1030.00 646.40 L1030.33 646.40 L1030.67 643.34 L1031.00 637.74 L1031.33 631.66 L1031.67 624.08 L1032.00 618.05 L1032.33 613.22 L1032.67 607.02 L1033.00 601.17 L1033.33 592.92 L1033.67 587.83 L1034.00 582.85 L1034.33 575.84 L1034.67 571.25 L1035.00 564.44 L1035.33 557.56 L1035.67 549.91 L1036.00 544.15 L1036.33 539.03 L1036.67 532.21 L1037.00 527.74 L1037.33 520.18 L1037.67 513.07 L1038.00 511.78 L1038.33 510.16 L1038.67 510.89 L1039.00 513.79 L1039.33 517.04 L1039.67 522.80 L1040.00 531.84 L1040.33 537.14 L1040.67 543.04 L1041.00 548.72 L1041.33 556.75 L1041.67 561.50 L1042.00 567.97 L1042.33 573.80 L1042.67 580.52 L1043.00 586.43 L1043.33 593.59 L1043.67 600.11 L1044.00 606.69 L1044.33 613.19 L1044.67 619.33 L1045.00 625.56 L1045.33 632.21 L1045.67 639.33 L1046.00 644.50 L1046.33 646.40 L1046.67 646.40 L1047.00 646.40 L1047.33 646.40 L1047.67 646.40 L1048.00 646.40 L1048.33 646.40 L1048.67 646.40 L1049.00 646.40 L1049.33 646.40 L1049.67 646.40 L1050.00 646.40 L1050.33 646.40 L1050.67 643.34 L1051.00 637.54 L1051.33 629.64 L1051.67 625.59 L1052.00 617.27 L1052.33 611.63 L1052.67 606.73 L1053.00 601.36 L1053.33 593.10 L1053.67 586.72 L1054.00 582.68 L1054.33 575.40 L1054.67 569.00 L1055.00 563.30 L1055.33 558.79 L1055.67 552.29 L1056.00 544.59 L1056.33 538.75 L1056.67 532.50 L1057.00 527.64 L1057.33 519.58 L1057.67 513.78 L1058.00 510.71 L1058.33 510.41 L1058.67 513.10 L1059.00 513.25 L1059.33 517.99 L1059.67 522.86 L1060.00 529.28 L1060.33 537.54 L1060.67 542.44 L1061.00 550.32 L1061.33 554.75 L1061.67 561.04 L1062.00 568.05 L1062.33 576.46 L1062.67 581.91 L1063.00 588.67 L1063.33 593.91 L1063.67 601.75 L1064.00 607.98 L1064.33 614.19 L1064.67 618.03 L1065.00 625.21 L1065.33 630.67 L1065.67 636.75 L1066.00 644.50 L1066.33 646.40 L1066.67 646.40 L1067.00 646.40 L1067.33 646.40 L1067.67 646.40 L1068.00 646.40 L1068.33 646.40 L1068.67 646.40 L1069.00 646.40 L1069.33 646.40 L1069.67 646.40 L1070.00 646.40 L1070.33 646.40 L1070.67 643.34 L1071.00 636.99 L1071.33 629.96 L1071.67 625.17 L1072.00 618.48 L1072.33 613.78 L1072.67 606.75 L1073.00 601.76 L1073.33 594.45 L1073.67 586.70 L1074.00 580.48 L1074.33 575.14 L1074.67 571.29 L1075.00 562.11 L1075.33 557.46 L1075.67 550.87 L1076.00 545.61 L1076.33 538.30 L1076.67 533.66 L1077.00 528.20 L1077.33 520.94 L1077.67 515.69 L1078.00 511.55 L1078.33 512.54 L1078.67 511.81 L1079.00 512.77 L1079.33 518.96 L1079.67 523.77 L1080.00 532.23 L1080.33 535.58 L1080.67 544.21 L1081.00 549.63 L1081.33 556.41 L1081.67 561.16 L1082.00 568.83 L1082.33 576.03 L1082.67 580.11 L1083.00 587.34 L1083.33 594.68 L1083.67 599.56 L1084.00 605.29 L1084.33 612.10 L1084.67 618.26 L1085.00 626.01 L1085.33 632.72 L1085.67 639.62 L1086.00 644.50 L1086.33 646.40 L1086.67 646.40 L1087.00 646.40 L1087.33 646.40 L1087.67 646.40 L1088.00 646.40 L1088.33 646.40 L1088.67 646.40 L1089.00 646.40 L1089.33 646.40 L1089.67 646.40 L1090.00 646.40 L1090.33 646.40 L1090.67 643.34 L1091.00 635.93 L1091.33 631.95 L1091.67 625.38 L1092.00 617.85 L1092.33 613.96 L1092.67 605.19 L1093.00 600.25 L1093.33 595.39 L1093.67 587.19 L1094.00 581.52 L1094.33 577.36 L1094.67 569.86 L1095.00 563.01 L1095.33 558.30 L1095.67 551.97 L1096.00 544.16 L1096.33 540.35 L1096.67 533.86 L1097.00 528.15 L1097.33 520.85 L1097.67 514.86 L1098.00 511.39 L1098.33 512.88 L1098.67 513.68 L1099.00 512.53 L1099.33 517.79 L1099.67 523.40 L1100.00 531.96 L1100.33 535.56 L1100.67 542.73 L1101.00 549.42 L1101.33 554.93 L1101.67 563.69 L1102.00 568.28 L1102.33 575.59 L1102.67 582.80 L1103.00 586.77 L1103.33 595.45 L1103.67 599.49 L1104.00 607.29 L1104.33 611.77 L1104.67 620.64 L1105.00 625.60 L1105.33 630.30 L1105.67 638.07 L1106.00 644.50 L1106.33 646.40 L1106.67 646.40 L1107.00 646.40 L1107.33 646.40 L1107.67 646.40 L1108.00 646.40 L1108.33 646.40 L1108.67 646.40 L1109.00 646.40 L1109.33 646.40 L1109.67 646.40 L1110.00 646.40 L1110.33 646.40 L1110.67 643.34 L1111.00 636.82 L1111.33 631.03 L1111.67 624.66 L1112.00 619.16 L1112.33 613.47 L1112.67 607.24 L1113.00 599.35 L1113.33 594.89 L1113.67 587.55 L1114.00 580.65 L1114.33 574.55 L1114.67 568.69 L1115.00 562.40 L1115.33 557.09 L1115.67 551.31 L1116.00 546.59 L1116.33 540.57 L1116.67 533.71 L1117.00 526.99 L1117.33 520.84 L1117.67 516.25 L1118.00 510.39 L1118.33 512.03 L1118.67 512.80 L1119.00 514.69 L1119.33 517.16 L1119.67 523.40 L1120.00 529.90 L1120.33 538.28 L1120.67 544.90 L1121.00 548.19 L1121.33 555.61 L1121.67 560.87 L1122.00 568.93 L1122.33 574.00 L1122.67 582.52 L1123.00 588.96 L1123.33 593.33 L1123.67 599.69 L1124.00 607.03 L1124.33 612.78 L1124.67 618.80 L1125.00 626.40 L1125.33 633.46 L1125.67 638.30 L1126.00 644.50 L1126.33 646.40 L1126.67 646.40 L1127.00 646.40 L1127.33 646.40 L1127.67 646.40 L1128.00 646.40 L1128.33 646.40 L1128.67 646.40 L1129.00 646.40 L1129.33 646.40 L1129.67 646.40 L1130.00 646.40 L1130.33 646.40 L1130.67 643.34 L1131.00 637.96 L1131.33 629.59 L1131.67 625.97 L1132.00 618.73 L1132.33 613.60 L1132.67 606.82 L1133.00 601.42 L1133.33 595.22 L1133.67 587.41 L1134.00 581.28 L1134.33 575.42 L1134.67 568.21 L1135.00 562.21 L1135.33 557.48 L1135.67 550.22 L1136.00 544.74 L1136.33 538.29 L1136.67 533.87 L1137.00 525.53 L1137.33 520.18 L1137.67 515.90 L1138.00 512.28 L1138.33 512.00 L1138.67 511.96 L1139.00 513.91 L1139.33 518.45 L1139.67 523.56 L1140.00 531.51 L1140.33 538.51 L1140.67 543.59 L1141.00 550.15 L1141.33 555.50 L1141.67 563.60 L1142.00 567.50 L1142.33 573.39 L1142.67 580.48 L1143.00 587.55 L1143.33 594.87 L1143.67 601.71 L1144.00 606.00 L1144.33 611.46 L1144.67 619.83 L1145.00 624.49 L1145.33 630.36 L1145.67 637.14 L1146.00 644.50 L1146.33 646.40 L1146.67 646.40 L1147.00 646.40 L1147.33 646.40 L1147.67 646.40 L1148.00 646.40 L1148.33 646.40 L1148.67 646.40 L1149.00 646.40 L1149.33 646.40 L1149.67 646.40 L1150.00 646.40 L1150.33 646.40 L1150.67 643.34 L1151.00 637.15 L1151.33 630.41 L1151.67 625.52 L1152.00 618.85 L1152.33 613.63 L1152.67 605.63 L1153.00 601.25 L1153.33 593.23 L1153.67 587.45 L1154.00 582.97 L1154.33 577.26 L1154.67 569.24 L1155.00 564.19 L1155.33 557.19 L1155.67 550.24 L1156.00 546.00 L1156.33 540.33 L1156.67 532.81 L1157.00 526.29 L1157.33 520.64 L1157.67 516.23 L1158.00 510.80 L1158.33 511.15 L1158.67 511.11 L1159.00 514.09 L1159.33 518.59 L1159.67 524.81 L1160.00 529.98 L1160.33 537.70 L1160.67 542.45 L1161.00 549.51 L1161.33 555.61 L1161.67 563.60 L1162.00 567.44 L1162.33 575.05 L1162.67 581.45 L1163.00 587.96 L1163.33 592.54 L1163.67 598.84 L1164.00 605.65 L1164.33 611.35 L1164.67 619.66 L1165.00 623.97 L1165.33 631.05 L1165.67 637.30 L1166.00 644.50 L1166.33 646.40 L1166.67 646.40 L1167.00 646.40 L1167.33 646.40 L1167.67 646.40 L1168.00 646.40 L1168.33 646.40 L1168.67 646.40 L1169.00 646.40 L1169.33 646.40 L1169.67 646.40 L1170.00 646.40 L1170.33 646.40 L1170.67 643.34 L1171.00 635.97 L1171.33 632.11 L1171.67 626.48 L1172.00 620.00 L1172.33 611.27 L1172.67 606.56 L1173.00 602.06 L1173.33 593.82 L1173.67 587.22 L1174.00 582.94 L1174.33 575.95 L1174.67 570.63 L1175.00 563.64 L1175.33 558.23 L1175.67 551.99 L1176.00 544.90 L1176.33 538.43 L1176.67 531.44 L1177.00 527.71 L1177.33 519.26 L1177.67 515.14 L1178.00 510.90 L1178.33 511.81 L1178.67 513.07 L1179.00 513.37 L1179.33 517.01 L1179.67 523.05 L1180.00 529.18 L1180.33 537.36 L1180.67 543.93 L1181.00 550.71 L1181.33 555.71 L1181.67 562.83 L1182.00 570.02 L1182.33 575.61 L1182.67 580.32 L1183.00 586.98 L1183.33 593.55 L1183.67 600.86 L1184.00 605.46 L1184.33 613.01 L1184.67 619.81 L1185.00 626.29 L1185.33 632.21 L1185.67 638.47 L1186.00 644.50 L1186.33 646.40 L1186.67 646.40 L1187.00 646.40 L1187.33 646.40 L1187.67 646.40 L1188.00 646.40 L1188.33 646.40 L1188.67 646.40 L1189.00 646.40 L1189.33 646.40 L1189.67 646.40 L1190.00 646.40 L1190.33 646.40 L1190.67 643.34 L1191.00 637.76 L1191.33 631.25 L1191.67 625.11 L1192.00 619.29 L1192.33 613.67 L1192.67 607.32 L1193.00 600.66 L1193.33 592.74 L1193.67 589.78 L1194.00 580.55 L1194.33 575.96 L1194.67 571.39 L1195.00 563.91 L1195.33 558.29 L1195.67 553.04 L1196.00 544.28 L1196.33 538.55 L1196.67 531.51 L1197.00 527.39 L1197.33 519.32 L1197.67 513.27 L1198.00 510.30 L1198.33 511.36 L1198.67 513.32 L1199.00 512.68 L1199.33 518.01 L1199.67 523.71 L1200.00 531.62 L1200.33 538.62 L1200.67 544.41 L1201.00 550.67 L1201.33 555.63 L1201.67 562.63 L1202.00 568.37 L1202.33 573.58 L1202.67 581.97 L1203.00 587.61 L1203.33 593.16 L1203.67 601.66 L1204.00 605.40 L1204.33 612.62 L1204.67 619.39 L1205.00 624.15 L1205.33 631.36 L1205.67 637.54 L1206.00 644.50 L1206.33 646.40 L1206.67 646.40 L1207.00 646.40 L1207.33 646.40 L1207.67 646.40 L1208.00 646.40 L1208.33 646.40 L1208.67 646.40 L1209.00 646.40 L1209.33 646.40 L1209.67 646.40 L1210.00 646.40 L1210.33 646.40 L1210.67 643.34 L1211.00 635.89 L1211.33 631.33 L1211.67 626.22 L1212.00 618.30 L1212.33 612.09 L1212.67 607.75 L1213.00 601.66 L1213.33 593.40 L1213.67 589.73 L1214.00 583.21 L1214.33 575.24 L1214.67 568.34 L1215.00 562.90 L1215.33 557.16 L1215.67 550.38 L1216.00 545.76 L1216.33 540.27 L1216.67 531.99 L1217.00 527.51 L1217.33 520.35 L1217.67 514.73 L1218.00 510.61 L1218.33 512.46 L1218.67 513.33 L1219.00 513.66 L1219.33 516.76 L1219.67 525.93 L1220.00 530.74 L1220.33 538.02 L1220.67 544.14 L1221.00 548.62 L1221.33 556.33 L1221.67 563.32 L1222.00 568.79 L1222.33 574.17 L1222.67 580.74 L1223.00 587.16 L1223.33 593.45 L1223.67 598.89 L1224.00 605.84 L1224.33 614.18 L1224.67 618.86 L1225.00 625.23 L1225.33 631.11 L1225.67 638.63 L1226.00 644.50 L1226.33 646.40 L1226.67 646.40 L1227.00 646.40 L1227.33 646.40 L1227.67 646.40 L1228.00 646.40 L1228.33 646.40 L1228.67 646.40 L1229.00 646.40 L1229.33 646.40 L1229.67 646.40 L1230.00 646.40 L1230.33 646.40 L1230.67 643.34 L1231.00 637.50 L1231.33 629.72 L1231.67 624.97 L1232.00 617.57 L1232.33 611.78 L1232.67 607.49 L1233.00 600.42 L1233.33 594.67 L1233.67 586.81 L1234.00 582.92 L1234.33 577.45 L1234.67 568.71 L1235.00 564.12 L1235.33 557.87 L1235.67 551.02 L1236.00 544.60 L1236.33 540.56 L1236.67 531.62 L1237.00 527.09 L1237.33 519.68 L1237.67 516.00 L1238.00 509.63 L1238.33 512.64 L1238.67 511.77 L1239.00 514.95 L1239.33 516.83 L1239.67 524.45 L1240.00 531.28 L1240.33 538.37 L1240.67 543.70 L1241.00 549.65 L1241.33 555.61 L1241.67 560.93 L1242.00 567.49 L1242.33 575.55 L1242.67 579.73 L1243.00 587.37 L1243.33 593.58 L1243.67 599.01 L1244.00 605.18 L1244.33 612.36 L1244.67 617.87 L1245.00 625.21 L1245.33 632.00 L1245.67 639.00 L1246.00 644.50 L1246.33 646.40 L1246.67 646.40 L1247.00 646.40 L1247.33 646.40 L1247.67 646.40 L1248.00 646.40 L1248.33 646.40 L1248.67 646.40 L1249.00 646.40 L1249.33 646.40 L1249.67 646.40 L1250.00 646.40 L1250.33 646.40 L1250.67 643.34 L1251.00 636.76 L1251.33 629.75 L1251.67 624.36 L1252.00 620.32 L1252.33 613.99 L1252.67 606.38 L1253.00 599.54 L1253.33 593.50 L1253.67 587.57 L1254.00 580.77 L1254.33 576.24 L1254.67 570.41 L1255.00 563.00 L1255.33 557.60 L1255.67 550.09 L1256.00 545.29 L1256.33 540.02 L1256.67 534.37 L1257.00 527.48 L1257.33 520.38 L1257.67 513.84 L1258.00 509.57 L1258.33 512.07 L1258.67 512.17 L1259.00 512.85 L1259.33 519.44 L1259.67 525.91 L1260.00 531.66 L1260.33 537.72 L1260.67 543.10 L1261.00 548.39 L1261.33 554.79 L1261.67 562.61 L1262.00 567.96 L1262.33 575.50 L1262.67 579.71 L1263.00 589.07 L1263.33 592.89 L1263.67 598.79 L1264.00 605.06 L1264.33 614.11 L1264.67 618.46 L1265.00 624.48 L1265.33 631.59 L1265.67 637.98 L1266.00 644.50 L1266.33 646.40 L1266.67 646.40 L1267.00 646.40 L1267.33 646.40 L1267.67 646.40 L1268.00 646.40 L1268.33 646.40 L1268.67 646.40 L1269.00 646.40 L1269.33 646.40 L1269.67 646.40 L1270.00 646.40 L1270.33 646.40 L1270.67 643.34 L1271.00 636.66 L1271.33 630.15 L1271.67 623.53 L1272.00 620.15 L1272.33 612.19 L1272.67 606.70 L1273.00 599.48 L1273.33 595.21 L1273.67 586.74 L1274.00 582.60 L1274.33 576.73 L1274.67 570.61 L1275.00 564.95 L1275.33 559.07 L1275.67 552.17 L1276.00 544.02 L1276.33 540.65 L1276.67 533.09 L1277.00 527.02 L1277.33 521.78 L1277.67 515.34 L1278.00 511.76 L1278.33 511.51 L1278.67 511.18 L1279.00 512.67 L1279.33 518.65 L1279.67 525.67 L1280.00 529.70 L1280.33 537.34 L1280.67 544.37 L1281.00 549.30 L1281.33 556.29 L1281.67 561.49 L1282.00 570.10 L1282.33 575.60 L1282.67 581.23 L1283.00 588.30 L1283.33 594.85 L1283.67 598.98 L1284.00 605.06 L1284.33 614.35 L1284.67 617.94 L1285.00 625.34 L1285.33 631.38 L1285.67 636.60 L1286.00 644.50 L1286.33 646.40 L1286.67 646.40 L1287.00 646.40 L1287.33 646.40 L1287.67 646.40 L1288.00 646.40 L1288.33 646.40 L1288.67 646.40 L1289.00 646.40 L1289.33 646.40 L1289.67 646.40 L1290.00 646.40 L1290.33 646.40 L1290.67 643.34 L1291.00 638.06 L1291.33 631.19 L1291.67 626.42 L1292.00 618.25 L1292.33 613.18 L1292.67 607.40 L1293.00 599.55 L1293.33 593.49 L1293.67 587.32 L1294.00 581.75 L1294.33 575.26 L1294.67 571.18 L1295.00 563.59 L1295.33 558.01 L1295.67 550.97 L1296.00 545.90 L1296.33 537.61 L1296.67 534.09 L1297.00 527.84 L1297.33 521.96 L1297.67 515.60 L1298.00 509.20 L1298.33 513.12 L1298.67 512.41 L1299.00 513.69 L1299.33 518.85 L1299.67 522.99 L1300.00 530.25 L1300.33 538.63 L1300.67 544.02 L1301.00 548.37 L1301.33 555.63 L1301.67 561.14 L1302.00 569.27 L1302.33 575.54 L1302.67 582.66 L1303.00 586.55 L1303.33 593.70 L1303.67 598.76 L1304.00 605.78 L1304.33 612.58 L1304.67 618.12 L1305.00 626.55 L1305.33 630.68 L1305.67 638.06 L1306.00 644.50 L1306.33 646.40 L1306.67 646.40 L1307.00 646.40 L1307.33 646.40 L1307.67 646.40 L1308.00 646.40 L1308.33 646.40 L1308.67 646.40 L1309.00 646.40 L1309.33 646.40 L1309.67 646.40 L1310.00 646.40 L1310.33 646.40 L1310.67 643.34 L1311.00 637.07 L1311.33 632.08 L1311.67 624.53 L1312.00 619.28 L1312.33 612.35 L1312.67 607.65 L1313.00 599.20 L1313.33 595.29 L1313.67 588.05 L1314.00 582.29 L1314.33 575.00 L1314.67 571.15 L1315.00 564.63 L1315.33 556.93 L1315.67 550.69 L1316.00 545.91 L1316.33 538.98 L1316.67 533.83 L1317.00 526.68 L1317.33 520.77 L1317.67 515.09 L1318.00 510.13 L1318.33 510.93 L1318.67 511.81 L1319.00 513.83 L1319.33 516.93 L1319.67 525.41 L1320.00 529.42 L1320.33 535.42 L1320.67 544.59 L1321.00 549.69 L1321.33 555.54 L1321.67 563.74 L1322.00 569.88 L1322.33 574.27 L1322.67 582.23 L1323.00 587.28 L1323.33 595.43 L1323.67 601.53 L1324.00 606.89 L1324.33 612.26 L1324.67 618.29 L1325.00 626.39 L1325.33 631.66 L1325.67 638.52 L1326.00 644.50 L1326.33 646.40 L1326.67 646.40 L1327.00 646.40 L1327.33 646.40 L1327.67 646.40 L1328.00 646.40 L1328.33 646.40 L1328.67 646.40 L1329.00 646.40 L1329.33 646.40 L1329.67 646.40 L1330.00 646.40 L1330.33 646.40 L1330.67 643.34 L1331.00 638.00 L1331.33 631.85 L1331.67 626.06 L1332.00 618.99 L1332.33 614.24 L1332.67 606.44 L1333.00 601.70 L1333.33 594.18 L1333.67 588.64 L1334.00 582.06 L1334.33 576.38 L1334.67 568.84 L1335.00 562.30 L1335.33 558.70 L1335.67 551.05 L1336.00 546.35 L1336.33 540.36 L1336.67 532.09 L1337.00 525.45 L1337.33 520.12 L1337.67 515.53 L1338.00 511.36 L1338.33 511.32 L1338.67 512.05 L1339.00 513.37 L1339.33 517.67 L1339.67 523.53 L1340.00 530.05 L1340.33 537.64 L1340.67 544.87 L1341.00 548.65 L1341.33 557.53 L1341.67 560.81 L1342.00 570.25 L1342.33 575.68 L1342.67 581.94 L1343.00 586.49 L1343.33 593.08 L1343.67 600.24 L1344.00 607.31 L1344.33 611.54 L1344.67 619.34 L1345.00 623.97 L1345.33 632.07 L1345.67 638.06 L1346.00 644.50 L1346.33 646.40 L1346.67 646.40 L1347.00 646.40 L1347.33 646.40 L1347.67 646.40 L1348.00 646.40 L1348.33 646.40 L1348.67 646.40 L1349.00 646.40 L1349.33 646.40 L1349.67 646.40 L1350.00 646.40 L1350.33 646.40 L1350.67 643.34 L1351.00 638.07 L1351.33 631.21 L1351.67 623.54 L1352.00 617.73" fill="none" stroke="#a9d4f7" stroke-width="1.1"/><path d="M997.00 573.31 L997.33 572.03 L997.67 570.35 L998.00 571.02 L998.33 568.73 L998.67 566.88 L999.00 565.74 L999.33 567.00 L999.67 563.64 L1000.00 561.13 L1000.33 558.88 L1000.67 554.76 L1001.00 553.56 L1001.33 551.21 L1001.67 546.98 L1002.00 545.36 L1002.33 543.82 L1002.67 541.17 L1003.00 537.95 L1003.33 536.77 L1003.67 532.35 L1004.00 529.31 L1004.33 527.70 L1004.67 523.72 L1005.00 520.83 L1005.33 519.42 L1005.67 516.39 L1006.00 515.60 L1006.33 513.18 L1006.67 507.57 L1007.00 507.20 L1007.33 504.81 L1007.67 501.00 L1008.00 518.29 L1008.33 540.42 L1008.67 563.32 L1009.00 590.56 L1009.33 617.45 L1009.67 643.70 L1010.00 646.40 L1010.33 646.40 L1010.67 646.40 L1011.00 644.60 L1011.33 640.20 L1011.67 632.53 L1012.00 627.24 L1012.33 620.96 L1012.67 615.64 L1013.00 609.88 L1013.33 604.14 L1013.67 595.42 L1014.00 589.83 L1014.33 584.44 L1014.67 582.31 L1015.00 581.15 L1015.33 580.17 L1015.67 578.45 L1016.00 578.21 L1016.33 576.42 L1016.67 575.58 L1017.00 574.53 L1017.33 571.96 L1017.67 571.52 L1018.00 570.39 L1018.33 569.68 L1018.67 568.01 L1019.00 566.14 L1019.33 566.60 L1019.67 565.52 L1020.00 561.57 L1020.33 559.28 L1020.67 555.37 L1021.00 554.91 L1021.33 549.83 L1021.67 549.99 L1022.00 545.66 L1022.33 543.36 L1022.67 541.15 L1023.00 536.68 L1023.33 534.66 L1023.67 533.79 L1024.00 530.09 L1024.33 527.09 L1024.67 526.35 L1025.00 523.55 L1025.33 519.27 L1025.67 516.24 L1026.00 514.48 L1026.33 511.99 L1026.67 509.10 L1027.00 507.28 L1027.33 502.66 L1027.67 501.00 L1028.00 519.15 L1028.33 540.75 L1028.67 563.08 L1029.00 588.75 L1029.33 617.28 L1029.67 643.70 L1030.00 646.40 L1030.33 646.40 L1030.67 646.40 L1031.00 644.60 L1031.33 639.88 L1031.67 633.63 L1032.00 625.92 L1032.33 620.22 L1032.67 615.31 L1033.00 608.22 L1033.33 601.78 L1033.67 595.12 L1034.00 589.56 L1034.33 584.85 L1034.67 580.09 L1035.00 578.64 L1035.33 577.74 L1035.67 577.04 L1036.00 576.50 L1036.33 575.66 L1036.67 573.48 L1037.00 573.13 L1037.33 571.74 L1037.67 572.26 L1038.00 571.62 L1038.33 569.96 L1038.67 567.87 L1039.00 566.83 L1039.33 566.96 L1039.67 565.14 L1040.00 560.06 L1040.33 560.28 L1040.67 554.89 L1041.00 552.77 L1041.33 550.80 L1041.67 546.81 L1042.00 545.21 L1042.33 544.77 L1042.67 539.13 L1043.00 538.22 L1043.33 533.97 L1043.67 531.68 L1044.00 531.25 L1044.33 528.95 L1044.67 526.39 L1045.00 521.31 L1045.33 518.66 L1045.67 517.86 L1046.00 515.61 L1046.33 512.17 L1046.67 508.15 L1047.00 505.72 L1047.33 502.69 L1047.67 501.00 L1048.00 518.27 L1048.33 538.11 L1048.67 564.31 L1049.00 591.33 L1049.33 615.54 L1049.67 643.70 L1050.00 646.40 L1050.33 646.40 L1050.67 646.40 L1051.00 644.60 L1051.33 638.22 L1051.67 633.17 L1052.00 627.81 L1052.33 621.16 L1052.67 615.14 L1053.00 608.63 L1053.33 602.79 L1053.67 597.59 L1054.00 591.98 L1054.33 585.59 L1054.67 582.30 L1055.00 581.31 L1055.33 579.21 L1055.67 579.05 L1056.00 575.80 L1056.33 575.55 L1056.67 574.75 L1057.00 573.09 L1057.33 573.32 L1057.67 572.92 L1058.00 571.66 L1058.33 569.75 L1058.67 568.59 L1059.00 567.86 L1059.33 566.61 L1059.67 563.05 L1060.00 563.10 L1060.33 559.06 L1060.67 556.65 L1061.00 554.36 L1061.33 550.31 L1061.67 549.31 L1062.00 547.28 L1062.33 544.28 L1062.67 539.01 L1063.00 538.44 L1063.33 536.56 L1063.67 531.17 L1064.00 529.61 L1064.33 525.98 L1064.67 525.38 L1065.00 521.22 L1065.33 521.08 L1065.67 517.83 L1066.00 513.41 L1066.33 511.69 L1066.67 508.18 L1067.00 506.87 L1067.33 502.66 L1067.67 502.63 L1068.00 518.69 L1068.33 540.21 L1068.67 563.72 L1069.00 588.49 L1069.33 616.94 L1069.67 643.70 L1070.00 646.40 L1070.33 646.40 L1070.67 646.40 L1071.00 644.60 L1071.33 637.59 L1071.67 633.31 L1072.00 625.86 L1072.33 619.29 L1072.67 614.21 L1073.00 609.48 L1073.33 602.08 L1073.67 595.17 L1074.00 589.65 L1074.33 584.81 L1074.67 581.42 L1075.00 581.31 L1075.33 578.07 L1075.67 578.96 L1076.00 577.69 L1076.33 577.21 L1076.67 575.71 L1077.00 573.91 L1077.33 572.53 L1077.67 572.43 L1078.00 570.54 L1078.33 568.38 L1078.67 569.45 L1079.00 568.24 L1079.33 565.91 L1079.67 562.82 L1080.00 560.16 L1080.33 558.67 L1080.67 557.60 L1081.00 552.44 L1081.33 549.44 L1081.67 547.12 L1082.00 545.70 L1082.33 543.56 L1082.67 540.27 L1083.00 537.00 L1083.33 533.72 L1083.67 532.72 L1084.00 530.06 L1084.33 528.07 L1084.67 524.71 L1085.00 522.08 L1085.33 520.30 L1085.67 517.11 L1086.00 513.01 L1086.33 512.60 L1086.67 509.92 L1087.00 507.13 L1087.33 502.72 L1087.67 501.90 L1088.00 518.04 L1088.33 537.81 L1088.67 561.53 L1089.00 588.74 L1089.33 617.70 L1089.67 643.70 L1090.00 646.40 L1090.33 646.40 L1090.67 646.40 L1091.00 644.60 L1091.33 638.76 L1091.67 631.56 L1092.00 627.43 L1092.33 620.28 L1092.67 613.42 L1093.00 607.22 L1093.33 603.11 L1093.67 597.86 L1094.00 592.15 L1094.33 585.23 L1094.67 580.94 L1095.00 580.73 L1095.33 577.89 L1095.67 577.37 L1096.00 576.38 L1096.33 574.64 L1096.67 575.17 L1097.00 573.05 L1097.33 572.94 L1097.67 572.06 L1098.00 571.55 L1098.33 568.29 L1098.67 566.84 L1099.00 568.58 L1099.33 565.28 L1099.67 565.55 L1100.00 561.78 L1100.33 559.49 L1100.67 554.97 L1101.00 553.87 L1101.33 551.00 L1101.67 548.88 L1102.00 546.59 L1102.33 544.01 L1102.67 541.97 L1103.00 539.51 L1103.33 535.15 L1103.67 531.93 L1104.00 529.53 L1104.33 528.24 L1104.67 523.26 L1105.00 523.58 L1105.33 519.82 L1105.67 517.52 L1106.00 515.40 L1106.33 510.25 L1106.67 508.42 L1107.00 507.69 L1107.33 504.93 L1107.67 501.00 L1108.00 519.51 L1108.33 539.84 L1108.67 563.40 L1109.00 590.30 L1109.33 616.43 L1109.67 643.70 L1110.00 646.40 L1110.33 646.40 L1110.67 646.40 L1111.00 644.60 L1111.33 639.21 L1111.67 632.31 L1112.00 628.02 L1112.33 620.50 L1112.67 614.35 L1113.00 609.20 L1113.33 601.43 L1113.67 595.24 L1114.00 590.12 L1114.33 584.92 L1114.67 582.18 L1115.00 579.61 L1115.33 579.62 L1115.67 578.94 L1116.00 576.67 L1116.33 576.67 L1116.67 574.17 L1117.00 572.70 L1117.33 574.04 L1117.67 570.95 L1118.00 571.30 L1118.33 569.75 L1118.67 567.42 L1119.00 565.55 L1119.33 566.58 L1119.67 563.31 L1120.00 562.01 L1120.33 557.47 L1120.67 557.33 L1121.00 553.12 L1121.33 552.39 L1121.67 548.22 L1122.00 545.01 L1122.33 541.84 L1122.67 539.70 L1123.00 537.78 L1123.33 535.64 L1123.67 532.28 L1124.00 529.60 L1124.33 527.10 L1124.67 524.15 L1125.00 521.42 L1125.33 518.18 L1125.67 516.59 L1126.00 513.14 L1126.33 510.96 L1126.67 509.51 L1127.00 505.52 L1127.33 504.32 L1127.67 501.00 L1128.00 517.87 L1128.33 537.91 L1128.67 561.42 L1129.00 589.11 L1129.33 616.72 L1129.67 643.70 L1130.00 646.40 L1130.33 646.40 L1130.67 646.40 L1131.00 644.60 L1131.33 639.29 L1131.67 632.16 L1132.00 625.34 L1132.33 621.07 L1132.67 615.55 L1133.00 607.79 L1133.33 601.30 L1133.67 597.58 L1134.00 591.80 L1134.33 585.89 L1134.67 580.93 L1135.00 578.94 L1135.33 579.75 L1135.67 576.91 L1136.00 578.25 L1136.33 576.64 L1136.67 574.47 L1137.00 572.70 L1137.33 572.48 L1137.67 570.77 L1138.00 570.75 L1138.33 569.62 L1138.67 568.07 L1139.00 568.67 L1139.33 566.95 L1139.67 564.62 L1140.00 561.01 L1140.33 559.88 L1140.67 557.10 L1141.00 552.07 L1141.33 550.55 L1141.67 548.70 L1142.00 544.88 L1142.33 542.48 L1142.67 539.53 L1143.00 537.75 L1143.33 534.95 L1143.67 534.00 L1144.00 530.31 L1144.33 527.81 L1144.67 525.63 L1145.00 522.66 L1145.33 518.35 L1145.67 517.88 L1146.00 515.61 L1146.33 512.28 L1146.67 510.19 L1147.00 508.04 L1147.33 502.54 L1147.67 501.11 L1148.00 520.63 L1148.33 539.10 L1148.67 563.80 L1149.00 589.78 L1149.33 615.27 L1149.67 643.70 L1150.00 646.40 L1150.33 646.40 L1150.67 646.40 L1151.00 644.60 L1151.33 637.06 L1151.67 632.94 L1152.00 625.70 L1152.33 620.64 L1152.67 615.98 L1153.00 608.94 L1153.33 601.62 L1153.67 595.73 L1154.00 589.91 L1154.33 583.05 L1154.67 581.48 L1155.00 579.36 L1155.33 577.90 L1155.67 576.48 L1156.00 575.58 L1156.33 574.49 L1156.67 575.13 L1157.00 573.93 L1157.33 572.07 L1157.67 572.61 L1158.00 570.92 L1158.33 569.64 L1158.67 569.09 L1159.00 568.08 L1159.33 565.49 L1159.67 564.75 L1160.00 562.95 L1160.33 557.93 L1160.67 554.83 L1161.00 554.55 L1161.33 550.44 L1161.67 549.76 L1162.00 546.70 L1162.33 544.26 L1162.67 540.10 L1163.00 537.75 L1163.33 534.27 L1163.67 532.18 L1164.00 529.25 L1164.33 526.24 L1164.67 524.57 L1165.00 523.11 L1165.33 520.69 L1165.67 515.82 L1166.00 513.32 L1166.33 511.27 L1166.67 507.66 L1167.00 505.50 L1167.33 504.20 L1167.67 502.28 L1168.00 519.33 L1168.33 537.85 L1168.67 561.48 L1169.00 591.33 L1169.33 618.31 L1169.67 643.70 L1170.00 646.40 L1170.33 646.40 L1170.67 646.40 L1171.00 644.60 L1171.33 638.78 L1171.67 631.28 L1172.00 625.38 L1172.33 619.52 L1172.67 616.01 L1173.00 609.57 L1173.33 601.74 L1173.67 596.82 L1174.00 591.21 L1174.33 583.14 L1174.67 582.66 L1175.00 580.06 L1175.33 577.70 L1175.67 577.21 L1176.00 575.52 L1176.33 576.43 L1176.67 574.42 L1177.00 571.99 L1177.33 573.65 L1177.67 571.61 L1178.00 568.71 L1178.33 570.32 L1178.67 567.25 L1179.00 566.26 L1179.33 566.77 L1179.67 562.55 L1180.00 560.60 L1180.33 560.09 L1180.67 554.69 L1181.00 552.41 L1181.33 551.10 L1181.67 549.94 L1182.00 544.87 L1182.33 542.90 L1182.67 539.77 L1183.00 539.30 L1183.33 535.38 L1183.67 531.70 L1184.00 529.34 L1184.33 528.52 L1184.67 525.39 L1185.00 522.37 L1185.33 519.73 L1185.67 515.39 L1186.00 512.96 L1186.33 513.35 L1186.67 508.74 L1187.00 507.68 L1187.33 502.70 L1187.67 501.17 L1188.00 517.81 L1188.33 537.87 L1188.67 561.34 L1189.00 590.80 L1189.33 618.13 L1189.67 643.70 L1190.00 646.40 L1190.33 646.40 L1190.67 646.40 L1191.00 644.60 L1191.33 637.72 L1191.67 632.72 L1192.00 625.71 L1192.33 620.80 L1192.67 614.89 L1193.00 607.86 L1193.33 603.05 L1193.67 596.64 L1194.00 590.96 L1194.33 584.07 L1194.67 582.48 L1195.00 580.14 L1195.33 578.68 L1195.67 577.26 L1196.00 575.47 L1196.33 576.11 L1196.67 573.12 L1197.00 572.88 L1197.33 572.84 L1197.67 571.18 L1198.00 570.75 L1198.33 568.73 L1198.67 569.68 L1199.00 565.77 L1199.33 566.44 L1199.67 565.71 L1200.00 562.85 L1200.33 559.41 L1200.67 557.04 L1201.00 552.56 L1201.33 551.44 L1201.67 547.07 L1202.00 546.51 L1202.33 543.68 L1202.67 539.09 L1203.00 536.78 L1203.33 533.90 L1203.67 533.95 L1204.00 531.47 L1204.33 526.83 L1204.67 525.37 L1205.00 523.50 L1205.33 520.92 L1205.67 517.55 L1206.00 514.97 L1206.33 511.21 L1206.67 507.54 L1207.00 507.57 L1207.33 502.93 L1207.67 501.00 L1208.00 517.91 L1208.33 537.61 L1208.67 561.40 L1209.00 590.92 L1209.33 615.94 L1209.67 643.70 L1210.00 646.40 L1210.33 646.40 L1210.67 646.40 L1211.00 644.60 L1211.33 637.72 L1211.67 632.99 L1212.00 628.13 L1212.33 619.77 L1212.67 614.20 L1213.00 607.78 L1213.33 601.79 L1213.67 595.86 L1214.00 592.11 L1214.33 583.20 L1214.67 579.62 L1215.00 580.49 L1215.33 578.01 L1215.67 576.44 L1216.00 577.00 L1216.33 576.23 L1216.67 574.29 L1217.00 572.63 L1217.33 572.74 L1217.67 570.74 L1218.00 568.83 L1218.33 569.63 L1218.67 566.81 L1219.00 568.23 L1219.33 565.68 L1219.67 563.05 L1220.00 561.82 L1220.33 559.59 L1220.67 556.99 L1221.00 554.09 L1221.33 551.39 L1221.67 548.69 L1222.00 546.62 L1222.33 542.87 L1222.67 541.46 L1223.00 538.70 L1223.33 535.43 L1223.67 531.37 L1224.00 530.81 L1224.33 528.49 L1224.67 523.95 L1225.00 521.95 L1225.33 520.83 L1225.67 515.45 L1226.00 515.33 L1226.33 511.31 L1226.67 509.97 L1227.00 505.44 L1227.33 504.30 L1227.67 501.00 L1228.00 518.14 L1228.33 538.54 L1228.67 563.36 L1229.00 590.37 L1229.33 616.45 L1229.67 643.70 L1230.00 646.40 L1230.33 646.40 L1230.67 646.40 L1231.00 644.60 L1231.33 638.52 L1231.67 631.91 L1232.00 628.01 L1232.33 622.02 L1232.67 616.23 L1233.00 607.63 L1233.33 603.68 L1233.67 595.81 L1234.00 590.77 L1234.33 583.16 L1234.67 580.65 L1235.00 578.89 L1235.33 580.23 L1235.67 576.58 L1236.00 577.16 L1236.33 577.18 L1236.67 573.46 L1237.00 574.40 L1237.33 571.96 L1237.67 572.94 L1238.00 570.50 L1238.33 569.33 L1238.67 568.30 L1239.00 566.00 L1239.33 566.67 L1239.67 562.80 L1240.00 562.61 L1240.33 557.38 L1240.67 556.97 L1241.00 553.08 L1241.33 549.64 L1241.67 547.83 L1242.00 544.65 L1242.33 544.51 L1242.67 539.04 L1243.00 539.42 L1243.33 534.75 L1243.67 531.65 L1244.00 529.21 L1244.33 526.72 L1244.67 524.49 L1245.00 520.64 L1245.33 520.49 L1245.67 515.65 L1246.00 513.37 L1246.33 512.74 L1246.67 509.24 L1247.00 506.71 L1247.33 505.02 L1247.67 501.00 L1248.00 517.94 L1248.33 538.39 L1248.67 564.25 L1249.00 588.99 L1249.33 615.33 L1249.67 643.70 L1250.00 646.40 L1250.33 646.40 L1250.67 646.40 L1251.00 644.60 L1251.33 637.90 L1251.67 631.21 L1252.00 625.12 L1252.33 619.96 L1252.67 613.83 L1253.00 609.26 L1253.33 601.74 L1253.67 597.23 L1254.00 591.39 L1254.33 585.18 L1254.67 581.71 L1255.00 581.51 L1255.33 580.07 L1255.67 578.58 L1256.00 577.69 L1256.33 577.25 L1256.67 573.85 L1257.00 572.48 L1257.33 573.00 L1257.67 570.69 L1258.00 569.11 L1258.33 570.74 L1258.67 567.90 L1259.00 566.77 L1259.33 567.04 L1259.67 562.83 L1260.00 560.53 L1260.33 558.78 L1260.67 556.16 L1261.00 552.58 L1261.33 552.47 L1261.67 547.20 L1262.00 545.72 L1262.33 543.81 L1262.67 541.33 L1263.00 537.80 L1263.33 536.61 L1263.67 531.64 L1264.00 530.37 L1264.33 526.17 L1264.67 523.37 L1265.00 521.27 L1265.33 520.87 L1265.67 517.81 L1266.00 513.94 L1266.33 510.31 L1266.67 508.71 L1267.00 506.95 L1267.33 502.88 L1267.67 501.38 L1268.00 518.80 L1268.33 539.34 L1268.67 561.28 L1269.00 589.36 L1269.33 617.98 L1269.67 643.70 L1270.00 646.40 L1270.33 646.40 L1270.67 646.40 L1271.00 644.60 L1271.33 638.14 L1271.67 632.92 L1272.00 627.68 L1272.33 620.63 L1272.67 615.37 L1273.00 607.16 L1273.33 603.53 L1273.67 596.48 L1274.00 592.23 L1274.33 585.27 L1274.67 580.60 L1275.00 580.01 L1275.33 578.41 L1275.67 577.62 L1276.00 576.40 L1276.33 576.49 L1276.67 573.24 L1277.00 573.05 L1277.33 573.99 L1277.67 570.29 L1278.00 571.37 L1278.33 569.49 L1278.67 567.66 L1279.00 565.77 L1279.33 567.05 L1279.67 564.79 L1280.00 561.46 L1280.33 558.30 L1280.67 556.39 L1281.00 552.98 L1281.33 549.45 L1281.67 549.82 L1282.00 546.11 L1282.33 542.23 L1282.67 539.55 L1283.00 536.46 L1283.33 535.84 L1283.67 533.51 L1284.00 529.54 L1284.33 526.40 L1284.67 523.87 L1285.00 522.10 L1285.33 520.80 L1285.67 516.33 L1286.00 515.15 L1286.33 513.28 L1286.67 510.73 L1287.00 507.02 L1287.33 504.29 L1287.67 501.12 L1288.00 519.27 L1288.33 539.16 L1288.67 562.31 L1289.00 590.76 L1289.33 615.74 L1289.67 643.70 L1290.00 646.40 L1290.33 646.40 L1290.67 646.40 L1291.00 644.60 L1291.33 638.05 L1291.67 631.60 L1292.00 626.40 L1292.33 620.48 L1292.67 613.53 L1293.00 608.10 L1293.33 603.38 L1293.67 595.44 L1294.00 591.63 L1294.33 585.36 L1294.67 580.04 L1295.00 580.16 L1295.33 580.06 L1295.67 576.57 L1296.00 576.46 L1296.33 577.25 L1296.67 575.12 L1297.00 574.04 L1297.33 573.17 L1297.67 570.66 L1298.00 571.18 L1298.33 570.57 L1298.67 566.98 L1299.00 566.82 L1299.33 566.06 L1299.67 562.88 L1300.00 560.92 L1300.33 557.75 L1300.67 556.81 L1301.00 554.29 L1301.33 551.58 L1301.67 548.51 L1302.00 545.55 L1302.33 544.15 L1302.67 540.34 L1303.00 536.51 L1303.33 534.51 L1303.67 534.30 L1304.00 530.15 L1304.33 527.04 L1304.67 526.28 L1305.00 520.63 L1305.33 518.67 L1305.67 516.79 L1306.00 514.30 L1306.33 511.30 L1306.67 509.46 L1307.00 506.25 L1307.33 503.86 L1307.67 501.76 L1308.00 519.19 L1308.33 540.63 L1308.67 562.38 L1309.00 590.58 L1309.33 617.47 L1309.67 643.70 L1310.00 646.40 L1310.33 646.40 L1310.67 646.40 L1311.00 644.60 L1311.33 639.73 L1311.67 631.80 L1312.00 626.76 L1312.33 620.35 L1312.67 614.58 L1313.00 608.34 L1313.33 603.07 L1313.67 597.40 L1314.00 589.76 L1314.33 583.90 L1314.67 582.22 L1315.00 581.17 L1315.33 579.41 L1315.67 576.90 L1316.00 577.39 L1316.33 576.58 L1316.67 574.84 L1317.00 573.54 L1317.33 572.04 L1317.67 571.96 L1318.00 570.62 L1318.33 567.65 L1318.67 567.31 L1319.00 567.97 L1319.33 565.96 L1319.67 565.26 L1320.00 559.96 L1320.33 559.67 L1320.67 554.90 L1321.00 554.57 L1321.33 551.93 L1321.67 548.92 L1322.00 546.36 L1322.33 543.68 L1322.67 540.90 L1323.00 538.23 L1323.33 536.57 L1323.67 532.28 L1324.00 529.45 L1324.33 528.35 L1324.67 526.02 L1325.00 523.72 L1325.33 520.63 L1325.67 516.92 L1326.00 513.96 L1326.33 510.32 L1326.67 508.08 L1327.00 507.61 L1327.33 504.67 L1327.67 502.25 L1328.00 520.49 L1328.33 540.73 L1328.67 562.61 L1329.00 588.26 L1329.33 615.17 L1329.67 643.70 L1330.00 646.40 L1330.33 646.40 L1330.67 646.40 L1331.00 644.60 L1331.33 640.14 L1331.67 633.42 L1332.00 627.09 L1332.33 619.45 L1332.67 615.91 L1333.00 608.81 L1333.33 601.41 L1333.67 595.71 L1334.00 591.66 L1334.33 584.57 L1334.67 580.51 L1335.00 581.23 L1335.33 577.76 L1335.67 577.28 L1336.00 577.21 L1336.33 576.23 L1336.67 575.95 L1337.00 572.23 L1337.33 573.46 L1337.67 571.10 L1338.00 569.66 L1338.33 568.89 L1338.67 567.18 L1339.00 567.79 L1339.33 565.44 L1339.67 565.06 L1340.00 560.84 L1340.33 558.07 L1340.67 556.38 L1341.00 552.91 L1341.33 550.46 L1341.67 549.99 L1342.00 546.73 L1342.33 544.11 L1342.67 539.94 L1343.00 536.87 L1343.33 536.19 L1343.67 531.32 L1344.00 531.06 L1344.33 527.69 L1344.67 523.71 L1345.00 522.92 L1345.33 518.44 L1345.67 518.45 L1346.00 515.03 L1346.33 510.64 L1346.67 508.62 L1347.00 507.72 L1347.33 503.91 L1347.67 501.17 L1348.00 520.62 L1348.33 537.80 L1348.67 564.28 L1349.00 588.34 L1349.33 616.08 L1349.67 643.70 L1350.00 646.40 L1350.33 646.40 L1350.67 646.40 L1351.00 644.60 L1351.33 638.10 L1351.67 633.03 L1352.00 627.43" fill="none" stroke="#5c1190" stroke-width="1.6"/><path d="M997.00 526.76 L997.33 520.79 L997.67 514.97 L998.00 507.51 L998.33 508.11 L998.67 508.73 L999.00 513.48 L999.33 518.12 L999.67 523.00 L1000.00 530.00 L1000.33 534.60 L1000.67 540.77 L1001.00 548.39 L1001.33 555.55 L1001.67 559.08 L1002.00 567.08 L1002.33 573.42 L1002.67 577.05 L1003.00 582.65 L1003.33 588.64 L1003.67 594.23 L1004.00 602.63 L1004.33 608.98 L1004.67 614.82 L1005.00 618.01 L1005.33 626.78 L1005.67 632.59 L1006.00 639.01 L1006.33 643.42 L1006.67 646.40 L1007.00 646.40 L1007.33 646.40 L1007.67 646.40 L1008.00 646.40 L1008.33 646.40 L1008.67 646.40 L1009.00 646.40 L1009.33 646.40 L1009.67 646.40 L1010.00 642.89 L1010.33 637.40 L1010.67 630.85 L1011.00 625.94 L1011.33 619.94 L1011.67 612.41 L1012.00 609.35 L1012.33 601.73 L1012.67 596.45 L1013.00 591.47 L1013.33 585.92 L1013.67 579.77 L1014.00 574.84 L1014.33 570.47 L1014.67 564.62 L1015.00 559.37 L1015.33 553.34 L1015.67 545.91 L1016.00 542.20 L1016.33 537.83 L1016.67 530.99 L1017.00 524.37 L1017.33 520.04 L1017.67 513.68 L1018.00 510.14 L1018.33 509.51 L1018.67 508.92 L1019.00 513.64 L1019.33 518.79 L1019.67 524.48 L1020.00 531.07 L1020.33 537.54 L1020.67 543.60 L1021.00 546.51 L1021.33 553.33 L1021.67 558.44 L1022.00 565.90 L1022.33 570.36 L1022.67 576.62 L1023.00 583.38 L1023.33 589.65 L1023.67 595.67 L1024.00 602.55 L1024.33 608.03 L1024.67 612.87 L1025.00 620.54 L1025.33 624.39 L1025.67 631.45 L1026.00 637.11 L1026.33 643.42 L1026.67 646.40 L1027.00 646.40 L1027.33 646.40 L1027.67 646.40 L1028.00 646.40 L1028.33 646.40 L1028.67 646.40 L1029.00 646.40 L1029.33 646.40 L1029.67 646.40 L1030.00 640.38 L1030.33 635.43 L1030.67 631.55 L1031.00 625.67 L1031.33 620.94 L1031.67 615.33 L1032.00 606.81 L1032.33 602.45 L1032.67 595.70 L1033.00 590.79 L1033.33 586.77 L1033.67 579.13 L1034.00 573.75 L1034.33 569.73 L1034.67 565.42 L1035.00 559.13 L1035.33 554.10 L1035.67 547.93 L1036.00 543.32 L1036.33 535.75 L1036.67 529.36 L1037.00 526.32 L1037.33 518.96 L1037.67 514.06 L1038.00 508.87 L1038.33 506.78 L1038.67 509.84 L1039.00 511.14 L1039.33 519.65 L1039.67 522.60 L1040.00 531.10 L1040.33 537.65 L1040.67 540.77 L1041.00 547.26 L1041.33 553.37 L1041.67 559.04 L1042.00 566.27 L1042.33 573.08 L1042.67 578.39 L1043.00 582.30 L1043.33 588.17 L1043.67 596.57 L1044.00 601.85 L1044.33 607.79 L1044.67 612.28 L1045.00 621.16 L1045.33 624.46 L1045.67 632.29 L1046.00 637.29 L1046.33 643.42 L1046.67 646.40 L1047.00 646.40 L1047.33 646.40 L1047.67 646.40 L1048.00 646.40 L1048.33 646.40 L1048.67 646.40 L1049.00 646.40 L1049.33 646.40 L1049.67 646.40 L1050.00 642.63 L1050.33 637.25 L1050.67 629.13 L1051.00 624.84 L1051.33 617.80 L1051.67 612.62 L1052.00 607.46 L1052.33 604.12 L1052.67 596.93 L1053.00 590.10 L1053.33 586.16 L1053.67 582.05 L1054.00 576.14 L1054.33 568.01 L1054.67 562.52 L1055.00 559.36 L1055.33 553.60 L1055.67 546.79 L1056.00 541.94 L1056.33 537.46 L1056.67 529.34 L1057.00 525.00 L1057.33 520.30 L1057.67 515.88 L1058.00 508.78 L1058.33 507.28 L1058.67 510.49 L1059.00 513.52 L1059.33 517.42 L1059.67 522.75 L1060.00 530.48 L1060.33 536.13 L1060.67 541.57 L1061.00 547.91 L1061.33 555.14 L1061.67 560.63 L1062.00 566.82 L1062.33 572.81 L1062.67 579.13 L1063.00 584.12 L1063.33 590.64 L1063.67 594.57 L1064.00 602.24 L1064.33 606.13 L1064.67 612.58 L1065.00 620.30 L1065.33 626.64 L1065.67 631.25 L1066.00 637.54 L1066.33 643.42 L1066.67 646.40 L1067.00 646.40 L1067.33 646.40 L1067.67 646.40 L1068.00 646.40 L1068.33 646.40 L1068.67 646.40 L1069.00 646.40 L1069.33 646.40 L1069.67 646.40 L1070.00 641.31 L1070.33 637.12 L1070.67 630.27 L1071.00 624.01 L1071.33 619.50 L1071.67 614.59 L1072.00 606.91 L1072.33 603.41 L1072.67 595.62 L1073.00 591.08 L1073.33 587.78 L1073.67 580.81 L1074.00 576.25 L1074.33 568.67 L1074.67 564.32 L1075.00 559.88 L1075.33 551.55 L1075.67 546.52 L1076.00 541.62 L1076.33 536.22 L1076.67 532.29 L1077.00 523.83 L1077.33 520.50 L1077.67 514.26 L1078.00 508.84 L1078.33 508.19 L1078.67 511.01 L1079.00 510.91 L1079.33 518.17 L1079.67 524.46 L1080.00 528.91 L1080.33 534.88 L1080.67 541.30 L1081.00 546.65 L1081.33 554.42 L1081.67 561.18 L1082.00 566.36 L1082.33 571.50 L1082.67 576.87 L1083.00 583.01 L1083.33 589.31 L1083.67 595.37 L1084.00 601.12 L1084.33 607.38 L1084.67 615.16 L1085.00 619.41 L1085.33 626.25 L1085.67 632.87 L1086.00 637.09 L1086.33 643.42 L1086.67 646.40 L1087.00 646.40 L1087.33 646.40 L1087.67 646.40 L1088.00 646.40 L1088.33 646.40 L1088.67 646.40 L1089.00 646.40 L1089.33 646.40 L1089.67 646.40 L1090.00 640.32 L1090.33 636.61 L1090.67 629.82 L1091.00 624.44 L1091.33 618.74 L1091.67 612.59 L1092.00 607.64 L1092.33 604.11 L1092.67 596.84 L1093.00 592.19 L1093.33 586.44 L1093.67 580.08 L1094.00 576.18 L1094.33 569.18 L1094.67 562.65 L1095.00 559.91 L1095.33 551.88 L1095.67 546.82 L1096.00 542.27 L1096.33 535.58 L1096.67 532.28 L1097.00 526.49 L1097.33 518.25 L1097.67 513.94 L1098.00 509.89 L1098.33 509.30 L1098.67 509.62 L1099.00 512.03 L1099.33 516.56 L1099.67 525.13 L1100.00 529.64 L1100.33 536.23 L1100.67 541.82 L1101.00 546.54 L1101.33 555.17 L1101.67 558.82 L1102.00 565.12 L1102.33 572.59 L1102.67 579.03 L1103.00 582.97 L1103.33 588.59 L1103.67 596.20 L1104.00 602.83 L1104.33 607.45 L1104.67 613.04 L1105.00 620.01 L1105.33 625.81 L1105.67 632.77 L1106.00 638.61 L1106.33 643.42 L1106.67 646.40 L1107.00 646.40 L1107.33 646.40 L1107.67 646.40 L1108.00 646.40 L1108.33 646.40 L1108.67 646.40 L1109.00 646.40 L1109.33 646.40 L1109.67 646.40 L1110.00 642.33 L1110.33 635.07 L1110.67 631.60 L1111.00 625.83 L1111.33 619.44 L1111.67 614.74 L1112.00 609.12 L1112.33 601.98 L1112.67 598.08 L1113.00 591.50 L1113.33 587.52 L1113.67 580.59 L1114.00 574.48 L1114.33 569.76 L1114.67 565.07 L1115.00 560.06 L1115.33 553.74 L1115.67 547.79 L1116.00 543.26 L1116.33 536.68 L1116.67 530.89 L1117.00 526.80 L1117.33 519.33 L1117.67 512.86 L1118.00 508.15 L1118.33 508.26 L1118.67 508.37 L1119.00 510.74 L1119.33 516.69 L1119.67 522.65 L1120.00 529.22 L1120.33 534.61 L1120.67 541.16 L1121.00 548.54 L1121.33 555.12 L1121.67 559.95 L1122.00 565.21 L1122.33 572.58 L1122.67 578.25 L1123.00 585.12 L1123.33 591.22 L1123.67 596.48 L1124.00 600.53 L1124.33 609.05 L1124.67 614.72 L1125.00 619.88 L1125.33 624.01 L1125.67 632.40 L1126.00 638.93 L1126.33 643.42 L1126.67 646.40 L1127.00 646.40 L1127.33 646.40 L1127.67 646.40 L1128.00 646.40 L1128.33 646.40 L1128.67 646.40 L1129.00 646.40 L1129.33 646.40 L1129.67 646.40 L1130.00 642.89 L1130.33 636.41 L1130.67 631.98 L1131.00 624.30 L1131.33 620.74 L1131.67 614.80 L1132.00 609.64 L1132.33 603.49 L1132.67 598.55 L1133.00 592.78 L1133.33 587.16 L1133.67 581.51 L1134.00 574.68 L1134.33 570.01 L1134.67 565.02 L1135.00 560.12 L1135.33 551.83 L1135.67 546.34 L1136.00 540.51 L1136.33 535.76 L1136.67 531.13 L1137.00 525.94 L1137.33 520.85 L1137.67 514.53 L1138.00 509.08 L1138.33 506.68 L1138.67 510.42 L1139.00 511.54 L1139.33 517.40 L1139.67 523.60 L1140.00 529.71 L1140.33 537.52 L1140.67 543.15 L1141.00 547.91 L1141.33 553.60 L1141.67 558.41 L1142.00 564.94 L1142.33 572.75 L1142.67 578.94 L1143.00 582.88 L1143.33 591.31 L1143.67 594.36 L1144.00 603.00 L1144.33 607.30 L1144.67 612.47 L1145.00 620.90 L1145.33 626.81 L1145.67 631.06 L1146.00 636.74 L1146.33 643.42 L1146.67 646.40 L1147.00 646.40 L1147.33 646.40 L1147.67 646.40 L1148.00 646.40 L1148.33 646.40 L1148.67 646.40 L1149.00 646.40 L1149.33 646.40 L1149.67 646.40 L1150.00 643.01 L1150.33 636.00 L1150.67 629.42 L1151.00 623.96 L1151.33 619.67 L1151.67 615.39 L1152.00 607.89 L1152.33 602.63 L1152.67 597.47 L1153.00 591.38 L1153.33 585.90 L1153.67 580.70 L1154.00 574.96 L1154.33 569.39 L1154.67 563.19 L1155.00 557.60 L1155.33 554.56 L1155.67 546.57 L1156.00 542.80 L1156.33 536.69 L1156.67 531.83 L1157.00 526.01 L1157.33 520.19 L1157.67 514.49 L1158.00 510.09 L1158.33 508.76 L1158.67 509.59 L1159.00 512.55 L1159.33 518.05 L1159.67 525.51 L1160.00 529.89 L1160.33 534.73 L1160.67 541.23 L1161.00 547.79 L1161.33 552.95 L1161.67 560.29 L1162.00 566.91 L1162.33 571.47 L1162.67 578.63 L1163.00 584.50 L1163.33 588.86 L1163.67 595.66 L1164.00 602.71 L1164.33 608.54 L1164.67 612.83 L1165.00 619.07 L1165.33 624.23 L1165.67 630.71 L1166.00 638.15 L1166.33 643.42 L1166.67 646.40 L1167.00 646.40 L1167.33 646.40 L1167.67 646.40 L1168.00 646.40 L1168.33 646.40 L1168.67 646.40 L1169.00 646.40 L1169.33 646.40 L1169.67 646.40 L1170.00 640.77 L1170.33 634.67 L1170.67 629.14 L1171.00 623.51 L1171.33 620.47 L1171.67 614.61 L1172.00 609.33 L1172.33 601.72 L1172.67 596.60 L1173.00 591.51 L1173.33 587.15 L1173.67 580.93 L1174.00 574.50 L1174.33 571.11 L1174.67 562.80 L1175.00 557.88 L1175.33 551.74 L1175.67 546.04 L1176.00 541.91 L1176.33 537.08 L1176.67 531.30 L1177.00 525.43 L1177.33 519.52 L1177.67 515.07 L1178.00 509.50 L1178.33 508.06 L1178.67 508.67 L1179.00 513.75 L1179.33 516.85 L1179.67 523.63 L1180.00 530.07 L1180.33 535.86 L1180.67 540.96 L1181.00 548.20 L1181.33 554.50 L1181.67 561.23 L1182.00 566.41 L1182.33 573.26 L1182.67 578.59 L1183.00 583.31 L1183.33 590.19 L1183.67 594.36 L1184.00 601.76 L1184.33 606.54 L1184.67 614.54 L1185.00 618.01 L1185.33 624.38 L1185.67 630.18 L1186.00 636.46 L1186.33 643.42 L1186.67 646.40 L1187.00 646.40 L1187.33 646.40 L1187.67 646.40 L1188.00 646.40 L1188.33 646.40 L1188.67 646.40 L1189.00 646.40 L1189.33 646.40 L1189.67 646.40 L1190.00 641.37 L1190.33 637.02 L1190.67 629.26 L1191.00 623.37 L1191.33 619.46 L1191.67 612.94 L1192.00 607.87 L1192.33 601.87 L1192.67 595.90 L1193.00 591.21 L1193.33 587.32 L1193.67 580.84 L1194.00 574.98 L1194.33 570.48 L1194.67 563.40 L1195.00 559.10 L1195.33 554.35 L1195.67 547.95 L1196.00 541.20 L1196.33 536.00 L1196.67 531.48 L1197.00 525.65 L1197.33 519.25 L1197.67 513.20 L1198.00 510.08 L1198.33 509.08 L1198.67 509.73 L1199.00 513.09 L1199.33 519.18 L1199.67 524.75 L1200.00 531.24 L1200.33 537.54 L1200.67 542.24 L1201.00 548.18 L1201.33 553.56 L1201.67 558.51 L1202.00 564.44 L1202.33 571.91 L1202.67 578.51 L1203.00 583.38 L1203.33 589.91 L1203.67 595.40 L1204.00 600.27 L1204.33 606.79 L1204.67 612.02 L1205.00 618.55 L1205.33 624.66 L1205.67 629.88 L1206.00 636.69 L1206.33 643.42 L1206.67 646.40 L1207.00 646.40 L1207.33 646.40 L1207.67 646.40 L1208.00 646.40 L1208.33 646.40 L1208.67 646.40 L1209.00 646.40 L1209.33 646.40 L1209.67 646.40 L1210.00 640.62 L1210.33 635.34 L1210.67 628.86 L1211.00 624.75 L1211.33 619.68 L1211.67 613.43 L1212.00 609.27 L1212.33 601.82 L1212.67 597.15 L1213.00 592.16 L1213.33 585.60 L1213.67 579.97 L1214.00 574.76 L1214.33 570.20 L1214.67 564.01 L1215.00 560.12 L1215.33 553.31 L1215.67 549.03 L1216.00 541.66 L1216.33 537.81 L1216.67 531.78 L1217.00 524.48 L1217.33 519.19 L1217.67 515.24 L1218.00 510.34 L1218.33 506.62 L1218.67 509.67 L1219.00 513.61 L1219.33 518.07 L1219.67 523.08 L1220.00 529.77 L1220.33 536.72 L1220.67 541.96 L1221.00 548.40 L1221.33 552.50 L1221.67 558.94 L1222.00 566.81 L1222.33 571.47 L1222.67 576.81 L1223.00 584.72 L1223.33 590.89 L1223.67 595.47 L1224.00 601.21 L1224.33 607.87 L1224.67 613.46 L1225.00 619.24 L1225.33 624.88 L1225.67 632.79 L1226.00 637.97 L1226.33 643.42 L1226.67 646.40 L1227.00 646.40 L1227.33 646.40 L1227.67 646.40 L1228.00 646.40 L1228.33 646.40 L1228.67 646.40 L1229.00 646.40 L1229.33 646.40 L1229.67 646.40 L1230.00 642.57 L1230.33 636.80 L1230.67 629.04 L1231.00 624.45 L1231.33 618.24 L1231.67 614.11 L1232.00 609.20 L1232.33 604.09 L1232.67 596.33 L1233.00 590.53 L1233.33 585.42 L1233.67 581.55 L1234.00 574.27 L1234.33 568.33 L1234.67 564.69 L1235.00 558.56 L1235.33 551.45 L1235.67 548.46 L1236.00 541.47 L1236.33 535.54 L1236.67 530.70 L1237.00 524.04 L1237.33 519.86 L1237.67 515.43 L1238.00 509.26 L1238.33 508.70 L1238.67 509.42 L1239.00 512.58 L1239.33 517.08 L1239.67 523.70 L1240.00 529.11 L1240.33 535.72 L1240.67 543.40 L1241.00 549.01 L1241.33 555.15 L1241.67 559.21 L1242.00 566.32 L1242.33 570.79 L1242.67 576.53 L1243.00 582.62 L1243.33 589.21 L1243.67 596.55 L1244.00 603.02 L1244.33 607.65 L1244.67 612.63 L1245.00 618.32 L1245.33 626.89 L1245.67 632.94 L1246.00 637.73 L1246.33 643.42 L1246.67 646.40 L1247.00 646.40 L1247.33 646.40 L1247.67 646.40 L1248.00 646.40 L1248.33 646.40 L1248.67 646.40 L1249.00 646.40 L1249.33 646.40 L1249.67 646.40 L1250.00 641.08 L1250.33 636.47 L1250.67 629.76 L1251.00 624.01 L1251.33 618.25 L1251.67 612.41 L1252.00 609.33 L1252.33 601.32 L1252.67 598.62 L1253.00 591.34 L1253.33 585.28 L1253.67 581.89 L1254.00 575.88 L1254.33 569.00 L1254.67 564.31 L1255.00 559.81 L1255.33 554.47 L1255.67 547.14 L1256.00 543.14 L1256.33 537.57 L1256.67 531.68 L1257.00 525.27 L1257.33 521.22 L1257.67 514.88 L1258.00 509.51 L1258.33 508.90 L1258.67 508.64 L1259.00 512.30 L1259.33 517.22 L1259.67 522.71 L1260.00 528.63 L1260.33 536.89 L1260.67 541.43 L1261.00 549.15 L1261.33 555.44 L1261.67 559.48 L1262.00 565.77 L1262.33 572.92 L1262.67 578.46 L1263.00 583.06 L1263.33 589.37 L1263.67 596.96 L1264.00 600.50 L1264.33 609.19 L1264.67 613.90 L1265.00 619.20 L1265.33 626.36 L1265.67 632.60 L1266.00 637.38 L1266.33 643.42 L1266.67 646.40 L1267.00 646.40 L1267.33 646.40 L1267.67 646.40 L1268.00 646.40 L1268.33 646.40 L1268.67 646.40 L1269.00 646.40 L1269.33 646.40 L1269.67 646.40 L1270.00 640.11 L1270.33 637.01 L1270.67 631.64 L1271.00 625.47 L1271.33 617.82 L1271.67 615.27 L1272.00 607.97 L1272.33 602.27 L1272.67 595.77 L1273.00 592.88 L1273.33 585.36 L1273.67 580.88 L1274.00 573.84 L1274.33 568.19 L1274.67 563.69 L1275.00 558.13 L1275.33 554.26 L1275.67 548.10 L1276.00 540.64 L1276.33 535.98 L1276.67 531.70 L1277.00 526.38 L1277.33 518.84 L1277.67 513.39 L1278.00 508.35 L1278.33 507.08 L1278.67 510.40 L1279.00 512.22 L1279.33 516.95 L1279.67 523.39 L1280.00 530.44 L1280.33 536.40 L1280.67 540.83 L1281.00 547.37 L1281.33 554.96 L1281.67 560.42 L1282.00 566.69 L1282.33 572.31 L1282.67 577.95 L1283.00 585.30 L1283.33 591.32 L1283.67 594.94 L1284.00 601.86 L1284.33 609.20 L1284.67 613.73 L1285.00 619.09 L1285.33 626.04 L1285.67 632.44 L1286.00 636.25 L1286.33 643.42 L1286.67 646.40 L1287.00 646.40 L1287.33 646.40 L1287.67 646.40 L1288.00 646.40 L1288.33 646.40 L1288.67 646.40 L1289.00 646.40 L1289.33 646.40 L1289.67 646.40 L1290.00 640.43 L1290.33 635.89 L1290.67 629.82 L1291.00 624.29 L1291.33 619.09 L1291.67 614.33 L1292.00 608.66 L1292.33 603.60 L1292.67 597.70 L1293.00 593.06 L1293.33 585.21 L1293.67 581.30 L1294.00 576.67 L1294.33 570.55 L1294.67 563.05 L1295.00 558.26 L1295.33 553.99 L1295.67 548.94 L1296.00 542.30 L1296.33 536.25 L1296.67 530.58 L1297.00 526.59 L1297.33 518.99 L1297.67 513.25 L1298.00 508.68 L1298.33 506.58 L1298.67 510.31 L1299.00 513.02 L1299.33 519.10 L1299.67 522.85 L1300.00 528.92 L1300.33 536.97 L1300.67 541.28 L1301.00 548.48 L1301.33 552.95 L1301.67 560.56 L1302.00 565.49 L1302.33 571.47 L1302.67 577.47 L1303.00 582.60 L1303.33 589.37 L1303.67 596.55 L1304.00 602.10 L1304.33 608.36 L1304.67 613.54 L1305.00 619.79 L1305.33 625.53 L1305.67 632.07 L1306.00 636.47 L1306.33 643.42 L1306.67 646.40 L1307.00 646.40 L1307.33 646.40 L1307.67 646.40 L1308.00 646.40 L1308.33 646.40 L1308.67 646.40 L1309.00 646.40 L1309.33 646.40 L1309.67 646.40 L1310.00 641.58 L1310.33 636.00 L1310.67 630.55 L1311.00 624.85 L1311.33 619.80 L1311.67 613.89 L1312.00 609.83 L1312.33 602.73 L1312.67 598.13 L1313.00 592.05 L1313.33 587.43 L1313.67 582.00 L1314.00 575.56 L1314.33 569.20 L1314.67 565.68 L1315.00 557.19 L1315.33 553.99 L1315.67 548.10 L1316.00 542.76 L1316.33 534.99 L1316.67 529.75 L1317.00 523.88 L1317.33 519.07 L1317.67 513.44 L1318.00 510.10 L1318.33 508.81 L1318.67 508.16 L1319.00 512.37 L1319.33 519.25 L1319.67 524.45 L1320.00 530.18 L1320.33 535.48 L1320.67 541.43 L1321.00 547.98 L1321.33 554.81 L1321.67 559.63 L1322.00 565.32 L1322.33 572.24 L1322.67 576.19 L1323.00 583.91 L1323.33 591.06 L1323.67 596.08 L1324.00 601.58 L1324.33 608.14 L1324.67 612.69 L1325.00 618.87 L1325.33 625.72 L1325.67 630.76 L1326.00 636.51 L1326.33 643.42 L1326.67 646.40 L1327.00 646.40 L1327.33 646.40 L1327.67 646.40 L1328.00 646.40 L1328.33 646.40 L1328.67 646.40 L1329.00 646.40 L1329.33 646.40 L1329.67 646.40 L1330.00 642.31 L1330.33 634.29 L1330.67 631.98 L1331.00 623.37 L1331.33 618.49 L1331.67 612.79 L1332.00 609.89 L1332.33 601.65 L1332.67 598.12 L1333.00 592.47 L1333.33 584.92 L1333.67 580.68 L1334.00 573.61 L1334.33 568.98 L1334.67 562.83 L1335.00 558.16 L1335.33 551.52 L1335.67 547.04 L1336.00 542.36 L1336.33 537.11 L1336.67 530.75 L1337.00 526.21 L1337.33 518.26 L1337.67 512.93 L1338.00 507.50 L1338.33 507.22 L1338.67 508.28 L1339.00 511.78 L1339.33 516.55 L1339.67 525.35 L1340.00 531.01 L1340.33 536.13 L1340.67 543.23 L1341.00 549.44 L1341.33 553.41 L1341.67 559.04 L1342.00 564.44 L1342.33 571.11 L1342.67 576.47 L1343.00 584.45 L1343.33 590.54 L1343.67 595.78 L1344.00 603.26 L1344.33 608.98 L1344.67 614.15 L1345.00 619.25 L1345.33 624.26 L1345.67 631.61 L1346.00 637.14 L1346.33 643.42 L1346.67 646.40 L1347.00 646.40 L1347.33 646.40 L1347.67 646.40 L1348.00 646.40 L1348.33 646.40 L1348.67 646.40 L1349.00 646.40 L1349.33 646.40 L1349.67 646.40 L1350.00 642.44 L1350.33 634.52 L1350.67 629.64 L1351.00 625.15 L1351.33 620.90 L1351.67 613.01 L1352.00 608.65" fill="none" stroke="#4aa336" stroke-width="1.2"/><path d="M997.00 589.13 L997.33 581.56 L997.67 573.40 L998.00 565.20 L998.33 559.71 L998.67 552.55 L999.00 544.91 L999.33 535.95 L999.67 530.68 L1000.00 521.50 L1000.33 518.95 L1000.67 519.75 L1001.00 517.56 L1001.33 517.67 L1001.67 524.14 L1002.00 528.59 L1002.33 537.87 L1002.67 544.45 L1003.00 547.83 L1003.33 555.91 L1003.67 562.93 L1004.00 568.85 L1004.33 575.09 L1004.67 579.53 L1005.00 588.29 L1005.33 594.61 L1005.67 599.77 L1006.00 606.24 L1006.33 611.28 L1006.67 618.00 L1007.00 625.91 L1007.33 632.75 L1007.67 637.06 L1008.00 644.50 L1008.33 646.40 L1008.67 646.40 L1009.00 646.40 L1009.33 646.40 L1009.67 646.40 L1010.00 646.40 L1010.33 640.23 L1010.67 636.78 L1011.00 627.94 L1011.33 620.96 L1011.67 615.11 L1012.00 609.96 L1012.33 601.53 L1012.67 595.19 L1013.00 592.30 L1013.33 590.72 L1013.67 591.95 L1014.00 592.39 L1014.33 591.30 L1014.67 591.17 L1015.00 590.83 L1015.33 589.89 L1015.67 589.14 L1016.00 588.60 L1016.33 588.42 L1016.67 588.23 L1017.00 586.62 L1017.33 580.93 L1017.67 574.10 L1018.00 565.40 L1018.33 558.40 L1018.67 550.73 L1019.00 545.36 L1019.33 537.78 L1019.67 528.17 L1020.00 521.95 L1020.33 518.84 L1020.67 519.89 L1021.00 518.00 L1021.33 516.17 L1021.67 523.37 L1022.00 528.61 L1022.33 537.53 L1022.67 543.05 L1023.00 548.28 L1023.33 555.78 L1023.67 561.01 L1024.00 568.10 L1024.33 575.89 L1024.67 582.30 L1025.00 585.78 L1025.33 594.93 L1025.67 601.04 L1026.00 606.93 L1026.33 612.06 L1026.67 617.95 L1027.00 625.52 L1027.33 631.80 L1027.67 637.21 L1028.00 644.50 L1028.33 646.40 L1028.67 646.40 L1029.00 646.40 L1029.33 646.40 L1029.67 646.40 L1030.00 646.40 L1030.33 642.53 L1030.67 635.67 L1031.00 628.34 L1031.33 621.71 L1031.67 617.09 L1032.00 610.30 L1032.33 603.66 L1032.67 595.21 L1033.00 590.68 L1033.33 589.64 L1033.67 590.17 L1034.00 591.70 L1034.33 589.91 L1034.67 589.06 L1035.00 590.99 L1035.33 591.95 L1035.67 590.63 L1036.00 590.80 L1036.33 591.01 L1036.67 591.30 L1037.00 588.77 L1037.33 579.12 L1037.67 574.51 L1038.00 565.43 L1038.33 559.49 L1038.67 552.28 L1039.00 543.00 L1039.33 537.44 L1039.67 530.56 L1040.00 522.43 L1040.33 518.85 L1040.67 518.50 L1041.00 516.51 L1041.33 517.82 L1041.67 523.77 L1042.00 529.50 L1042.33 536.68 L1042.67 542.20 L1043.00 549.36 L1043.33 556.79 L1043.67 563.17 L1044.00 567.38 L1044.33 573.86 L1044.67 579.57 L1045.00 586.73 L1045.33 593.44 L1045.67 601.13 L1046.00 605.25 L1046.33 613.98 L1046.67 619.34 L1047.00 626.61 L1047.33 632.18 L1047.67 638.77 L1048.00 644.50 L1048.33 646.40 L1048.67 646.40 L1049.00 646.40 L1049.33 646.40 L1049.67 646.40 L1050.00 646.40 L1050.33 642.05 L1050.67 634.58 L1051.00 628.57 L1051.33 622.98 L1051.67 614.69 L1052.00 608.28 L1052.33 601.43 L1052.67 597.45 L1053.00 590.94 L1053.33 589.89 L1053.67 591.82 L1054.00 591.87 L1054.33 589.75 L1054.67 591.07 L1055.00 590.82 L1055.33 589.34 L1055.67 590.60 L1056.00 591.07 L1056.33 590.88 L1056.67 590.32 L1057.00 586.91 L1057.33 580.73 L1057.67 572.17 L1058.00 567.20 L1058.33 559.36 L1058.67 550.89 L1059.00 544.11 L1059.33 536.79 L1059.67 528.12 L1060.00 523.00 L1060.33 520.51 L1060.67 520.09 L1061.00 517.73 L1061.33 518.16 L1061.67 523.94 L1062.00 531.80 L1062.33 538.17 L1062.67 543.29 L1063.00 548.42 L1063.33 556.25 L1063.67 560.61 L1064.00 568.04 L1064.33 574.96 L1064.67 580.10 L1065.00 588.21 L1065.33 593.36 L1065.67 598.93 L1066.00 606.26 L1066.33 613.33 L1066.67 620.40 L1067.00 625.21 L1067.33 632.81 L1067.67 638.56 L1068.00 644.50 L1068.33 646.40 L1068.67 646.40 L1069.00 646.40 L1069.33 646.40 L1069.67 646.40 L1070.00 646.40 L1070.33 641.67 L1070.67 633.83 L1071.00 628.14 L1071.33 622.09 L1071.67 614.44 L1072.00 609.66 L1072.33 602.85 L1072.67 595.36 L1073.00 591.13 L1073.33 592.07 L1073.67 591.33 L1074.00 589.86 L1074.33 591.60 L1074.67 589.97 L1075.00 591.96 L1075.33 588.89 L1075.67 589.63 L1076.00 590.66 L1076.33 588.39 L1076.67 588.86 L1077.00 588.97 L1077.33 581.12 L1077.67 573.08 L1078.00 564.18 L1078.33 559.71 L1078.67 552.76 L1079.00 544.65 L1079.33 538.26 L1079.67 529.83 L1080.00 522.16 L1080.33 519.67 L1080.67 519.74 L1081.00 519.22 L1081.33 516.52 L1081.67 524.05 L1082.00 530.27 L1082.33 536.62 L1082.67 542.30 L1083.00 547.95 L1083.33 554.54 L1083.67 561.21 L1084.00 568.82 L1084.33 575.72 L1084.67 582.33 L1085.00 586.19 L1085.33 595.13 L1085.67 599.82 L1086.00 605.07 L1086.33 613.32 L1086.67 619.46 L1087.00 625.71 L1087.33 630.36 L1087.67 637.55 L1088.00 644.50 L1088.33 646.40 L1088.67 646.40 L1089.00 646.40 L1089.33 646.40 L1089.67 646.40 L1090.00 646.40 L1090.33 640.72 L1090.67 636.75 L1091.00 627.96 L1091.33 622.31 L1091.67 615.92 L1092.00 608.02 L1092.33 601.73 L1092.67 594.61 L1093.00 590.54 L1093.33 589.85 L1093.67 591.27 L1094.00 590.72 L1094.33 589.85 L1094.67 590.78 L1095.00 591.67 L1095.33 590.09 L1095.67 589.03 L1096.00 588.89 L1096.33 591.17 L1096.67 590.21 L1097.00 588.43 L1097.33 580.82 L1097.67 571.56 L1098.00 566.05 L1098.33 559.15 L1098.67 552.03 L1099.00 544.23 L1099.33 536.24 L1099.67 530.04 L1100.00 523.30 L1100.33 520.36 L1100.67 519.35 L1101.00 516.36 L1101.33 518.57 L1101.67 523.03 L1102.00 531.47 L1102.33 535.63 L1102.67 543.66 L1103.00 548.35 L1103.33 555.82 L1103.67 563.32 L1104.00 569.61 L1104.33 573.68 L1104.67 580.86 L1105.00 587.39 L1105.33 594.18 L1105.67 599.43 L1106.00 606.45 L1106.33 614.17 L1106.67 618.77 L1107.00 626.05 L1107.33 630.67 L1107.67 637.99 L1108.00 644.50 L1108.33 646.40 L1108.67 646.40 L1109.00 646.40 L1109.33 646.40 L1109.67 646.40 L1110.00 646.40 L1110.33 640.93 L1110.67 636.49 L1111.00 628.03 L1111.33 621.79 L1111.67 614.46 L1112.00 607.80 L1112.33 602.32 L1112.67 595.64 L1113.00 590.44 L1113.33 591.94 L1113.67 590.89 L1114.00 589.97 L1114.33 590.46 L1114.67 590.50 L1115.00 589.35 L1115.33 588.82 L1115.67 591.01 L1116.00 591.47 L1116.33 589.59 L1116.67 590.96 L1117.00 586.03 L1117.33 580.38 L1117.67 572.94 L1118.00 564.77 L1118.33 557.35 L1118.67 552.45 L1119.00 544.19 L1119.33 537.82 L1119.67 529.66 L1120.00 523.47 L1120.33 518.26 L1120.67 519.04 L1121.00 518.04 L1121.33 516.22 L1121.67 522.81 L1122.00 530.73 L1122.33 536.55 L1122.67 542.37 L1123.00 550.26 L1123.33 556.78 L1123.67 560.79 L1124.00 569.39 L1124.33 573.98 L1124.67 580.23 L1125.00 587.05 L1125.33 594.20 L1125.67 598.89 L1126.00 605.47 L1126.33 614.14 L1126.67 617.81 L1127.00 625.00 L1127.33 632.48 L1127.67 639.22 L1128.00 644.50 L1128.33 646.40 L1128.67 646.40 L1129.00 646.40 L1129.33 646.40 L1129.67 646.40 L1130.00 646.40 L1130.33 643.11 L1130.67 634.25 L1131.00 627.58 L1131.33 622.64 L1131.67 616.63 L1132.00 610.43 L1132.33 602.77 L1132.67 596.59 L1133.00 592.76 L1133.33 591.83 L1133.67 590.00 L1134.00 592.31 L1134.33 591.08 L1134.67 590.59 L1135.00 591.59 L1135.33 591.86 L1135.67 591.61 L1136.00 591.25 L1136.33 588.42 L1136.67 588.65 L1137.00 586.89 L1137.33 579.01 L1137.67 573.61 L1138.00 566.61 L1138.33 557.35 L1138.67 550.95 L1139.00 542.67 L1139.33 537.24 L1139.67 529.82 L1140.00 521.58 L1140.33 518.24 L1140.67 519.66 L1141.00 518.44 L1141.33 519.08 L1141.67 523.66 L1142.00 528.83 L1142.33 536.33 L1142.67 544.04 L1143.00 548.63 L1143.33 555.12 L1143.67 563.23 L1144.00 566.96 L1144.33 574.13 L1144.67 581.03 L1145.00 587.85 L1145.33 594.80 L1145.67 600.15 L1146.00 606.83 L1146.33 613.61 L1146.67 618.62 L1147.00 624.92 L1147.33 630.32 L1147.67 636.63 L1148.00 644.50 L1148.33 646.40 L1148.67 646.40 L1149.00 646.40 L1149.33 646.40 L1149.67 646.40 L1150.00 646.40 L1150.33 641.92 L1150.67 634.56 L1151.00 629.11 L1151.33 622.37 L1151.67 615.38 L1152.00 607.49 L1152.33 603.97 L1152.67 596.06 L1153.00 591.84 L1153.33 590.19 L1153.67 589.58 L1154.00 590.99 L1154.33 592.13 L1154.67 590.33 L1155.00 590.22 L1155.33 589.78 L1155.67 589.33 L1156.00 590.21 L1156.33 589.80 L1156.67 588.96 L1157.00 589.08 L1157.33 581.14 L1157.67 572.44 L1158.00 564.25 L1158.33 557.11 L1158.67 552.00 L1159.00 542.51 L1159.33 537.50 L1159.67 529.69 L1160.00 523.39 L1160.33 519.14 L1160.67 518.93 L1161.00 517.08 L1161.33 516.02 L1161.67 525.06 L1162.00 529.69 L1162.33 536.22 L1162.67 543.63 L1163.00 550.76 L1163.33 554.18 L1163.67 561.32 L1164.00 567.89 L1164.33 575.94 L1164.67 579.70 L1165.00 587.68 L1165.33 593.81 L1165.67 599.87 L1166.00 606.57 L1166.33 611.28 L1166.67 619.20 L1167.00 624.87 L1167.33 630.91 L1167.67 636.74 L1168.00 644.50 L1168.33 646.40 L1168.67 646.40 L1169.00 646.40 L1169.33 646.40 L1169.67 646.40 L1170.00 646.40 L1170.33 642.88 L1170.67 635.78 L1171.00 627.25 L1171.33 621.81 L1171.67 616.01 L1172.00 607.81 L1172.33 603.72 L1172.67 596.74 L1173.00 592.70 L1173.33 590.62 L1173.67 591.08 L1174.00 591.54 L1174.33 590.96 L1174.67 591.43 L1175.00 589.82 L1175.33 589.52 L1175.67 590.61 L1176.00 588.90 L1176.33 591.43 L1176.67 589.61 L1177.00 588.68 L1177.33 581.54 L1177.67 572.86 L1178.00 567.13 L1178.33 559.92 L1178.67 552.48 L1179.00 544.44 L1179.33 535.72 L1179.67 530.22 L1180.00 523.50 L1180.33 518.61 L1180.67 517.55 L1181.00 516.07 L1181.33 518.96 L1181.67 524.94 L1182.00 530.42 L1182.33 534.96 L1182.67 542.77 L1183.00 548.01 L1183.33 556.49 L1183.67 562.05 L1184.00 567.69 L1184.33 575.53 L1184.67 580.93 L1185.00 586.30 L1185.33 592.68 L1185.67 599.41 L1186.00 605.33 L1186.33 611.14 L1186.67 618.76 L1187.00 626.26 L1187.33 632.70 L1187.67 639.58 L1188.00 644.50 L1188.33 646.40 L1188.67 646.40 L1189.00 646.40 L1189.33 646.40 L1189.67 646.40 L1190.00 646.40 L1190.33 640.46 L1190.67 635.03 L1191.00 628.37 L1191.33 620.94 L1191.67 614.98 L1192.00 609.39 L1192.33 602.21 L1192.67 597.29 L1193.00 592.11 L1193.33 591.68 L1193.67 590.08 L1194.00 590.38 L1194.33 590.43 L1194.67 590.97 L1195.00 590.98 L1195.33 590.74 L1195.67 591.69 L1196.00 590.55 L1196.33 588.63 L1196.67 588.80 L1197.00 588.37 L1197.33 580.31 L1197.67 572.26 L1198.00 566.77 L1198.33 559.01 L1198.67 551.01 L1199.00 545.05 L1199.33 535.46 L1199.67 531.09 L1200.00 521.05 L1200.33 518.93 L1200.67 518.91 L1201.00 518.36 L1201.33 516.31 L1201.67 523.17 L1202.00 531.14 L1202.33 537.14 L1202.67 544.22 L1203.00 548.83 L1203.33 555.85 L1203.67 562.54 L1204.00 567.64 L1204.33 575.45 L1204.67 582.16 L1205.00 586.39 L1205.33 592.45 L1205.67 599.05 L1206.00 606.21 L1206.33 612.04 L1206.67 617.92 L1207.00 626.94 L1207.33 632.45 L1207.67 638.61 L1208.00 644.50 L1208.33 646.40 L1208.67 646.40 L1209.00 646.40 L1209.33 646.40 L1209.67 646.40 L1210.00 646.40 L1210.33 641.06 L1210.67 635.79 L1211.00 627.85 L1211.33 622.94 L1211.67 614.15 L1212.00 609.25 L1212.33 602.20 L1212.67 595.52 L1213.00 590.27 L1213.33 590.97 L1213.67 591.97 L1214.00 591.10 L1214.33 590.57 L1214.67 592.02 L1215.00 589.43 L1215.33 590.99 L1215.67 588.87 L1216.00 590.51 L1216.33 588.50 L1216.67 589.11 L1217.00 587.90 L1217.33 579.65 L1217.67 574.67 L1218.00 567.14 L1218.33 558.27 L1218.67 551.91 L1219.00 544.34 L1219.33 536.12 L1219.67 529.62 L1220.00 521.92 L1220.33 518.69 L1220.67 517.49 L1221.00 518.95 L1221.33 516.44 L1221.67 523.06 L1222.00 531.09 L1222.33 537.90 L1222.67 543.89 L1223.00 550.58 L1223.33 555.37 L1223.67 560.35 L1224.00 568.35 L1224.33 575.37 L1224.67 582.07 L1225.00 585.82 L1225.33 593.55 L1225.67 600.90 L1226.00 605.07 L1226.33 613.01 L1226.67 617.53 L1227.00 625.41 L1227.33 632.59 L1227.67 639.16 L1228.00 644.50 L1228.33 646.40 L1228.67 646.40 L1229.00 646.40 L1229.33 646.40 L1229.67 646.40 L1230.00 646.40 L1230.33 643.38 L1230.67 634.24 L1231.00 629.26 L1231.33 621.41 L1231.67 614.49 L1232.00 609.36 L1232.33 602.46 L1232.67 595.22 L1233.00 590.85 L1233.33 591.62 L1233.67 592.02 L1234.00 591.60 L1234.33 592.32 L1234.67 590.20 L1235.00 590.04 L1235.33 589.48 L1235.67 590.42 L1236.00 589.34 L1236.33 589.77 L1236.67 588.68 L1237.00 587.39 L1237.33 579.74 L1237.67 572.73 L1238.00 566.76 L1238.33 559.91 L1238.67 550.26 L1239.00 543.42 L1239.33 536.75 L1239.67 528.19 L1240.00 523.31 L1240.33 518.72 L1240.67 518.57 L1241.00 518.96 L1241.33 518.70 L1241.67 525.39 L1242.00 531.21 L1242.33 535.65 L1242.67 542.97 L1243.00 550.72 L1243.33 555.62 L1243.67 560.42 L1244.00 567.37 L1244.33 575.29 L1244.67 581.05 L1245.00 587.78 L1245.33 594.57 L1245.67 599.54 L1246.00 607.94 L1246.33 612.83 L1246.67 617.71 L1247.00 624.62 L1247.33 631.29 L1247.67 637.07 L1248.00 644.50 L1248.33 646.40 L1248.67 646.40 L1249.00 646.40 L1249.33 646.40 L1249.67 646.40 L1250.00 646.40 L1250.33 640.35 L1250.67 636.00 L1251.00 627.26 L1251.33 620.88 L1251.67 615.62 L1252.00 610.22 L1252.33 602.38 L1252.67 595.95 L1253.00 589.70 L1253.33 592.00 L1253.67 590.33 L1254.00 590.06 L1254.33 590.44 L1254.67 591.33 L1255.00 589.18 L1255.33 591.16 L1255.67 589.07 L1256.00 588.84 L1256.33 589.86 L1256.67 591.27 L1257.00 588.29 L1257.33 581.71 L1257.67 574.07 L1258.00 566.26 L1258.33 558.30 L1258.67 550.31 L1259.00 545.51 L1259.33 536.00 L1259.67 530.80 L1260.00 521.59 L1260.33 521.06 L1260.67 519.04 L1261.00 516.29 L1261.33 516.29 L1261.67 525.30 L1262.00 530.56 L1262.33 535.21 L1262.67 543.95 L1263.00 549.39 L1263.33 556.37 L1263.67 562.61 L1264.00 568.33 L1264.33 575.82 L1264.67 582.12 L1265.00 585.81 L1265.33 592.85 L1265.67 599.73 L1266.00 607.58 L1266.33 613.94 L1266.67 618.70 L1267.00 625.07 L1267.33 633.38 L1267.67 636.64 L1268.00 644.50 L1268.33 646.40 L1268.67 646.40 L1269.00 646.40 L1269.33 646.40 L1269.67 646.40 L1270.00 646.40 L1270.33 642.22 L1270.67 636.01 L1271.00 628.27 L1271.33 620.81 L1271.67 616.08 L1272.00 609.01 L1272.33 603.95 L1272.67 596.04 L1273.00 590.02 L1273.33 589.75 L1273.67 591.52 L1274.00 589.74 L1274.33 589.17 L1274.67 591.27 L1275.00 589.35 L1275.33 591.07 L1275.67 588.72 L1276.00 588.80 L1276.33 588.43 L1276.67 590.12 L1277.00 586.95 L1277.33 579.64 L1277.67 572.78 L1278.00 567.25 L1278.33 558.01 L1278.67 550.31 L1279.00 543.58 L1279.33 535.48 L1279.67 528.03 L1280.00 521.83 L1280.33 519.94 L1280.67 518.55 L1281.00 518.71 L1281.33 518.40 L1281.67 522.30 L1282.00 530.39 L1282.33 536.66 L1282.67 541.65 L1283.00 548.29 L1283.33 557.08 L1283.67 562.23 L1284.00 568.20 L1284.33 575.50 L1284.67 580.14 L1285.00 586.96 L1285.33 592.57 L1285.67 601.23 L1286.00 607.41 L1286.33 613.38 L1286.67 619.04 L1287.00 626.24 L1287.33 631.75 L1287.67 638.64 L1288.00 644.50 L1288.33 646.40 L1288.67 646.40 L1289.00 646.40 L1289.33 646.40 L1289.67 646.40 L1290.00 646.40 L1290.33 643.23 L1290.67 634.20 L1291.00 628.57 L1291.33 620.85 L1291.67 615.53 L1292.00 607.88 L1292.33 602.14 L1292.67 595.95 L1293.00 589.89 L1293.33 591.62 L1293.67 589.49 L1294.00 590.62 L1294.33 589.31 L1294.67 591.95 L1295.00 590.37 L1295.33 590.96 L1295.67 589.20 L1296.00 588.76 L1296.33 588.79 L1296.67 590.19 L1297.00 588.94 L1297.33 578.77 L1297.67 574.00 L1298.00 564.74 L1298.33 558.25 L1298.67 550.54 L1299.00 543.37 L1299.33 537.64 L1299.67 529.90 L1300.00 522.66 L1300.33 518.82 L1300.67 517.99 L1301.00 516.09 L1301.33 517.38 L1301.67 524.34 L1302.00 531.43 L1302.33 536.74 L1302.67 542.59 L1303.00 548.64 L1303.33 557.13 L1303.67 562.93 L1304.00 567.86 L1304.33 573.73 L1304.67 579.57 L1305.00 588.52 L1305.33 592.96 L1305.67 600.21 L1306.00 606.10 L1306.33 612.15 L1306.67 619.40 L1307.00 625.10 L1307.33 630.29 L1307.67 639.69 L1308.00 644.50 L1308.33 646.40 L1308.67 646.40 L1309.00 646.40 L1309.33 646.40 L1309.67 646.40 L1310.00 646.40 L1310.33 641.65 L1310.67 633.64 L1311.00 627.49 L1311.33 622.96 L1311.67 614.68 L1312.00 607.70 L1312.33 602.78 L1312.67 595.77 L1313.00 591.97 L1313.33 589.56 L1313.67 592.06 L1314.00 590.25 L1314.33 589.18 L1314.67 589.10 L1315.00 589.36 L1315.33 590.58 L1315.67 588.81 L1316.00 588.94 L1316.33 590.22 L1316.67 590.23 L1317.00 588.11 L1317.33 580.87 L1317.67 572.82 L1318.00 566.07 L1318.33 557.06 L1318.67 552.91 L1319.00 543.70 L1319.33 537.01 L1319.67 527.92 L1320.00 520.68 L1320.33 518.78 L1320.67 517.83 L1321.00 518.07 L1321.33 516.86 L1321.67 524.68 L1322.00 529.18 L1322.33 536.31 L1322.67 543.77 L1323.00 550.19 L1323.33 555.96 L1323.67 562.45 L1324.00 567.77 L1324.33 574.77 L1324.67 582.51 L1325.00 587.91 L1325.33 593.85 L1325.67 598.46 L1326.00 605.02 L1326.33 612.37 L1326.67 617.59 L1327.00 626.58 L1327.33 632.75 L1327.67 639.28 L1328.00 644.50 L1328.33 646.40 L1328.67 646.40 L1329.00 646.40 L1329.33 646.40 L1329.67 646.40 L1330.00 646.40 L1330.33 642.60 L1330.67 635.97 L1331.00 628.58 L1331.33 620.90 L1331.67 616.07 L1332.00 609.62 L1332.33 602.58 L1332.67 594.48 L1333.00 591.29 L1333.33 589.61 L1333.67 591.66 L1334.00 590.73 L1334.33 590.35 L1334.67 589.92 L1335.00 589.41 L1335.33 591.60 L1335.67 591.18 L1336.00 591.37 L1336.33 589.07 L1336.67 589.84 L1337.00 587.57 L1337.33 581.80 L1337.67 572.08 L1338.00 564.27 L1338.33 560.12 L1338.67 549.71 L1339.00 544.09 L1339.33 538.02 L1339.67 531.06 L1340.00 521.63 L1340.33 518.50 L1340.67 518.87 L1341.00 516.48 L1341.33 519.11 L1341.67 522.66 L1342.00 531.31 L1342.33 537.57 L1342.67 543.43 L1343.00 549.80 L1343.33 554.31 L1343.67 561.94 L1344.00 568.53 L1344.33 573.64 L1344.67 581.22 L1345.00 587.96 L1345.33 594.20 L1345.67 599.78 L1346.00 605.07 L1346.33 611.37 L1346.67 620.64 L1347.00 625.88 L1347.33 631.16 L1347.67 638.16 L1348.00 644.50 L1348.33 646.40 L1348.67 646.40 L1349.00 646.40 L1349.33 646.40 L1349.67 646.40 L1350.00 646.40 L1350.33 641.05 L1350.67 633.84 L1351.00 630.18 L1351.33 621.52 L1351.67 616.44 L1352.00 608.55" fill="none" stroke="#2e8a17" stroke-width="1.8"/></g><path d="M997 501 V646.4" stroke="#a8d0f4" stroke-width="1"/><path d="M993 501.00 H997" stroke="#a8d0f4" stroke-width="1"/><path d="M993 516.87 H997" stroke="#a8d0f4" stroke-width="1"/><path d="M993 549.25 H997" stroke="#a8d0f4" stroke-width="1"/><path d="M993 581.63 H997" stroke="#a8d0f4" stroke-width="1"/><path d="M993 614.02 H997" stroke="#a8d0f4" stroke-width="1"/><path d="M993 646.40 H997" stroke="#a8d0f4" stroke-width="1"/><path d="M997 650.3 H1352" stroke="#555" stroke-width="1.6"/><path d="M997 650.3 V654" stroke="#555" stroke-width="1"/><path d="M1005 650.3 V654" stroke="#555" stroke-width="1"/><path d="M1049.3 650.3 V654" stroke="#555" stroke-width="1"/><path d="M1093.3 650.3 V654" stroke="#555" stroke-width="1"/><path d="M1138 650.3 V654" stroke="#555" stroke-width="1"/><path d="M1182 650.3 V654" stroke="#555" stroke-width="1"/><path d="M1226 650.3 V654" stroke="#555" stroke-width="1"/><path d="M1270.7 650.3 V654" stroke="#555" stroke-width="1"/><path d="M1315.5 650.3 V654" stroke="#555" stroke-width="1"/><path d="M1352 650.3 V654" stroke="#555" stroke-width="1"/></svg>
<div class="t axl" style="left:950px;width:40px;top:491.00px">44.9</div>
<div class="t axl" style="left:950px;width:40px;top:506.87px">40</div>
<div class="t axl" style="left:950px;width:40px;top:539.25px">30</div>
<div class="t axl" style="left:950px;width:40px;top:571.63px">20</div>
<div class="t axl" style="left:950px;width:40px;top:604.02px">10</div>
<div class="t axl" style="left:950px;width:40px;top:636.40px">0</div>
<div class="t axx" style="left:975px;width:60px;top:652px">03 PM</div>
<div class="t axx" style="left:1019.3px;width:60px;top:652px">06 PM</div>
<div class="t axx" style="left:1063.3px;width:60px;top:652px">09 PM</div>
<div class="t axx" style="left:1108px;width:60px;top:652px">Mon, 19</div>
<div class="t axx" style="left:1152px;width:60px;top:652px">03 AM</div>
<div class="t axx" style="left:1196px;width:60px;top:652px">06 AM</div>
<div class="t axx" style="left:1240.7px;width:60px;top:652px">09 AM</div>
<div class="t axx" style="left:1285.5px;width:60px;top:652px">12 PM</div>
<div class="a cbdg" style="left:1067.5px;top:501px;width:43.5px;height:16.0px;background:#eba8cc">ACTIVE</div>
<div class="a cbdg" style="left:1140px;top:501px;width:28.0px;height:16.0px;background:#2f7f00">45.1</div>
<div class="a cbdg" style="left:1203px;top:501px;width:28.0px;height:16.0px;background:#5c0f8b">47.1</div>
<div class="a cbdg" style="left:1266px;top:501px;width:29.0px;height:16.0px;background:#2f7f00">54.2</div>
<div class="a cbdg" style="left:1062px;top:628.8px;width:55.0px;height:15.6px;background:#eba8cc">INACTIVE</div>
<div class="a cbdg" style="left:1147px;top:628.8px;width:14.0px;height:15.6px;background:#2f7f00">0</div>
<div class="a cbdg" style="left:1210px;top:628.8px;width:13.0px;height:15.6px;background:#5c0f8b">0</div>
<div class="a cbdg" style="left:1274px;top:628.8px;width:13.0px;height:15.6px;background:#2f7f00">0</div>
<div class="a" style="left:1197px;top:85.8px;width:172px;height:167px;background:#fff;border-radius:4px;box-shadow:0 3px 12px rgba(0,0,0,0.16)"></div>
<div class="a" style="left:1341px;top:81px;width:9px;height:9px;background:#fff;transform:rotate(45deg);box-shadow:-1px -1px 2px rgba(0,0,0,0.05)"></div>
<div class="a" style="left:1197px;top:126.7px;width:172.00px;height:1.00px;background:#e6e6e6"></div>
<div class="a" style="left:1197px;top:169.2px;width:172.00px;height:1.00px;background:#e6e6e6"></div>
<div class="a" style="left:1197px;top:211px;width:172.00px;height:1.00px;background:#e6e6e6"></div>
<div class="t mnu" style="left:1213px;top:96.00px;">Compress dashboard</div>
<div class="t mnu" style="left:1213px;top:137.50px;">Export as HTML</div>
<div class="t mnu" style="left:1213px;top:179.50px;">Share</div>
<div class="t mnu" style="left:1213px;top:221.00px;">Close quickstart panel</div>
<div class="a" style="left:51px;top:31px;width:1327px;height:829px;border:1px solid rgba(255,255,255,0.9)"></div>
</body></html>
